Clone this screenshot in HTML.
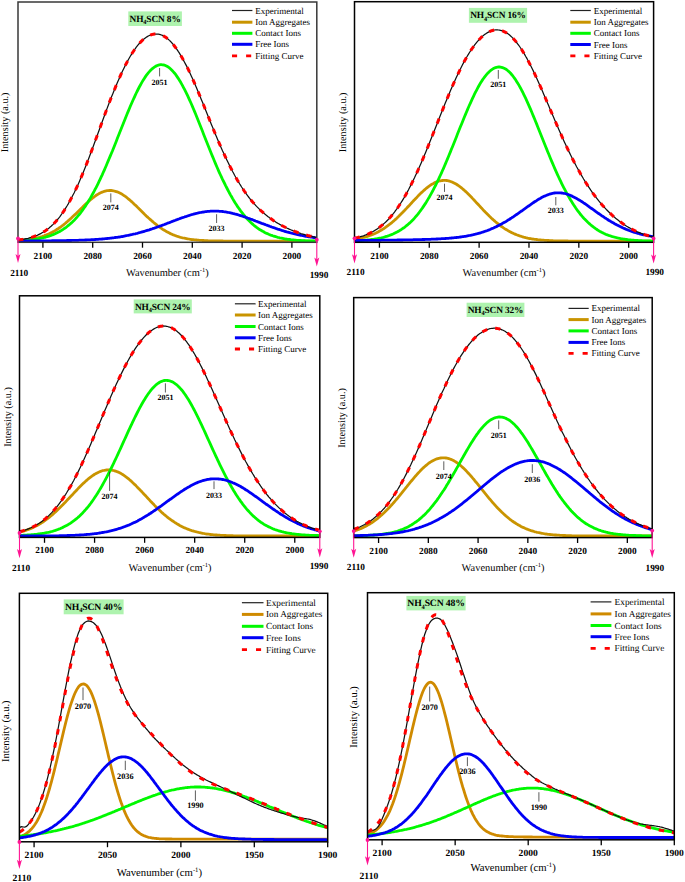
<!DOCTYPE html>
<html><head><meta charset="utf-8"><style>
html,body{margin:0;padding:0;background:#fff;width:685px;height:882px;overflow:hidden}
svg{display:block}
text{font-family:"Liberation Serif",serif;fill:#000;text-rendering:geometricPrecision}
.tl{font-size:9px;font-weight:bold;text-anchor:middle}
.pl{font-size:8px;font-weight:bold;text-anchor:middle}
.tt{font-size:9.4px;letter-spacing:-0.15px;font-weight:bold;text-anchor:middle}
.lg{font-size:9px}
.al{font-size:10px;text-anchor:middle}
.xl{font-size:10.4px;text-anchor:middle}
</style></head><body>
<svg width="685" height="882" viewBox="0 0 685 882"><defs><clipPath id="c8"><rect x="18.00" y="2.00" width="298.80" height="240.30"/></clipPath><clipPath id="c16"><rect x="354.50" y="1.70" width="299.10" height="240.60"/></clipPath><clipPath id="c24"><rect x="19.50" y="295.80" width="300.30" height="241.60"/></clipPath><clipPath id="c32"><rect x="353.70" y="297.60" width="298.50" height="240.00"/></clipPath><clipPath id="c40"><rect x="19.40" y="593.30" width="308.30" height="248.50"/></clipPath><clipPath id="c48"><rect x="367.50" y="592.70" width="306.80" height="247.10"/></clipPath></defs>
<g clip-path="url(#c8)" fill="none">
<path d="M18.0,240.4L19.0,240.4L20.0,240.3L21.0,240.2L22.0,240.2L23.0,240.1L24.0,240.0L25.0,239.9L26.0,239.8L27.0,239.6L28.0,239.5L29.0,239.4L30.0,239.2L31.0,239.1L32.0,238.9L33.0,238.7L34.0,238.5L35.0,238.3L36.0,238.1L37.1,237.9L38.1,237.6L39.1,237.4L40.1,237.1L41.1,236.8L42.1,236.5L43.1,236.1L44.1,235.8L45.1,235.4L46.1,235.0L47.1,234.6L48.1,234.2L49.1,233.8L50.1,233.3L51.1,232.8L52.1,232.3L53.1,231.7L54.1,231.2L55.1,230.6L56.1,230.0L57.1,229.3L58.1,228.7L59.1,228.0L60.1,227.3L61.1,226.6L62.1,225.8L63.1,225.1L64.1,224.3L65.1,223.5L66.1,222.6L67.1,221.8L68.1,220.9L69.1,220.0L70.1,219.1L71.1,218.2L72.1,217.2L73.1,216.3L74.2,215.3L75.2,214.4L76.2,213.4L77.2,212.4L78.2,211.4L79.2,210.4L80.2,209.4L81.2,208.4L82.2,207.5L83.2,206.5L84.2,205.5L85.2,204.5L86.2,203.6L87.2,202.7L88.2,201.7L89.2,200.8L90.2,200.0L91.2,199.1L92.2,198.3L93.2,197.5L94.2,196.8L95.2,196.0L96.2,195.3L97.2,194.7L98.2,194.1L99.2,193.5L100.2,193.0L101.2,192.5L102.2,192.1L103.2,191.7L104.2,191.4L105.2,191.1L106.2,190.9L107.2,190.7L108.2,190.6L109.2,190.5L110.2,190.5L111.2,190.5L112.3,190.6L113.3,190.8L114.3,191.0L115.3,191.3L116.3,191.6L117.3,191.9L118.3,192.3L119.3,192.8L120.3,193.3L121.3,193.8L122.3,194.4L123.3,195.1L124.3,195.7L125.3,196.5L126.3,197.2L127.3,198.0L128.3,198.8L129.3,199.6L130.3,200.5L131.3,201.4L132.3,202.3L133.3,203.2L134.3,204.2L135.3,205.1L136.3,206.1L137.3,207.1L138.3,208.0L139.3,209.0L140.3,210.0L141.3,211.0L142.3,212.0L143.3,213.0L144.3,214.0L145.3,214.9L146.3,215.9L147.3,216.9L148.3,217.8L149.4,218.7L150.4,219.6L151.4,220.5L152.4,221.4L153.4,222.3L154.4,223.1L155.4,223.9L156.4,224.7L157.4,225.5L158.4,226.3L159.4,227.0L160.4,227.7L161.4,228.4L162.4,229.1L163.4,229.7L164.4,230.3L165.4,230.9L166.4,231.5L167.4,232.1L168.4,232.6L169.4,233.1L170.4,233.6L171.4,234.0L172.4,234.5L173.4,234.9L174.4,235.3L175.4,235.6L176.4,236.0L177.4,236.3L178.4,236.7L179.4,237.0L180.4,237.3L181.4,237.5L182.4,237.8L183.4,238.0L184.4,238.2L185.4,238.4L186.5,238.6L187.5,238.8L188.5,239.0L189.5,239.2L190.5,239.3L191.5,239.5L192.5,239.6L193.5,239.7L194.5,239.8L195.5,239.9L196.5,240.0L197.5,240.1L198.5,240.2L199.5,240.3L200.5,240.3L201.5,240.4L202.5,240.5L203.5,240.5L204.5,240.6L205.5,240.6L206.5,240.7L207.5,240.7L208.5,240.8L209.5,240.8L210.5,240.8L211.5,240.8L212.5,240.9L213.5,240.9L214.5,240.9L215.5,240.9L216.5,241.0L217.5,241.0L218.5,241.0L219.5,241.0L220.5,241.0L221.5,241.0L222.5,241.0L223.6,241.1L224.6,241.1L225.6,241.1L226.6,241.1L227.6,241.1L228.6,241.1L229.6,241.1L230.6,241.1L231.6,241.1L232.6,241.1L233.6,241.1L234.6,241.1L235.6,241.1L236.6,241.1L237.6,241.1L238.6,241.1L239.6,241.1L240.6,241.1L241.6,241.2L242.6,241.2L243.6,241.2L244.6,241.2L245.6,241.2L246.6,241.2L247.6,241.2L248.6,241.2L249.6,241.2L250.6,241.2L251.6,241.2L252.6,241.2L253.6,241.2L254.6,241.2L255.6,241.2L256.6,241.2L257.6,241.2L258.6,241.2L259.6,241.2L260.6,241.2L261.7,241.2L262.7,241.2L263.7,241.2L264.7,241.2L265.7,241.2L266.7,241.2L267.7,241.2L268.7,241.2L269.7,241.2L270.7,241.2L271.7,241.2L272.7,241.2L273.7,241.2L274.7,241.2L275.7,241.2L276.7,241.2L277.7,241.2L278.7,241.2L279.7,241.2L280.7,241.2L281.7,241.2L282.7,241.2L283.7,241.2L284.7,241.2L285.7,241.2L286.7,241.2L287.7,241.2L288.7,241.2L289.7,241.2L290.7,241.2L291.7,241.2L292.7,241.2L293.7,241.2L294.7,241.2L295.7,241.2L296.7,241.2L297.7,241.2L298.8,241.2L299.8,241.2L300.8,241.2L301.8,241.2L302.8,241.2L303.8,241.2L304.8,241.2L305.8,241.2L306.8,241.2L307.8,241.2L308.8,241.2L309.8,241.2L310.8,241.2L311.8,241.2L312.8,241.2L313.8,241.2L314.8,241.2L315.8,241.2L316.8,241.2" stroke="#c99400" stroke-width="2.8"/>
<path d="M18.0,240.7L19.0,240.7L20.0,240.6L21.0,240.6L22.0,240.5L23.0,240.5L24.0,240.4L25.0,240.3L26.0,240.2L27.0,240.2L28.0,240.1L29.0,240.0L30.0,239.9L31.0,239.8L32.0,239.6L33.0,239.5L34.0,239.4L35.0,239.3L36.0,239.1L37.1,238.9L38.1,238.8L39.1,238.6L40.1,238.4L41.1,238.2L42.1,238.0L43.1,237.8L44.1,237.5L45.1,237.3L46.1,237.0L47.1,236.7L48.1,236.4L49.1,236.1L50.1,235.7L51.1,235.4L52.1,235.0L53.1,234.6L54.1,234.2L55.1,233.8L56.1,233.3L57.1,232.8L58.1,232.3L59.1,231.8L60.1,231.2L61.1,230.6L62.1,230.0L63.1,229.4L64.1,228.7L65.1,228.0L66.1,227.3L67.1,226.5L68.1,225.7L69.1,224.9L70.1,224.0L71.1,223.1L72.1,222.2L73.1,221.2L74.2,220.2L75.2,219.1L76.2,218.0L77.2,216.9L78.2,215.7L79.2,214.5L80.2,213.3L81.2,212.0L82.2,210.6L83.2,209.3L84.2,207.8L85.2,206.4L86.2,204.8L87.2,203.3L88.2,201.7L89.2,200.0L90.2,198.4L91.2,196.6L92.2,194.8L93.2,193.0L94.2,191.2L95.2,189.2L96.2,187.3L97.2,185.3L98.2,183.3L99.2,181.2L100.2,179.1L101.2,176.9L102.2,174.8L103.2,172.5L104.2,170.3L105.2,168.0L106.2,165.7L107.2,163.3L108.2,160.9L109.2,158.5L110.2,156.1L111.2,153.7L112.3,151.2L113.3,148.7L114.3,146.2L115.3,143.7L116.3,141.2L117.3,138.6L118.3,136.1L119.3,133.6L120.3,131.0L121.3,128.5L122.3,126.0L123.3,123.4L124.3,120.9L125.3,118.4L126.3,116.0L127.3,113.5L128.3,111.1L129.3,108.7L130.3,106.3L131.3,104.0L132.3,101.7L133.3,99.5L134.3,97.3L135.3,95.1L136.3,93.0L137.3,91.0L138.3,89.0L139.3,87.0L140.3,85.2L141.3,83.4L142.3,81.6L143.3,80.0L144.3,78.4L145.3,76.9L146.3,75.4L147.3,74.1L148.3,72.8L149.4,71.6L150.4,70.5L151.4,69.5L152.4,68.6L153.4,67.8L154.4,67.1L155.4,66.4L156.4,65.9L157.4,65.5L158.4,65.1L159.4,64.9L160.4,64.7L161.4,64.7L162.4,64.8L163.4,64.9L164.4,65.2L165.4,65.5L166.4,66.0L167.4,66.5L168.4,67.2L169.4,67.9L170.4,68.7L171.4,69.7L172.4,70.7L173.4,71.8L174.4,73.0L175.4,74.2L176.4,75.6L177.4,77.1L178.4,78.6L179.4,80.2L180.4,81.8L181.4,83.6L182.4,85.4L183.4,87.3L184.4,89.2L185.4,91.2L186.5,93.3L187.5,95.4L188.5,97.6L189.5,99.8L190.5,102.0L191.5,104.3L192.5,106.6L193.5,109.0L194.5,111.4L195.5,113.8L196.5,116.3L197.5,118.8L198.5,121.3L199.5,123.8L200.5,126.3L201.5,128.8L202.5,131.3L203.5,133.9L204.5,136.4L205.5,139.0L206.5,141.5L207.5,144.0L208.5,146.5L209.5,149.0L210.5,151.5L211.5,154.0L212.5,156.4L213.5,158.8L214.5,161.2L215.5,163.6L216.5,166.0L217.5,168.3L218.5,170.6L219.5,172.8L220.5,175.0L221.5,177.2L222.5,179.4L223.6,181.5L224.6,183.5L225.6,185.6L226.6,187.5L227.6,189.5L228.6,191.4L229.6,193.3L230.6,195.1L231.6,196.8L232.6,198.6L233.6,200.3L234.6,201.9L235.6,203.5L236.6,205.0L237.6,206.6L238.6,208.0L239.6,209.4L240.6,210.8L241.6,212.1L242.6,213.4L243.6,214.7L244.6,215.9L245.6,217.1L246.6,218.2L247.6,219.3L248.6,220.3L249.6,221.3L250.6,222.3L251.6,223.2L252.6,224.1L253.6,225.0L254.6,225.8L255.6,226.6L256.6,227.4L257.6,228.1L258.6,228.8L259.6,229.5L260.6,230.1L261.7,230.7L262.7,231.3L263.7,231.8L264.7,232.4L265.7,232.9L266.7,233.4L267.7,233.8L268.7,234.3L269.7,234.7L270.7,235.1L271.7,235.4L272.7,235.8L273.7,236.1L274.7,236.4L275.7,236.7L276.7,237.0L277.7,237.3L278.7,237.5L279.7,237.8L280.7,238.0L281.7,238.2L282.7,238.4L283.7,238.6L284.7,238.8L285.7,239.0L286.7,239.1L287.7,239.3L288.7,239.4L289.7,239.5L290.7,239.7L291.7,239.8L292.7,239.9L293.7,240.0L294.7,240.1L295.7,240.2L296.7,240.3L297.7,240.3L298.8,240.4L299.8,240.5L300.8,240.5L301.8,240.6L302.8,240.6L303.8,240.7L304.8,240.7L305.8,240.8L306.8,240.8L307.8,240.9L308.8,240.9L309.8,240.9L310.8,241.0L311.8,241.0L312.8,241.0L313.8,241.0L314.8,241.1L315.8,241.1L316.8,241.1" stroke="#00f800" stroke-width="2.8"/>
<path d="M18.0,240.9L19.0,240.9L20.0,240.9L21.0,240.9L22.0,240.9L23.0,240.9L24.0,240.9L25.0,240.9L26.0,240.9L27.0,240.9L28.0,240.9L29.0,240.9L30.0,240.9L31.0,240.9L32.0,240.9L33.0,240.9L34.0,240.9L35.0,240.9L36.0,240.9L37.1,240.9L38.1,240.9L39.1,240.8L40.1,240.8L41.1,240.8L42.1,240.8L43.1,240.8L44.1,240.8L45.1,240.8L46.1,240.8L47.1,240.8L48.1,240.8L49.1,240.8L50.1,240.8L51.1,240.8L52.1,240.7L53.1,240.7L54.1,240.7L55.1,240.7L56.1,240.7L57.1,240.7L58.1,240.7L59.1,240.7L60.1,240.7L61.1,240.6L62.1,240.6L63.1,240.6L64.1,240.6L65.1,240.6L66.1,240.6L67.1,240.5L68.1,240.5L69.1,240.5L70.1,240.5L71.1,240.5L72.1,240.4L73.1,240.4L74.2,240.4L75.2,240.4L76.2,240.3L77.2,240.3L78.2,240.3L79.2,240.2L80.2,240.2L81.2,240.2L82.2,240.1L83.2,240.1L84.2,240.1L85.2,240.0L86.2,240.0L87.2,239.9L88.2,239.9L89.2,239.8L90.2,239.8L91.2,239.7L92.2,239.7L93.2,239.6L94.2,239.6L95.2,239.5L96.2,239.4L97.2,239.4L98.2,239.3L99.2,239.2L100.2,239.1L101.2,239.1L102.2,239.0L103.2,238.9L104.2,238.8L105.2,238.7L106.2,238.6L107.2,238.5L108.2,238.4L109.2,238.3L110.2,238.2L111.2,238.1L112.3,237.9L113.3,237.8L114.3,237.7L115.3,237.5L116.3,237.4L117.3,237.3L118.3,237.1L119.3,237.0L120.3,236.8L121.3,236.6L122.3,236.5L123.3,236.3L124.3,236.1L125.3,235.9L126.3,235.7L127.3,235.5L128.3,235.3L129.3,235.1L130.3,234.9L131.3,234.7L132.3,234.5L133.3,234.2L134.3,234.0L135.3,233.8L136.3,233.5L137.3,233.3L138.3,233.0L139.3,232.7L140.3,232.5L141.3,232.2L142.3,231.9L143.3,231.6L144.3,231.3L145.3,231.0L146.3,230.7L147.3,230.4L148.3,230.1L149.4,229.8L150.4,229.4L151.4,229.1L152.4,228.8L153.4,228.4L154.4,228.1L155.4,227.7L156.4,227.4L157.4,227.0L158.4,226.7L159.4,226.3L160.4,225.9L161.4,225.6L162.4,225.2L163.4,224.8L164.4,224.5L165.4,224.1L166.4,223.7L167.4,223.3L168.4,222.9L169.4,222.6L170.4,222.2L171.4,221.8L172.4,221.4L173.4,221.0L174.4,220.6L175.4,220.3L176.4,219.9L177.4,219.5L178.4,219.1L179.4,218.8L180.4,218.4L181.4,218.0L182.4,217.7L183.4,217.3L184.4,217.0L185.4,216.6L186.5,216.3L187.5,216.0L188.5,215.7L189.5,215.3L190.5,215.0L191.5,214.7L192.5,214.5L193.5,214.2L194.5,213.9L195.5,213.6L196.5,213.4L197.5,213.2L198.5,212.9L199.5,212.7L200.5,212.5L201.5,212.3L202.5,212.1L203.5,212.0L204.5,211.8L205.5,211.7L206.5,211.6L207.5,211.4L208.5,211.3L209.5,211.3L210.5,211.2L211.5,211.1L212.5,211.1L213.5,211.1L214.5,211.1L215.5,211.1L216.5,211.1L217.5,211.1L218.5,211.2L219.5,211.3L220.5,211.3L221.5,211.4L222.5,211.5L223.6,211.7L224.6,211.8L225.6,211.9L226.6,212.1L227.6,212.3L228.6,212.5L229.6,212.7L230.6,212.9L231.6,213.1L232.6,213.4L233.6,213.6L234.6,213.9L235.6,214.1L236.6,214.4L237.6,214.7L238.6,215.0L239.6,215.3L240.6,215.6L241.6,215.9L242.6,216.3L243.6,216.6L244.6,216.9L245.6,217.3L246.6,217.6L247.6,218.0L248.6,218.3L249.6,218.7L250.6,219.1L251.6,219.4L252.6,219.8L253.6,220.2L254.6,220.6L255.6,221.0L256.6,221.3L257.6,221.7L258.6,222.1L259.6,222.5L260.6,222.9L261.7,223.3L262.7,223.6L263.7,224.0L264.7,224.4L265.7,224.8L266.7,225.1L267.7,225.5L268.7,225.9L269.7,226.3L270.7,226.6L271.7,227.0L272.7,227.3L273.7,227.7L274.7,228.0L275.7,228.4L276.7,228.7L277.7,229.1L278.7,229.4L279.7,229.7L280.7,230.0L281.7,230.4L282.7,230.7L283.7,231.0L284.7,231.3L285.7,231.6L286.7,231.9L287.7,232.1L288.7,232.4L289.7,232.7L290.7,233.0L291.7,233.2L292.7,233.5L293.7,233.7L294.7,234.0L295.7,234.2L296.7,234.4L297.7,234.7L298.8,234.9L299.8,235.1L300.8,235.3L301.8,235.5L302.8,235.7L303.8,235.9L304.8,236.1L305.8,236.3L306.8,236.4L307.8,236.6L308.8,236.8L309.8,236.9L310.8,237.1L311.8,237.2L312.8,237.4L313.8,237.5L314.8,237.7L315.8,237.8L316.8,237.9" stroke="#0000f5" stroke-width="2.8"/>
<path d="M18.0,240.0L19.0,239.9L20.0,239.7L21.0,239.6L22.0,239.4L23.0,239.3L24.0,239.1L25.0,238.9L26.0,238.7L27.0,238.5L28.0,238.3L29.0,238.0L30.0,237.7L31.0,237.5L32.0,237.2L33.0,236.8L34.0,236.5L35.0,236.1L36.0,235.7L37.1,235.3L38.1,234.9L39.1,234.4L40.1,233.9L41.1,233.4L42.1,232.8L43.1,232.2L44.1,231.6L45.1,231.0L46.1,230.3L47.1,229.5L48.1,228.8L49.1,228.0L50.1,227.1L51.1,226.3L52.1,225.3L53.1,224.4L54.1,223.4L55.1,222.3L56.1,221.2L57.1,220.0L58.1,218.8L59.1,217.6L60.1,216.3L61.1,214.9L62.1,213.5L63.1,212.1L64.1,210.6L65.1,209.0L66.1,207.4L67.1,205.8L68.1,204.1L69.1,202.3L70.1,200.5L71.1,198.6L72.1,196.7L73.1,194.7L74.2,192.7L75.2,190.6L76.2,188.5L77.2,186.4L78.2,184.2L79.2,181.9L80.2,179.6L81.2,177.2L82.2,174.9L83.2,172.4L84.2,170.0L85.2,167.5L86.2,165.0L87.2,162.4L88.2,159.8L89.2,157.2L90.2,154.5L91.2,151.9L92.2,149.2L93.2,146.5L94.2,143.7L95.2,141.0L96.2,138.3L97.2,135.5L98.2,132.8L99.2,130.0L100.2,127.2L101.2,124.5L102.2,121.7L103.2,119.0L104.2,116.2L105.2,113.5L106.2,110.8L107.2,108.1L108.2,105.5L109.2,102.8L110.2,100.2L111.2,97.6L112.3,95.1L113.3,92.5L114.3,90.1L115.3,87.6L116.3,85.2L117.3,82.8L118.3,80.5L119.3,78.2L120.3,75.9L121.3,73.7L122.3,71.6L123.3,69.5L124.3,67.4L125.3,65.4L126.3,63.5L127.3,61.6L128.3,59.8L129.3,58.0L130.3,56.3L131.3,54.6L132.3,53.0L133.3,51.5L134.3,50.0L135.3,48.6L136.3,47.2L137.3,45.9L138.3,44.7L139.3,43.5L140.3,42.4L141.3,41.4L142.3,40.4L143.3,39.5L144.3,38.7L145.3,37.9L146.3,37.2L147.3,36.6L148.3,36.0L149.4,35.5L150.4,35.1L151.4,34.7L152.4,34.4L153.4,34.2L154.4,34.0L155.4,34.0L156.4,34.0L157.4,34.0L158.4,34.2L159.4,34.4L160.4,34.6L161.4,35.0L162.4,35.4L163.4,35.9L164.4,36.5L165.4,37.1L166.4,37.8L167.4,38.6L168.4,39.4L169.4,40.4L170.4,41.3L171.4,42.4L172.4,43.5L173.4,44.7L174.4,46.0L175.4,47.3L176.4,48.7L177.4,50.1L178.4,51.7L179.4,53.2L180.4,54.9L181.4,56.6L182.4,58.3L183.4,60.1L184.4,62.0L185.4,63.9L186.5,65.9L187.5,67.9L188.5,69.9L189.5,72.0L190.5,74.2L191.5,76.4L192.5,78.6L193.5,80.9L194.5,83.1L195.5,85.5L196.5,87.8L197.5,90.2L198.5,92.6L199.5,95.0L200.5,97.4L201.5,99.9L202.5,102.3L203.5,104.8L204.5,107.3L205.5,109.8L206.5,112.3L207.5,114.8L208.5,117.2L209.5,119.7L210.5,122.2L211.5,124.7L212.5,127.1L213.5,129.6L214.5,132.0L215.5,134.4L216.5,136.8L217.5,139.2L218.5,141.6L219.5,143.9L220.5,146.2L221.5,148.5L222.5,150.7L223.6,152.9L224.6,155.1L225.6,157.3L226.6,159.4L227.6,161.5L228.6,163.6L229.6,165.6L230.6,167.6L231.6,169.5L232.6,171.5L233.6,173.3L234.6,175.2L235.6,177.0L236.6,178.7L237.6,180.5L238.6,182.1L239.6,183.8L240.6,185.4L241.6,187.0L242.6,188.5L243.6,190.0L244.6,191.5L245.6,192.9L246.6,194.3L247.6,195.7L248.6,197.0L249.6,198.3L250.6,199.5L251.6,200.8L252.6,201.9L253.6,203.1L254.6,204.2L255.6,205.3L256.6,206.4L257.6,207.4L258.6,208.4L259.6,209.4L260.6,210.4L261.7,211.3L262.7,212.2L263.7,213.1L264.7,213.9L265.7,214.8L266.7,215.6L267.7,216.4L268.7,217.1L269.7,217.9L270.7,218.6L271.7,219.3L272.7,220.0L273.7,220.7L274.7,221.3L275.7,222.0L276.7,222.6L277.7,223.2L278.7,223.8L279.7,224.4L280.7,224.9L281.7,225.5L282.7,226.0L283.7,226.5L284.7,227.0L285.7,227.5L286.7,228.0L287.7,228.4L288.7,228.9L289.7,229.3L290.7,229.8L291.7,230.2L292.7,230.6L293.7,231.0L294.7,231.4L295.7,231.7L296.7,232.1L297.7,232.5L298.8,232.8L299.8,233.1L300.8,233.5L301.8,233.8L302.8,234.1L303.8,234.4L304.8,234.7L305.8,235.0L306.8,235.2L307.8,235.5L308.8,235.7L309.8,236.0L310.8,236.2L311.8,236.4L312.8,236.7L313.8,236.9L314.8,237.1L315.8,237.3L316.8,237.5" stroke="#111" stroke-width="1.25"/>
<path d="M18.0,240.0L19.0,239.9L20.0,239.7L21.0,239.6L22.0,239.4L23.0,239.3L24.0,239.1L25.0,238.9L26.0,238.7L27.0,238.5L28.0,238.3L29.0,238.0L30.0,237.7L31.0,237.5L32.0,237.2L33.0,236.8L34.0,236.5L35.0,236.1L36.0,235.7L37.1,235.3L38.1,234.9L39.1,234.4L40.1,233.9L41.1,233.4L42.1,232.8L43.1,232.2L44.1,231.6L45.1,231.0L46.1,230.3L47.1,229.5L48.1,228.8L49.1,228.0L50.1,227.1L51.1,226.3L52.1,225.3L53.1,224.4L54.1,223.4L55.1,222.3L56.1,221.2L57.1,220.0L58.1,218.8L59.1,217.6L60.1,216.3L61.1,214.9L62.1,213.5L63.1,212.1L64.1,210.6L65.1,209.0L66.1,207.4L67.1,205.8L68.1,204.1L69.1,202.3L70.1,200.5L71.1,198.6L72.1,196.7L73.1,194.7L74.2,192.7L75.2,190.6L76.2,188.5L77.2,186.4L78.2,184.2L79.2,181.9L80.2,179.6L81.2,177.2L82.2,174.9L83.2,172.4L84.2,170.0L85.2,167.5L86.2,165.0L87.2,162.4L88.2,159.8L89.2,157.2L90.2,154.5L91.2,151.9L92.2,149.2L93.2,146.5L94.2,143.7L95.2,141.0L96.2,138.3L97.2,135.5L98.2,132.8L99.2,130.0L100.2,127.2L101.2,124.5L102.2,121.7L103.2,119.0L104.2,116.2L105.2,113.5L106.2,110.8L107.2,108.1L108.2,105.5L109.2,102.8L110.2,100.2L111.2,97.6L112.3,95.1L113.3,92.5L114.3,90.1L115.3,87.6L116.3,85.2L117.3,82.8L118.3,80.5L119.3,78.2L120.3,75.9L121.3,73.7L122.3,71.6L123.3,69.5L124.3,67.4L125.3,65.4L126.3,63.5L127.3,61.6L128.3,59.8L129.3,58.0L130.3,56.3L131.3,54.6L132.3,53.0L133.3,51.5L134.3,50.0L135.3,48.6L136.3,47.2L137.3,45.9L138.3,44.7L139.3,43.5L140.3,42.4L141.3,41.4L142.3,40.4L143.3,39.5L144.3,38.7L145.3,37.9L146.3,37.2L147.3,36.6L148.3,36.0L149.4,35.5L150.4,35.1L151.4,34.7L152.4,34.4L153.4,34.2L154.4,34.0L155.4,34.0L156.4,34.0L157.4,34.0L158.4,34.2L159.4,34.4L160.4,34.6L161.4,35.0L162.4,35.4L163.4,35.9L164.4,36.5L165.4,37.1L166.4,37.8L167.4,38.6L168.4,39.4L169.4,40.4L170.4,41.3L171.4,42.4L172.4,43.5L173.4,44.7L174.4,46.0L175.4,47.3L176.4,48.7L177.4,50.1L178.4,51.7L179.4,53.2L180.4,54.9L181.4,56.6L182.4,58.3L183.4,60.1L184.4,62.0L185.4,63.9L186.5,65.9L187.5,67.9L188.5,69.9L189.5,72.0L190.5,74.2L191.5,76.4L192.5,78.6L193.5,80.9L194.5,83.1L195.5,85.5L196.5,87.8L197.5,90.2L198.5,92.6L199.5,95.0L200.5,97.4L201.5,99.9L202.5,102.3L203.5,104.8L204.5,107.3L205.5,109.8L206.5,112.3L207.5,114.8L208.5,117.2L209.5,119.7L210.5,122.2L211.5,124.7L212.5,127.1L213.5,129.6L214.5,132.0L215.5,134.4L216.5,136.8L217.5,139.2L218.5,141.6L219.5,143.9L220.5,146.2L221.5,148.5L222.5,150.7L223.6,152.9L224.6,155.1L225.6,157.3L226.6,159.4L227.6,161.5L228.6,163.6L229.6,165.6L230.6,167.6L231.6,169.5L232.6,171.5L233.6,173.3L234.6,175.2L235.6,177.0L236.6,178.7L237.6,180.5L238.6,182.1L239.6,183.8L240.6,185.4L241.6,187.0L242.6,188.5L243.6,190.0L244.6,191.5L245.6,192.9L246.6,194.3L247.6,195.7L248.6,197.0L249.6,198.3L250.6,199.5L251.6,200.8L252.6,201.9L253.6,203.1L254.6,204.2L255.6,205.3L256.6,206.4L257.6,207.4L258.6,208.4L259.6,209.4L260.6,210.4L261.7,211.3L262.7,212.2L263.7,213.1L264.7,213.9L265.7,214.8L266.7,215.6L267.7,216.4L268.7,217.1L269.7,217.9L270.7,218.6L271.7,219.3L272.7,220.0L273.7,220.7L274.7,221.3L275.7,222.0L276.7,222.6L277.7,223.2L278.7,223.8L279.7,224.4L280.7,224.9L281.7,225.5L282.7,226.0L283.7,226.5L284.7,227.0L285.7,227.5L286.7,228.0L287.7,228.4L288.7,228.9L289.7,229.3L290.7,229.8L291.7,230.2L292.7,230.6L293.7,231.0L294.7,231.4L295.7,231.7L296.7,232.1L297.7,232.5L298.8,232.8L299.8,233.1L300.8,233.5L301.8,233.8L302.8,234.1L303.8,234.4L304.8,234.7L305.8,235.0L306.8,235.2L307.8,235.5L308.8,235.7L309.8,236.0L310.8,236.2L311.8,236.4L312.8,236.7L313.8,236.9L314.8,237.1L315.8,237.3L316.8,237.5" stroke="#ff0000" stroke-width="3" stroke-dasharray="5.4 8"/>
</g>
<rect x="18.00" y="2.00" width="298.80" height="240.30" fill="none" stroke="#383838" stroke-width="1.5"/>
<line x1="42.90" y1="242.30" x2="42.90" y2="247.70" stroke="#000" stroke-width="1.3"/>
<text x="42.90" y="258.50" class="tl" style="font-size:9.30px">2100</text>
<line x1="92.70" y1="242.30" x2="92.70" y2="247.70" stroke="#000" stroke-width="1.3"/>
<text x="92.70" y="258.50" class="tl" style="font-size:9.30px">2080</text>
<line x1="142.50" y1="242.30" x2="142.50" y2="247.70" stroke="#000" stroke-width="1.3"/>
<text x="142.50" y="258.50" class="tl" style="font-size:9.30px">2060</text>
<line x1="192.30" y1="242.30" x2="192.30" y2="247.70" stroke="#000" stroke-width="1.3"/>
<text x="192.30" y="258.50" class="tl" style="font-size:9.30px">2040</text>
<line x1="242.10" y1="242.30" x2="242.10" y2="247.70" stroke="#000" stroke-width="1.3"/>
<text x="242.10" y="258.50" class="tl" style="font-size:9.30px">2020</text>
<line x1="291.90" y1="242.30" x2="291.90" y2="247.70" stroke="#000" stroke-width="1.3"/>
<text x="291.90" y="258.50" class="tl" style="font-size:9.30px">2000</text>
<line x1="159.60" y1="68.00" x2="159.60" y2="76.40" stroke="#333" stroke-width="0.8"/>
<text x="159.60" y="84.50" class="pl" style="font-size:8.00px">2051</text>
<line x1="110.80" y1="193.40" x2="110.80" y2="202.40" stroke="#333" stroke-width="0.8"/>
<text x="110.80" y="210.00" class="pl" style="font-size:8.00px">2074</text>
<line x1="216.60" y1="214.20" x2="216.60" y2="223.00" stroke="#333" stroke-width="0.8"/>
<text x="216.60" y="230.50" class="pl" style="font-size:8.00px">2033</text>
<rect x="128.30" y="11.40" width="53.60" height="14.60" fill="#aef3ae"/>
<text x="155.10" y="21.80" class="tt" style="font-size:9.40px">NH<tspan style="font-size:6.30px" dy="2.4">4</tspan><tspan dy="-2.4">SCN 8%</tspan></text>
<line x1="232.00" y1="10.50" x2="252.40" y2="10.50" stroke="#222" stroke-width="1.2"/>
<text x="255.30" y="13.50" class="lg" style="font-size:9.00px">Experimental</text>
<line x1="232.00" y1="22.20" x2="252.40" y2="22.20" stroke="#c99400" stroke-width="3"/>
<text x="255.30" y="25.20" class="lg" style="font-size:9.00px">Ion Aggregates</text>
<line x1="232.00" y1="33.30" x2="252.40" y2="33.30" stroke="#00f800" stroke-width="3"/>
<text x="255.30" y="36.30" class="lg" style="font-size:9.00px">Contact Ions</text>
<line x1="232.00" y1="44.30" x2="252.40" y2="44.30" stroke="#0000f5" stroke-width="3"/>
<text x="255.30" y="47.30" class="lg" style="font-size:9.00px">Free Ions</text>
<line x1="232.00" y1="55.90" x2="252.40" y2="55.90" stroke="#ff0000" stroke-width="2.8" stroke-dasharray="5.1 9"/>
<text x="255.30" y="58.90" class="lg" style="font-size:9.00px">Fitting Curve</text>
<text transform="translate(8.30,122.40) rotate(-90)" class="al" style="font-size:10.20px">Intensity (a.u.)</text>
<text x="167.30" y="275.70" class="xl" style="font-size:10.40px">Wavenumber (cm<tspan style="font-size:6.50px" dy="-4">-1</tspan><tspan dy="4">)</tspan></text>
<line x1="18.00" y1="238.50" x2="18.00" y2="258.50" stroke="#ff1493" stroke-width="1.1"/>
<path d="M15.50,254.00 L18.00,256.00 L20.50,254.00 L18.00,263.10 Z" fill="#ff1493"/>
<circle cx="18.00" cy="238.50" r="1.9" fill="#ff1493"/>
<text x="19.20" y="275.60" class="tl" style="font-size:9.30px">2110</text>
<line x1="316.80" y1="239.70" x2="316.80" y2="262.00" stroke="#ff1493" stroke-width="1.1"/>
<path d="M314.30,257.50 L316.80,259.50 L319.30,257.50 L316.80,266.60 Z" fill="#ff1493"/>
<circle cx="316.80" cy="239.70" r="1.9" fill="#ff1493"/>
<text x="319.00" y="278.00" class="tl" style="font-size:9.30px">1990</text>
<g clip-path="url(#c16)" fill="none">
<path d="M354.5,239.2L355.5,239.0L356.5,238.9L357.5,238.7L358.5,238.5L359.5,238.3L360.5,238.1L361.5,237.9L362.5,237.7L363.5,237.4L364.5,237.2L365.5,236.9L366.5,236.6L367.5,236.3L368.5,236.0L369.5,235.6L370.5,235.3L371.5,234.9L372.5,234.5L373.5,234.1L374.5,233.6L375.5,233.2L376.5,232.7L377.5,232.2L378.5,231.7L379.5,231.1L380.5,230.6L381.5,230.0L382.5,229.4L383.5,228.8L384.5,228.1L385.5,227.4L386.5,226.7L387.5,226.0L388.5,225.2L389.5,224.5L390.5,223.7L391.5,222.9L392.5,222.0L393.5,221.2L394.5,220.3L395.5,219.4L396.5,218.5L397.5,217.5L398.5,216.6L399.5,215.6L400.5,214.6L401.5,213.6L402.5,212.6L403.5,211.5L404.5,210.5L405.5,209.4L406.5,208.4L407.5,207.3L408.5,206.2L409.5,205.2L410.5,204.1L411.5,203.0L412.5,201.9L413.5,200.8L414.5,199.8L415.5,198.7L416.5,197.7L417.5,196.6L418.5,195.6L419.5,194.6L420.5,193.6L421.5,192.6L422.5,191.7L423.5,190.8L424.5,189.9L425.5,189.0L426.5,188.2L427.5,187.4L428.5,186.6L429.5,185.9L430.5,185.2L431.5,184.5L432.5,183.9L433.5,183.4L434.5,182.8L435.5,182.4L436.5,181.9L437.5,181.6L438.5,181.2L439.5,181.0L440.5,180.8L441.5,180.6L442.5,180.5L443.5,180.4L444.5,180.4L445.5,180.4L446.5,180.5L447.5,180.7L448.5,180.9L449.5,181.2L450.5,181.5L451.5,181.8L452.5,182.2L453.5,182.7L454.5,183.2L455.5,183.7L456.5,184.3L457.5,185.0L458.5,185.7L459.5,186.4L460.5,187.1L461.5,187.9L462.5,188.7L463.5,189.6L464.5,190.5L465.5,191.4L466.5,192.3L467.5,193.3L468.5,194.3L469.5,195.3L470.5,196.3L471.5,197.3L472.5,198.4L473.5,199.4L474.5,200.5L475.5,201.6L476.5,202.7L477.5,203.7L478.5,204.8L479.5,205.9L480.5,207.0L481.5,208.1L482.5,209.1L483.5,210.2L484.5,211.2L485.5,212.3L486.5,213.3L487.5,214.3L488.5,215.3L489.5,216.3L490.5,217.2L491.5,218.2L492.5,219.1L493.5,220.0L494.5,220.9L495.5,221.8L496.5,222.6L497.5,223.4L498.5,224.2L499.5,225.0L500.5,225.8L501.5,226.5L502.5,227.2L503.5,227.9L504.6,228.6L505.6,229.2L506.6,229.8L507.6,230.4L508.6,231.0L509.6,231.5L510.6,232.1L511.6,232.6L512.6,233.0L513.6,233.5L514.6,233.9L515.6,234.4L516.6,234.8L517.6,235.1L518.6,235.5L519.6,235.9L520.6,236.2L521.6,236.5L522.6,236.8L523.6,237.1L524.6,237.3L525.6,237.6L526.6,237.8L527.6,238.1L528.6,238.3L529.6,238.5L530.6,238.6L531.6,238.8L532.6,239.0L533.6,239.1L534.6,239.3L535.6,239.4L536.6,239.5L537.6,239.7L538.6,239.8L539.6,239.9L540.6,240.0L541.6,240.1L542.6,240.1L543.6,240.2L544.6,240.3L545.6,240.4L546.6,240.4L547.6,240.5L548.6,240.5L549.6,240.6L550.6,240.6L551.6,240.7L552.6,240.7L553.6,240.8L554.6,240.8L555.6,240.8L556.6,240.8L557.6,240.9L558.6,240.9L559.6,240.9L560.6,240.9L561.6,241.0L562.6,241.0L563.6,241.0L564.6,241.0L565.6,241.0L566.6,241.0L567.6,241.0L568.6,241.1L569.6,241.1L570.6,241.1L571.6,241.1L572.6,241.1L573.6,241.1L574.6,241.1L575.6,241.1L576.6,241.1L577.6,241.1L578.6,241.1L579.6,241.1L580.6,241.1L581.6,241.1L582.6,241.1L583.6,241.1L584.6,241.2L585.6,241.2L586.6,241.2L587.6,241.2L588.6,241.2L589.6,241.2L590.6,241.2L591.6,241.2L592.6,241.2L593.6,241.2L594.6,241.2L595.6,241.2L596.6,241.2L597.6,241.2L598.6,241.2L599.6,241.2L600.6,241.2L601.6,241.2L602.6,241.2L603.6,241.2L604.6,241.2L605.6,241.2L606.6,241.2L607.6,241.2L608.6,241.2L609.6,241.2L610.6,241.2L611.6,241.2L612.6,241.2L613.6,241.2L614.6,241.2L615.6,241.2L616.6,241.2L617.6,241.2L618.6,241.2L619.6,241.2L620.6,241.2L621.6,241.2L622.6,241.2L623.6,241.2L624.6,241.2L625.6,241.2L626.6,241.2L627.6,241.2L628.6,241.2L629.6,241.2L630.6,241.2L631.6,241.2L632.6,241.2L633.6,241.2L634.6,241.2L635.6,241.2L636.6,241.2L637.6,241.2L638.6,241.2L639.6,241.2L640.6,241.2L641.6,241.2L642.6,241.2L643.6,241.2L644.6,241.2L645.6,241.2L646.6,241.2L647.6,241.2L648.6,241.2L649.6,241.2L650.6,241.2L651.6,241.2L652.6,241.2L653.6,241.2" stroke="#c99400" stroke-width="2.8"/>
<path d="M354.5,240.8L355.5,240.8L356.5,240.7L357.5,240.7L358.5,240.6L359.5,240.6L360.5,240.5L361.5,240.5L362.5,240.4L363.5,240.3L364.5,240.2L365.5,240.2L366.5,240.1L367.5,240.0L368.5,239.9L369.5,239.8L370.5,239.6L371.5,239.5L372.5,239.4L373.5,239.3L374.5,239.1L375.5,238.9L376.5,238.8L377.5,238.6L378.5,238.4L379.5,238.2L380.5,238.0L381.5,237.8L382.5,237.5L383.5,237.3L384.5,237.0L385.5,236.7L386.5,236.4L387.5,236.1L388.5,235.7L389.5,235.4L390.5,235.0L391.5,234.6L392.5,234.2L393.5,233.8L394.5,233.3L395.5,232.8L396.5,232.3L397.5,231.8L398.5,231.2L399.5,230.6L400.5,230.0L401.5,229.4L402.5,228.7L403.5,228.0L404.5,227.3L405.5,226.5L406.5,225.7L407.5,224.9L408.5,224.0L409.5,223.1L410.5,222.2L411.5,221.2L412.5,220.2L413.5,219.2L414.5,218.1L415.5,216.9L416.5,215.8L417.5,214.6L418.5,213.3L419.5,212.0L420.5,210.7L421.5,209.3L422.5,207.9L423.5,206.4L424.5,204.9L425.5,203.4L426.5,201.8L427.5,200.1L428.5,198.4L429.5,196.7L430.5,194.9L431.5,193.1L432.5,191.3L433.5,189.4L434.5,187.4L435.5,185.5L436.5,183.4L437.5,181.4L438.5,179.3L439.5,177.1L440.5,175.0L441.5,172.8L442.5,170.5L443.5,168.3L444.5,166.0L445.5,163.6L446.5,161.3L447.5,158.9L448.5,156.5L449.5,154.0L450.5,151.6L451.5,149.1L452.5,146.7L453.5,144.2L454.5,141.7L455.5,139.2L456.5,136.7L457.5,134.1L458.5,131.6L459.5,129.1L460.5,126.6L461.5,124.2L462.5,121.7L463.5,119.2L464.5,116.8L465.5,114.4L466.5,112.0L467.5,109.6L468.5,107.3L469.5,105.0L470.5,102.8L471.5,100.6L472.5,98.4L473.5,96.3L474.5,94.2L475.5,92.2L476.5,90.3L477.5,88.4L478.5,86.5L479.5,84.8L480.5,83.1L481.5,81.5L482.5,79.9L483.5,78.5L484.5,77.1L485.5,75.8L486.5,74.6L487.5,73.4L488.5,72.4L489.5,71.4L490.5,70.5L491.5,69.8L492.5,69.1L493.5,68.5L494.5,68.0L495.5,67.6L496.5,67.3L497.5,67.1L498.5,67.0L499.5,67.0L500.5,67.1L501.5,67.3L502.5,67.6L503.5,68.0L504.6,68.5L505.6,69.0L506.6,69.7L507.6,70.5L508.6,71.3L509.6,72.3L510.6,73.3L511.6,74.5L512.6,75.7L513.6,77.0L514.6,78.4L515.6,79.8L516.6,81.4L517.6,83.0L518.6,84.6L519.6,86.4L520.6,88.2L521.6,90.1L522.6,92.0L523.6,94.1L524.6,96.1L525.6,98.2L526.6,100.4L527.6,102.6L528.6,104.8L529.6,107.1L530.6,109.4L531.6,111.8L532.6,114.2L533.6,116.6L534.6,119.0L535.6,121.5L536.6,123.9L537.6,126.4L538.6,128.9L539.6,131.4L540.6,133.9L541.6,136.5L542.6,139.0L543.6,141.5L544.6,144.0L545.6,146.5L546.6,148.9L547.6,151.4L548.6,153.8L549.6,156.3L550.6,158.7L551.6,161.1L552.6,163.4L553.6,165.8L554.6,168.1L555.6,170.3L556.6,172.6L557.6,174.8L558.6,177.0L559.6,179.1L560.6,181.2L561.6,183.3L562.6,185.3L563.6,187.3L564.6,189.2L565.6,191.1L566.6,193.0L567.6,194.8L568.6,196.6L569.6,198.3L570.6,200.0L571.6,201.6L572.6,203.2L573.6,204.8L574.6,206.3L575.6,207.8L576.6,209.2L577.6,210.6L578.6,211.9L579.6,213.2L580.6,214.5L581.6,215.7L582.6,216.8L583.6,218.0L584.6,219.1L585.6,220.1L586.6,221.1L587.6,222.1L588.6,223.0L589.6,223.9L590.6,224.8L591.6,225.6L592.6,226.4L593.6,227.2L594.6,227.9L595.6,228.7L596.6,229.3L597.6,230.0L598.6,230.6L599.6,231.2L600.6,231.7L601.6,232.3L602.6,232.8L603.6,233.3L604.6,233.7L605.6,234.2L606.6,234.6L607.6,235.0L608.6,235.4L609.6,235.7L610.6,236.0L611.6,236.4L612.6,236.7L613.6,237.0L614.6,237.2L615.6,237.5L616.6,237.7L617.6,238.0L618.6,238.2L619.6,238.4L620.6,238.6L621.6,238.8L622.6,238.9L623.6,239.1L624.6,239.2L625.6,239.4L626.6,239.5L627.6,239.6L628.6,239.8L629.6,239.9L630.6,240.0L631.6,240.1L632.6,240.2L633.6,240.2L634.6,240.3L635.6,240.4L636.6,240.5L637.6,240.5L638.6,240.6L639.6,240.6L640.6,240.7L641.6,240.7L642.6,240.8L643.6,240.8L644.6,240.9L645.6,240.9L646.6,240.9L647.6,241.0L648.6,241.0L649.6,241.0L650.6,241.0L651.6,241.1L652.6,241.1L653.6,241.1" stroke="#00f800" stroke-width="2.8"/>
<path d="M354.5,240.5L355.5,240.5L356.5,240.5L357.5,240.5L358.5,240.5L359.5,240.5L360.5,240.4L361.5,240.4L362.5,240.4L363.5,240.4L364.5,240.4L365.5,240.4L366.5,240.4L367.5,240.4L368.5,240.4L369.5,240.4L370.5,240.4L371.5,240.3L372.5,240.3L373.5,240.3L374.5,240.3L375.5,240.3L376.5,240.3L377.5,240.3L378.5,240.3L379.5,240.3L380.5,240.3L381.5,240.2L382.5,240.2L383.5,240.2L384.5,240.2L385.5,240.2L386.5,240.2L387.5,240.2L388.5,240.2L389.5,240.1L390.5,240.1L391.5,240.1L392.5,240.1L393.5,240.1L394.5,240.1L395.5,240.1L396.5,240.1L397.5,240.0L398.5,240.0L399.5,240.0L400.5,240.0L401.5,240.0L402.5,240.0L403.5,239.9L404.5,239.9L405.5,239.9L406.5,239.9L407.5,239.9L408.5,239.9L409.5,239.8L410.5,239.8L411.5,239.8L412.5,239.8L413.5,239.7L414.5,239.7L415.5,239.7L416.5,239.7L417.5,239.7L418.5,239.6L419.5,239.6L420.5,239.6L421.5,239.6L422.5,239.5L423.5,239.5L424.5,239.5L425.5,239.4L426.5,239.4L427.5,239.4L428.5,239.3L429.5,239.3L430.5,239.3L431.5,239.2L432.5,239.2L433.5,239.1L434.5,239.1L435.5,239.1L436.5,239.0L437.5,239.0L438.5,238.9L439.5,238.9L440.5,238.8L441.5,238.7L442.5,238.7L443.5,238.6L444.5,238.6L445.5,238.5L446.5,238.4L447.5,238.3L448.5,238.3L449.5,238.2L450.5,238.1L451.5,238.0L452.5,237.9L453.5,237.8L454.5,237.7L455.5,237.6L456.5,237.5L457.5,237.4L458.5,237.3L459.5,237.1L460.5,237.0L461.5,236.9L462.5,236.7L463.5,236.6L464.5,236.4L465.5,236.3L466.5,236.1L467.5,235.9L468.5,235.7L469.5,235.5L470.5,235.3L471.5,235.1L472.5,234.9L473.5,234.7L474.5,234.4L475.5,234.2L476.5,233.9L477.5,233.7L478.5,233.4L479.5,233.1L480.5,232.8L481.5,232.5L482.5,232.2L483.5,231.9L484.5,231.5L485.5,231.2L486.5,230.8L487.5,230.5L488.5,230.1L489.5,229.7L490.5,229.3L491.5,228.8L492.5,228.4L493.5,228.0L494.5,227.5L495.5,227.0L496.5,226.6L497.5,226.1L498.5,225.5L499.5,225.0L500.5,224.5L501.5,224.0L502.5,223.4L503.5,222.8L504.6,222.2L505.6,221.7L506.6,221.1L507.6,220.4L508.6,219.8L509.6,219.2L510.6,218.5L511.6,217.9L512.6,217.2L513.6,216.6L514.6,215.9L515.6,215.2L516.6,214.5L517.6,213.8L518.6,213.1L519.6,212.4L520.6,211.7L521.6,211.0L522.6,210.3L523.6,209.5L524.6,208.8L525.6,208.1L526.6,207.4L527.6,206.7L528.6,206.0L529.6,205.3L530.6,204.6L531.6,203.9L532.6,203.2L533.6,202.5L534.6,201.8L535.6,201.2L536.6,200.6L537.6,199.9L538.6,199.3L539.6,198.7L540.6,198.2L541.6,197.6L542.6,197.1L543.6,196.6L544.6,196.1L545.6,195.7L546.6,195.3L547.6,194.9L548.6,194.5L549.6,194.2L550.6,193.9L551.6,193.6L552.6,193.4L553.6,193.2L554.6,193.0L555.6,192.9L556.6,192.8L557.6,192.8L558.6,192.8L559.6,192.8L560.6,192.9L561.6,193.0L562.6,193.1L563.6,193.3L564.6,193.5L565.6,193.7L566.6,194.0L567.6,194.3L568.6,194.7L569.6,195.1L570.6,195.5L571.6,195.9L572.6,196.4L573.6,196.9L574.6,197.4L575.6,197.9L576.6,198.5L577.6,199.1L578.6,199.7L579.6,200.3L580.6,200.9L581.6,201.5L582.6,202.2L583.6,202.9L584.6,203.5L585.6,204.2L586.6,204.9L587.6,205.6L588.6,206.3L589.6,207.1L590.6,207.8L591.6,208.5L592.6,209.2L593.6,209.9L594.6,210.6L595.6,211.4L596.6,212.1L597.6,212.8L598.6,213.5L599.6,214.2L600.6,214.9L601.6,215.6L602.6,216.2L603.6,216.9L604.6,217.6L605.6,218.2L606.6,218.9L607.6,219.5L608.6,220.2L609.6,220.8L610.6,221.4L611.6,222.0L612.6,222.6L613.6,223.1L614.6,223.7L615.6,224.2L616.6,224.8L617.6,225.3L618.6,225.8L619.6,226.3L620.6,226.8L621.6,227.3L622.6,227.8L623.6,228.2L624.6,228.6L625.6,229.1L626.6,229.5L627.6,229.9L628.6,230.3L629.6,230.7L630.6,231.0L631.6,231.4L632.6,231.7L633.6,232.1L634.6,232.4L635.6,232.7L636.6,233.0L637.6,233.3L638.6,233.5L639.6,233.8L640.6,234.1L641.6,234.3L642.6,234.6L643.6,234.8L644.6,235.0L645.6,235.2L646.6,235.4L647.6,235.6L648.6,235.8L649.6,236.0L650.6,236.2L651.6,236.3L652.6,236.5L653.6,236.7" stroke="#0000f5" stroke-width="2.8"/>
<path d="M354.5,238.2L355.5,238.0L356.5,237.8L357.5,237.6L358.5,237.3L359.5,237.0L360.5,236.7L361.5,236.4L362.5,236.1L363.5,235.8L364.5,235.4L365.5,235.0L366.5,234.6L367.5,234.2L368.5,233.8L369.5,233.3L370.5,232.8L371.5,232.3L372.5,231.8L373.5,231.2L374.5,230.6L375.5,230.0L376.5,229.4L377.5,228.7L378.5,228.0L379.5,227.3L380.5,226.5L381.5,225.7L382.5,224.9L383.5,224.0L384.5,223.1L385.5,222.2L386.5,221.2L387.5,220.2L388.5,219.2L389.5,218.1L390.5,217.0L391.5,215.8L392.5,214.6L393.5,213.4L394.5,212.1L395.5,210.7L396.5,209.4L397.5,208.0L398.5,206.5L399.5,205.0L400.5,203.5L401.5,201.9L402.5,200.3L403.5,198.7L404.5,197.0L405.5,195.2L406.5,193.4L407.5,191.6L408.5,189.8L409.5,187.8L410.5,185.9L411.5,183.9L412.5,181.9L413.5,179.8L414.5,177.8L415.5,175.6L416.5,173.5L417.5,171.3L418.5,169.0L419.5,166.8L420.5,164.5L421.5,162.2L422.5,159.8L423.5,157.5L424.5,155.1L425.5,152.7L426.5,150.2L427.5,147.8L428.5,145.3L429.5,142.8L430.5,140.3L431.5,137.8L432.5,135.3L433.5,132.8L434.5,130.3L435.5,127.7L436.5,125.2L437.5,122.7L438.5,120.1L439.5,117.6L440.5,115.1L441.5,112.6L442.5,110.1L443.5,107.6L444.5,105.1L445.5,102.6L446.5,100.2L447.5,97.8L448.5,95.4L449.5,93.0L450.5,90.6L451.5,88.3L452.5,86.0L453.5,83.7L454.5,81.5L455.5,79.3L456.5,77.1L457.5,75.0L458.5,72.9L459.5,70.8L460.5,68.8L461.5,66.8L462.5,64.8L463.5,62.9L464.5,61.1L465.5,59.3L466.5,57.5L467.5,55.8L468.5,54.1L469.5,52.5L470.5,51.0L471.5,49.4L472.5,48.0L473.5,46.6L474.5,45.2L475.5,43.9L476.5,42.6L477.5,41.4L478.5,40.3L479.5,39.2L480.5,38.2L481.5,37.2L482.5,36.3L483.5,35.4L484.5,34.6L485.5,33.9L486.5,33.2L487.5,32.6L488.5,32.1L489.5,31.6L490.5,31.1L491.5,30.8L492.5,30.5L493.5,30.2L494.5,30.0L495.5,29.9L496.5,29.9L497.5,29.9L498.5,30.0L499.5,30.1L500.5,30.3L501.5,30.6L502.5,30.9L503.5,31.3L504.6,31.8L505.6,32.3L506.6,32.9L507.6,33.6L508.6,34.3L509.6,35.1L510.6,36.0L511.6,36.9L512.6,37.9L513.6,39.0L514.6,40.1L515.6,41.2L516.6,42.5L517.6,43.8L518.6,45.1L519.6,46.5L520.6,48.0L521.6,49.5L522.6,51.1L523.6,52.7L524.6,54.4L525.6,56.2L526.6,57.9L527.6,59.8L528.6,61.6L529.6,63.6L530.6,65.5L531.6,67.5L532.6,69.6L533.6,71.6L534.6,73.7L535.6,75.9L536.6,78.0L537.6,80.2L538.6,82.5L539.6,84.7L540.6,87.0L541.6,89.2L542.6,91.5L543.6,93.9L544.6,96.2L545.6,98.5L546.6,100.9L547.6,103.2L548.6,105.6L549.6,107.9L550.6,110.3L551.6,112.6L552.6,115.0L553.6,117.3L554.6,119.7L555.6,122.0L556.6,124.3L557.6,126.6L558.6,128.9L559.6,131.2L560.6,133.5L561.6,135.7L562.6,138.0L563.6,140.2L564.6,142.4L565.6,144.5L566.6,146.7L567.6,148.8L568.6,150.9L569.6,152.9L570.6,155.0L571.6,157.0L572.6,159.0L573.6,161.0L574.6,162.9L575.6,164.8L576.6,166.7L577.6,168.5L578.6,170.3L579.6,172.1L580.6,173.9L581.6,175.6L582.6,177.3L583.6,179.0L584.6,180.6L585.6,182.3L586.6,183.8L587.6,185.4L588.6,186.9L589.6,188.4L590.6,189.9L591.6,191.3L592.6,192.8L593.6,194.1L594.6,195.5L595.6,196.8L596.6,198.1L597.6,199.4L598.6,200.7L599.6,201.9L600.6,203.1L601.6,204.3L602.6,205.4L603.6,206.5L604.6,207.6L605.6,208.7L606.6,209.8L607.6,210.8L608.6,211.8L609.6,212.8L610.6,213.7L611.6,214.7L612.6,215.6L613.6,216.5L614.6,217.3L615.6,218.2L616.6,219.0L617.6,219.8L618.6,220.6L619.6,221.4L620.6,222.1L621.6,222.8L622.6,223.5L623.6,224.2L624.6,224.9L625.6,225.5L626.6,226.2L627.6,226.8L628.6,227.4L629.6,227.9L630.6,228.5L631.6,229.0L632.6,229.5L633.6,230.0L634.6,230.5L635.6,231.0L636.6,231.5L637.6,231.9L638.6,232.3L639.6,232.7L640.6,233.1L641.6,233.5L642.6,233.9L643.6,234.2L644.6,234.6L645.6,234.9L646.6,235.2L647.6,235.5L648.6,235.8L649.6,236.1L650.6,236.3L651.6,236.6L652.6,236.8L653.6,237.1" stroke="#111" stroke-width="1.25"/>
<path d="M354.5,238.2L355.5,238.0L356.5,237.8L357.5,237.6L358.5,237.3L359.5,237.0L360.5,236.7L361.5,236.4L362.5,236.1L363.5,235.8L364.5,235.4L365.5,235.0L366.5,234.6L367.5,234.2L368.5,233.8L369.5,233.3L370.5,232.8L371.5,232.3L372.5,231.8L373.5,231.2L374.5,230.6L375.5,230.0L376.5,229.4L377.5,228.7L378.5,228.0L379.5,227.3L380.5,226.5L381.5,225.7L382.5,224.9L383.5,224.0L384.5,223.1L385.5,222.2L386.5,221.2L387.5,220.2L388.5,219.2L389.5,218.1L390.5,217.0L391.5,215.8L392.5,214.6L393.5,213.4L394.5,212.1L395.5,210.7L396.5,209.4L397.5,208.0L398.5,206.5L399.5,205.0L400.5,203.5L401.5,201.9L402.5,200.3L403.5,198.7L404.5,197.0L405.5,195.2L406.5,193.4L407.5,191.6L408.5,189.8L409.5,187.8L410.5,185.9L411.5,183.9L412.5,181.9L413.5,179.8L414.5,177.8L415.5,175.6L416.5,173.5L417.5,171.3L418.5,169.0L419.5,166.8L420.5,164.5L421.5,162.2L422.5,159.8L423.5,157.5L424.5,155.1L425.5,152.7L426.5,150.2L427.5,147.8L428.5,145.3L429.5,142.8L430.5,140.3L431.5,137.8L432.5,135.3L433.5,132.8L434.5,130.3L435.5,127.7L436.5,125.2L437.5,122.7L438.5,120.1L439.5,117.6L440.5,115.1L441.5,112.6L442.5,110.1L443.5,107.6L444.5,105.1L445.5,102.6L446.5,100.2L447.5,97.8L448.5,95.4L449.5,93.0L450.5,90.6L451.5,88.3L452.5,86.0L453.5,83.7L454.5,81.5L455.5,79.3L456.5,77.1L457.5,75.0L458.5,72.9L459.5,70.8L460.5,68.8L461.5,66.8L462.5,64.8L463.5,62.9L464.5,61.1L465.5,59.3L466.5,57.5L467.5,55.8L468.5,54.1L469.5,52.5L470.5,51.0L471.5,49.4L472.5,48.0L473.5,46.6L474.5,45.2L475.5,43.9L476.5,42.6L477.5,41.4L478.5,40.3L479.5,39.2L480.5,38.2L481.5,37.2L482.5,36.3L483.5,35.4L484.5,34.6L485.5,33.9L486.5,33.2L487.5,32.6L488.5,32.1L489.5,31.6L490.5,31.1L491.5,30.8L492.5,30.5L493.5,30.2L494.5,30.0L495.5,29.9L496.5,29.9L497.5,29.9L498.5,30.0L499.5,30.1L500.5,30.3L501.5,30.6L502.5,30.9L503.5,31.3L504.6,31.8L505.6,32.3L506.6,32.9L507.6,33.6L508.6,34.3L509.6,35.1L510.6,36.0L511.6,36.9L512.6,37.9L513.6,39.0L514.6,40.1L515.6,41.2L516.6,42.5L517.6,43.8L518.6,45.1L519.6,46.5L520.6,48.0L521.6,49.5L522.6,51.1L523.6,52.7L524.6,54.4L525.6,56.2L526.6,57.9L527.6,59.8L528.6,61.6L529.6,63.6L530.6,65.5L531.6,67.5L532.6,69.6L533.6,71.6L534.6,73.7L535.6,75.9L536.6,78.0L537.6,80.2L538.6,82.5L539.6,84.7L540.6,87.0L541.6,89.2L542.6,91.5L543.6,93.9L544.6,96.2L545.6,98.5L546.6,100.9L547.6,103.2L548.6,105.6L549.6,107.9L550.6,110.3L551.6,112.6L552.6,115.0L553.6,117.3L554.6,119.7L555.6,122.0L556.6,124.3L557.6,126.6L558.6,128.9L559.6,131.2L560.6,133.5L561.6,135.7L562.6,138.0L563.6,140.2L564.6,142.4L565.6,144.5L566.6,146.7L567.6,148.8L568.6,150.9L569.6,152.9L570.6,155.0L571.6,157.0L572.6,159.0L573.6,161.0L574.6,162.9L575.6,164.8L576.6,166.7L577.6,168.5L578.6,170.3L579.6,172.1L580.6,173.9L581.6,175.6L582.6,177.3L583.6,179.0L584.6,180.6L585.6,182.3L586.6,183.8L587.6,185.4L588.6,186.9L589.6,188.4L590.6,189.9L591.6,191.3L592.6,192.8L593.6,194.1L594.6,195.5L595.6,196.8L596.6,198.1L597.6,199.4L598.6,200.7L599.6,201.9L600.6,203.1L601.6,204.3L602.6,205.4L603.6,206.5L604.6,207.6L605.6,208.7L606.6,209.8L607.6,210.8L608.6,211.8L609.6,212.8L610.6,213.7L611.6,214.7L612.6,215.6L613.6,216.5L614.6,217.3L615.6,218.2L616.6,219.0L617.6,219.8L618.6,220.6L619.6,221.4L620.6,222.1L621.6,222.8L622.6,223.5L623.6,224.2L624.6,224.9L625.6,225.5L626.6,226.2L627.6,226.8L628.6,227.4L629.6,227.9L630.6,228.5L631.6,229.0L632.6,229.5L633.6,230.0L634.6,230.5L635.6,231.0L636.6,231.5L637.6,231.9L638.6,232.3L639.6,232.7L640.6,233.1L641.6,233.5L642.6,233.9L643.6,234.2L644.6,234.6L645.6,234.9L646.6,235.2L647.6,235.5L648.6,235.8L649.6,236.1L650.6,236.3L651.6,236.6L652.6,236.8L653.6,237.1" stroke="#ff0000" stroke-width="3" stroke-dasharray="5.4 8"/>
</g>
<rect x="354.50" y="1.70" width="299.10" height="240.60" fill="none" stroke="#000" stroke-width="1.5"/>
<line x1="379.43" y1="242.30" x2="379.43" y2="247.70" stroke="#000" stroke-width="1.3"/>
<text x="379.43" y="258.70" class="tl" style="font-size:9.30px">2100</text>
<line x1="429.27" y1="242.30" x2="429.27" y2="247.70" stroke="#000" stroke-width="1.3"/>
<text x="429.27" y="258.70" class="tl" style="font-size:9.30px">2080</text>
<line x1="479.12" y1="242.30" x2="479.12" y2="247.70" stroke="#000" stroke-width="1.3"/>
<text x="479.12" y="258.70" class="tl" style="font-size:9.30px">2060</text>
<line x1="528.98" y1="242.30" x2="528.98" y2="247.70" stroke="#000" stroke-width="1.3"/>
<text x="528.98" y="258.70" class="tl" style="font-size:9.30px">2040</text>
<line x1="578.83" y1="242.30" x2="578.83" y2="247.70" stroke="#000" stroke-width="1.3"/>
<text x="578.83" y="258.70" class="tl" style="font-size:9.30px">2020</text>
<line x1="628.67" y1="242.30" x2="628.67" y2="247.70" stroke="#000" stroke-width="1.3"/>
<text x="628.67" y="258.70" class="tl" style="font-size:9.30px">2000</text>
<line x1="498.30" y1="70.00" x2="498.30" y2="78.80" stroke="#333" stroke-width="0.8"/>
<text x="498.30" y="87.20" class="pl" style="font-size:8.00px">2051</text>
<line x1="444.50" y1="183.70" x2="444.50" y2="191.90" stroke="#333" stroke-width="0.8"/>
<text x="444.50" y="200.00" class="pl" style="font-size:8.00px">2074</text>
<line x1="555.80" y1="197.00" x2="555.80" y2="205.30" stroke="#333" stroke-width="0.8"/>
<text x="555.80" y="212.50" class="pl" style="font-size:8.00px">2033</text>
<rect x="468.90" y="7.90" width="58.20" height="14.90" fill="#aef3ae"/>
<text x="498.00" y="18.45" class="tt" style="font-size:9.40px">NH<tspan style="font-size:6.30px" dy="2.4">4</tspan><tspan dy="-2.4">SCN 16%</tspan></text>
<line x1="570.30" y1="10.50" x2="590.80" y2="10.50" stroke="#222" stroke-width="1.2"/>
<text x="593.70" y="13.50" class="lg" style="font-size:9.00px">Experimental</text>
<line x1="570.30" y1="22.20" x2="590.80" y2="22.20" stroke="#c99400" stroke-width="3"/>
<text x="593.70" y="25.20" class="lg" style="font-size:9.00px">Ion Aggregates</text>
<line x1="570.30" y1="33.30" x2="590.80" y2="33.30" stroke="#00f800" stroke-width="3"/>
<text x="593.70" y="36.30" class="lg" style="font-size:9.00px">Contact Ions</text>
<line x1="570.30" y1="44.50" x2="590.80" y2="44.50" stroke="#0000f5" stroke-width="3"/>
<text x="593.70" y="47.50" class="lg" style="font-size:9.00px">Free Ions</text>
<line x1="570.30" y1="55.90" x2="590.80" y2="55.90" stroke="#ff0000" stroke-width="2.8" stroke-dasharray="5.1 9"/>
<text x="593.70" y="58.90" class="lg" style="font-size:9.00px">Fitting Curve</text>
<text transform="translate(345.90,122.40) rotate(-90)" class="al" style="font-size:10.20px">Intensity (a.u.)</text>
<text x="504.00" y="276.00" class="xl" style="font-size:10.40px">Wavenumber (cm<tspan style="font-size:6.50px" dy="-4">-1</tspan><tspan dy="4">)</tspan></text>
<line x1="354.50" y1="238.30" x2="354.50" y2="258.80" stroke="#ff1493" stroke-width="1.1"/>
<path d="M352.00,254.30 L354.50,256.30 L357.00,254.30 L354.50,263.40 Z" fill="#ff1493"/>
<circle cx="354.50" cy="238.30" r="1.9" fill="#ff1493"/>
<text x="355.60" y="275.20" class="tl" style="font-size:9.30px">2110</text>
<line x1="653.60" y1="238.40" x2="653.60" y2="259.00" stroke="#ff1493" stroke-width="1.1"/>
<path d="M651.10,254.50 L653.60,256.50 L656.10,254.50 L653.60,263.60 Z" fill="#ff1493"/>
<circle cx="653.60" cy="238.40" r="1.9" fill="#ff1493"/>
<text x="654.70" y="275.20" class="tl" style="font-size:9.30px">1990</text>
<g clip-path="url(#c24)" fill="none">
<path d="M19.5,532.2L20.5,531.9L21.5,531.7L22.5,531.4L23.5,531.1L24.5,530.8L25.5,530.5L26.5,530.1L27.5,529.8L28.5,529.4L29.5,529.0L30.5,528.6L31.5,528.2L32.5,527.7L33.5,527.3L34.5,526.8L35.5,526.3L36.5,525.8L37.5,525.2L38.5,524.7L39.5,524.1L40.5,523.5L41.5,522.8L42.5,522.2L43.5,521.5L44.5,520.8L45.5,520.1L46.5,519.4L47.5,518.7L48.5,517.9L49.5,517.1L50.5,516.3L51.5,515.4L52.5,514.6L53.5,513.7L54.5,512.8L55.5,511.9L56.5,511.0L57.5,510.0L58.5,509.1L59.5,508.1L60.5,507.1L61.5,506.1L62.5,505.1L63.5,504.0L64.5,503.0L65.5,502.0L66.5,500.9L67.5,499.8L68.5,498.8L69.5,497.7L70.6,496.6L71.6,495.5L72.6,494.5L73.6,493.4L74.6,492.3L75.6,491.3L76.6,490.2L77.6,489.1L78.6,488.1L79.6,487.1L80.6,486.1L81.6,485.1L82.6,484.1L83.6,483.1L84.6,482.2L85.6,481.3L86.6,480.4L87.6,479.5L88.6,478.7L89.6,477.9L90.6,477.1L91.6,476.4L92.6,475.7L93.6,475.0L94.6,474.3L95.6,473.8L96.6,473.2L97.6,472.7L98.6,472.2L99.6,471.8L100.6,471.4L101.6,471.0L102.6,470.7L103.6,470.5L104.6,470.3L105.6,470.1L106.6,470.0L107.6,469.9L108.6,469.9L109.6,470.0L110.6,470.0L111.6,470.2L112.6,470.3L113.6,470.5L114.6,470.8L115.6,471.1L116.6,471.5L117.6,471.9L118.6,472.3L119.6,472.8L120.6,473.3L121.6,473.9L122.6,474.5L123.6,475.2L124.6,475.9L125.6,476.6L126.6,477.3L127.6,478.1L128.6,478.9L129.6,479.8L130.6,480.6L131.6,481.5L132.6,482.5L133.6,483.4L134.6,484.4L135.6,485.3L136.6,486.4L137.6,487.4L138.6,488.4L139.6,489.4L140.6,490.5L141.6,491.5L142.6,492.6L143.6,493.7L144.6,494.8L145.6,495.8L146.6,496.9L147.6,498.0L148.6,499.1L149.6,500.1L150.6,501.2L151.6,502.2L152.6,503.3L153.6,504.3L154.6,505.4L155.6,506.4L156.6,507.4L157.6,508.4L158.6,509.3L159.6,510.3L160.6,511.2L161.6,512.2L162.6,513.1L163.6,514.0L164.6,514.8L165.6,515.7L166.6,516.5L167.6,517.3L168.6,518.1L169.7,518.9L170.7,519.6L171.7,520.3L172.7,521.0L173.7,521.7L174.7,522.4L175.7,523.0L176.7,523.6L177.7,524.2L178.7,524.8L179.7,525.4L180.7,525.9L181.7,526.4L182.7,526.9L183.7,527.4L184.7,527.9L185.7,528.3L186.7,528.7L187.7,529.1L188.7,529.5L189.7,529.9L190.7,530.2L191.7,530.6L192.7,530.9L193.7,531.2L194.7,531.5L195.7,531.7L196.7,532.0L197.7,532.2L198.7,532.5L199.7,532.7L200.7,532.9L201.7,533.1L202.7,533.3L203.7,533.5L204.7,533.7L205.7,533.8L206.7,534.0L207.7,534.1L208.7,534.2L209.7,534.4L210.7,534.5L211.7,534.6L212.7,534.7L213.7,534.8L214.7,534.9L215.7,535.0L216.7,535.0L217.7,535.1L218.7,535.2L219.7,535.2L220.7,535.3L221.7,535.3L222.7,535.4L223.7,535.4L224.7,535.5L225.7,535.5L226.7,535.6L227.7,535.6L228.7,535.6L229.7,535.7L230.7,535.7L231.7,535.7L232.7,535.7L233.7,535.8L234.7,535.8L235.7,535.8L236.7,535.8L237.7,535.8L238.7,535.9L239.7,535.9L240.7,535.9L241.7,535.9L242.7,535.9L243.7,535.9L244.7,535.9L245.7,535.9L246.7,535.9L247.7,535.9L248.7,535.9L249.7,536.0L250.7,536.0L251.7,536.0L252.7,536.0L253.7,536.0L254.7,536.0L255.7,536.0L256.7,536.0L257.7,536.0L258.7,536.0L259.7,536.0L260.7,536.0L261.7,536.0L262.7,536.0L263.7,536.0L264.7,536.0L265.7,536.0L266.7,536.0L267.7,536.0L268.7,536.0L269.8,536.0L270.8,536.0L271.8,536.0L272.8,536.0L273.8,536.0L274.8,536.0L275.8,536.0L276.8,536.0L277.8,536.0L278.8,536.0L279.8,536.0L280.8,536.0L281.8,536.0L282.8,536.0L283.8,536.0L284.8,536.0L285.8,536.0L286.8,536.0L287.8,536.0L288.8,536.0L289.8,536.0L290.8,536.0L291.8,536.0L292.8,536.0L293.8,536.0L294.8,536.0L295.8,536.0L296.8,536.0L297.8,536.0L298.8,536.0L299.8,536.0L300.8,536.0L301.8,536.0L302.8,536.0L303.8,536.0L304.8,536.0L305.8,536.0L306.8,536.0L307.8,536.0L308.8,536.0L309.8,536.0L310.8,536.0L311.8,536.0L312.8,536.0L313.8,536.0L314.8,536.0L315.8,536.0L316.8,536.0L317.8,536.0L318.8,536.0L319.8,536.0" stroke="#c99400" stroke-width="2.8"/>
<path d="M19.5,535.4L20.5,535.4L21.5,535.3L22.5,535.3L23.5,535.2L24.5,535.2L25.5,535.1L26.5,535.1L27.5,535.0L28.5,535.0L29.5,534.9L30.5,534.8L31.5,534.7L32.5,534.7L33.5,534.6L34.5,534.5L35.5,534.4L36.5,534.3L37.5,534.1L38.5,534.0L39.5,533.9L40.5,533.7L41.5,533.6L42.5,533.4L43.5,533.3L44.5,533.1L45.5,532.9L46.5,532.7L47.5,532.5L48.5,532.3L49.5,532.1L50.5,531.8L51.5,531.5L52.5,531.3L53.5,531.0L54.5,530.7L55.5,530.4L56.5,530.0L57.5,529.7L58.5,529.3L59.5,528.9L60.5,528.5L61.5,528.0L62.5,527.6L63.5,527.1L64.5,526.6L65.5,526.1L66.5,525.6L67.5,525.0L68.5,524.4L69.5,523.8L70.6,523.1L71.6,522.4L72.6,521.7L73.6,521.0L74.6,520.2L75.6,519.4L76.6,518.6L77.6,517.8L78.6,516.9L79.6,516.0L80.6,515.0L81.6,514.0L82.6,513.0L83.6,511.9L84.6,510.8L85.6,509.7L86.6,508.5L87.6,507.3L88.6,506.1L89.6,504.8L90.6,503.5L91.6,502.1L92.6,500.7L93.6,499.3L94.6,497.8L95.6,496.3L96.6,494.8L97.6,493.2L98.6,491.6L99.6,489.9L100.6,488.2L101.6,486.5L102.6,484.7L103.6,482.9L104.6,481.1L105.6,479.3L106.6,477.4L107.6,475.4L108.6,473.5L109.6,471.5L110.6,469.5L111.6,467.5L112.6,465.4L113.6,463.3L114.6,461.2L115.6,459.1L116.6,457.0L117.6,454.8L118.6,452.6L119.6,450.5L120.6,448.3L121.6,446.1L122.6,443.9L123.6,441.7L124.6,439.5L125.6,437.3L126.6,435.1L127.6,432.9L128.6,430.7L129.6,428.6L130.6,426.4L131.6,424.3L132.6,422.2L133.6,420.1L134.6,418.0L135.6,416.0L136.6,414.0L137.6,412.0L138.6,410.1L139.6,408.2L140.6,406.3L141.6,404.5L142.6,402.7L143.6,401.0L144.6,399.4L145.6,397.8L146.6,396.2L147.6,394.7L148.6,393.3L149.6,392.0L150.6,390.7L151.6,389.4L152.6,388.3L153.6,387.2L154.6,386.2L155.6,385.3L156.6,384.4L157.6,383.7L158.6,383.0L159.6,382.3L160.6,381.8L161.6,381.4L162.6,381.0L163.6,380.7L164.6,380.5L165.6,380.4L166.6,380.4L167.6,380.5L168.6,380.6L169.7,380.8L170.7,381.2L171.7,381.6L172.7,382.0L173.7,382.6L174.7,383.3L175.7,384.0L176.7,384.8L177.7,385.7L178.7,386.7L179.7,387.7L180.7,388.8L181.7,390.0L182.7,391.2L183.7,392.6L184.7,394.0L185.7,395.4L186.7,396.9L187.7,398.5L188.7,400.1L189.7,401.8L190.7,403.5L191.7,405.3L192.7,407.1L193.7,409.0L194.7,410.9L195.7,412.9L196.7,414.9L197.7,416.9L198.7,418.9L199.7,421.0L200.7,423.1L201.7,425.2L202.7,427.4L203.7,429.5L204.7,431.7L205.7,433.9L206.7,436.1L207.7,438.3L208.7,440.5L209.7,442.7L210.7,444.9L211.7,447.1L212.7,449.3L213.7,451.5L214.7,453.6L215.7,455.8L216.7,457.9L217.7,460.1L218.7,462.2L219.7,464.3L220.7,466.3L221.7,468.4L222.7,470.4L223.7,472.4L224.7,474.4L225.7,476.3L226.7,478.2L227.7,480.1L228.7,481.9L229.7,483.8L230.7,485.5L231.7,487.3L232.7,489.0L233.7,490.7L234.7,492.3L235.7,493.9L236.7,495.5L237.7,497.0L238.7,498.5L239.7,499.9L240.7,501.4L241.7,502.7L242.7,504.1L243.7,505.4L244.7,506.6L245.7,507.9L246.7,509.1L247.7,510.2L248.7,511.3L249.7,512.4L250.7,513.4L251.7,514.5L252.7,515.4L253.7,516.4L254.7,517.3L255.7,518.2L256.7,519.0L257.7,519.8L258.7,520.6L259.7,521.3L260.7,522.1L261.7,522.8L262.7,523.4L263.7,524.1L264.7,524.7L265.7,525.2L266.7,525.8L267.7,526.3L268.7,526.9L269.8,527.3L270.8,527.8L271.8,528.2L272.8,528.7L273.8,529.1L274.8,529.5L275.8,529.8L276.8,530.2L277.8,530.5L278.8,530.8L279.8,531.1L280.8,531.4L281.8,531.7L282.8,531.9L283.8,532.2L284.8,532.4L285.8,532.6L286.8,532.8L287.8,533.0L288.8,533.2L289.8,533.4L290.8,533.5L291.8,533.7L292.8,533.8L293.8,533.9L294.8,534.1L295.8,534.2L296.8,534.3L297.8,534.4L298.8,534.5L299.8,534.6L300.8,534.7L301.8,534.8L302.8,534.8L303.8,534.9L304.8,535.0L305.8,535.1L306.8,535.1L307.8,535.2L308.8,535.2L309.8,535.3L310.8,535.3L311.8,535.4L312.8,535.4L313.8,535.4L314.8,535.5L315.8,535.5L316.8,535.5L317.8,535.5L318.8,535.6L319.8,535.6" stroke="#00f800" stroke-width="2.8"/>
<path d="M19.5,536.0L20.5,536.0L21.5,536.0L22.5,536.0L23.5,536.0L24.5,536.0L25.5,536.0L26.5,536.0L27.5,536.0L28.5,536.0L29.5,536.0L30.5,536.0L31.5,536.0L32.5,536.0L33.5,536.0L34.5,536.0L35.5,536.0L36.5,536.0L37.5,535.9L38.5,535.9L39.5,535.9L40.5,535.9L41.5,535.9L42.5,535.9L43.5,535.9L44.5,535.9L45.5,535.9L46.5,535.9L47.5,535.9L48.5,535.9L49.5,535.9L50.5,535.9L51.5,535.8L52.5,535.8L53.5,535.8L54.5,535.8L55.5,535.8L56.5,535.8L57.5,535.8L58.5,535.8L59.5,535.7L60.5,535.7L61.5,535.7L62.5,535.7L63.5,535.6L64.5,535.6L65.5,535.6L66.5,535.6L67.5,535.5L68.5,535.5L69.5,535.5L70.6,535.4L71.6,535.4L72.6,535.4L73.6,535.3L74.6,535.3L75.6,535.2L76.6,535.2L77.6,535.1L78.6,535.1L79.6,535.0L80.6,535.0L81.6,534.9L82.6,534.8L83.6,534.8L84.6,534.7L85.6,534.6L86.6,534.5L87.6,534.4L88.6,534.4L89.6,534.3L90.6,534.2L91.6,534.1L92.6,533.9L93.6,533.8L94.6,533.7L95.6,533.6L96.6,533.5L97.6,533.3L98.6,533.2L99.6,533.0L100.6,532.9L101.6,532.7L102.6,532.5L103.6,532.4L104.6,532.2L105.6,532.0L106.6,531.8L107.6,531.6L108.6,531.4L109.6,531.1L110.6,530.9L111.6,530.7L112.6,530.4L113.6,530.2L114.6,529.9L115.6,529.6L116.6,529.3L117.6,529.0L118.6,528.7L119.6,528.4L120.6,528.1L121.6,527.7L122.6,527.4L123.6,527.0L124.6,526.7L125.6,526.3L126.6,525.9L127.6,525.5L128.6,525.1L129.6,524.7L130.6,524.2L131.6,523.8L132.6,523.3L133.6,522.8L134.6,522.4L135.6,521.9L136.6,521.4L137.6,520.9L138.6,520.3L139.6,519.8L140.6,519.2L141.6,518.7L142.6,518.1L143.6,517.5L144.6,516.9L145.6,516.3L146.6,515.7L147.6,515.1L148.6,514.5L149.6,513.8L150.6,513.2L151.6,512.5L152.6,511.9L153.6,511.2L154.6,510.5L155.6,509.8L156.6,509.1L157.6,508.4L158.6,507.7L159.6,507.0L160.6,506.3L161.6,505.6L162.6,504.8L163.6,504.1L164.6,503.4L165.6,502.7L166.6,501.9L167.6,501.2L168.6,500.5L169.7,499.7L170.7,499.0L171.7,498.3L172.7,497.5L173.7,496.8L174.7,496.1L175.7,495.4L176.7,494.7L177.7,494.0L178.7,493.3L179.7,492.6L180.7,491.9L181.7,491.3L182.7,490.6L183.7,490.0L184.7,489.3L185.7,488.7L186.7,488.1L187.7,487.5L188.7,486.9L189.7,486.4L190.7,485.8L191.7,485.3L192.7,484.8L193.7,484.3L194.7,483.8L195.7,483.3L196.7,482.9L197.7,482.4L198.7,482.0L199.7,481.7L200.7,481.3L201.7,481.0L202.7,480.7L203.7,480.4L204.7,480.1L205.7,479.9L206.7,479.6L207.7,479.4L208.7,479.3L209.7,479.1L210.7,479.0L211.7,478.9L212.7,478.8L213.7,478.8L214.7,478.8L215.7,478.8L216.7,478.8L217.7,478.9L218.7,479.0L219.7,479.1L220.7,479.2L221.7,479.4L222.7,479.5L223.7,479.7L224.7,480.0L225.7,480.2L226.7,480.5L227.7,480.8L228.7,481.1L229.7,481.5L230.7,481.9L231.7,482.2L232.7,482.7L233.7,483.1L234.7,483.5L235.7,484.0L236.7,484.5L237.7,485.0L238.7,485.5L239.7,486.1L240.7,486.6L241.7,487.2L242.7,487.8L243.7,488.4L244.7,489.0L245.7,489.7L246.7,490.3L247.7,490.9L248.7,491.6L249.7,492.3L250.7,493.0L251.7,493.6L252.7,494.3L253.7,495.1L254.7,495.8L255.7,496.5L256.7,497.2L257.7,497.9L258.7,498.6L259.7,499.4L260.7,500.1L261.7,500.8L262.7,501.6L263.7,502.3L264.7,503.0L265.7,503.8L266.7,504.5L267.7,505.2L268.7,505.9L269.8,506.7L270.8,507.4L271.8,508.1L272.8,508.8L273.8,509.5L274.8,510.2L275.8,510.9L276.8,511.5L277.8,512.2L278.8,512.9L279.8,513.5L280.8,514.2L281.8,514.8L282.8,515.4L283.8,516.0L284.8,516.6L285.8,517.2L286.8,517.8L287.8,518.4L288.8,519.0L289.8,519.5L290.8,520.1L291.8,520.6L292.8,521.1L293.8,521.6L294.8,522.1L295.8,522.6L296.8,523.1L297.8,523.6L298.8,524.0L299.8,524.4L300.8,524.9L301.8,525.3L302.8,525.7L303.8,526.1L304.8,526.5L305.8,526.9L306.8,527.2L307.8,527.6L308.8,527.9L309.8,528.3L310.8,528.6L311.8,528.9L312.8,529.2L313.8,529.5L314.8,529.8L315.8,530.0L316.8,530.3L317.8,530.6L318.8,530.8L319.8,531.0" stroke="#0000f5" stroke-width="2.8"/>
<path d="M19.5,531.7L20.5,531.5L21.5,531.2L22.5,530.9L23.5,530.6L24.5,530.3L25.5,529.9L26.5,529.6L27.5,529.2L28.5,528.8L29.5,528.4L30.5,528.0L31.5,527.5L32.5,527.1L33.5,526.6L34.5,526.0L35.5,525.5L36.5,524.9L37.5,524.3L38.5,523.7L39.5,523.1L40.5,522.4L41.5,521.7L42.5,521.0L43.5,520.2L44.5,519.4L45.5,518.6L46.5,517.7L47.5,516.8L48.5,515.9L49.5,514.9L50.5,513.9L51.5,512.9L52.5,511.8L53.5,510.7L54.5,509.6L55.5,508.4L56.5,507.2L57.5,506.0L58.5,504.7L59.5,503.3L60.5,502.0L61.5,500.6L62.5,499.1L63.5,497.6L64.5,496.1L65.5,494.6L66.5,493.0L67.5,491.3L68.5,489.6L69.5,487.9L70.6,486.2L71.6,484.4L72.6,482.5L73.6,480.7L74.6,478.8L75.6,476.9L76.6,474.9L77.6,472.9L78.6,470.9L79.6,468.8L80.6,466.7L81.6,464.6L82.6,462.4L83.6,460.3L84.6,458.1L85.6,455.8L86.6,453.6L87.6,451.3L88.6,449.0L89.6,446.7L90.6,444.4L91.6,442.1L92.6,439.7L93.6,437.4L94.6,435.0L95.6,432.6L96.6,430.2L97.6,427.9L98.6,425.5L99.6,423.1L100.6,420.7L101.6,418.3L102.6,415.9L103.6,413.5L104.6,411.1L105.6,408.7L106.6,406.4L107.6,404.0L108.6,401.7L109.6,399.4L110.6,397.1L111.6,394.8L112.6,392.5L113.6,390.2L114.6,388.0L115.6,385.8L116.6,383.6L117.6,381.4L118.6,379.3L119.6,377.2L120.6,375.1L121.6,373.1L122.6,371.1L123.6,369.1L124.6,367.1L125.6,365.2L126.6,363.4L127.6,361.5L128.6,359.7L129.6,357.9L130.6,356.2L131.6,354.5L132.6,352.9L133.6,351.3L134.6,349.7L135.6,348.2L136.6,346.7L137.6,345.3L138.6,343.9L139.6,342.6L140.6,341.3L141.6,340.0L142.6,338.8L143.6,337.7L144.6,336.6L145.6,335.5L146.6,334.5L147.6,333.6L148.6,332.7L149.6,331.9L150.6,331.1L151.6,330.4L152.6,329.7L153.6,329.1L154.6,328.5L155.6,328.0L156.6,327.5L157.6,327.1L158.6,326.8L159.6,326.5L160.6,326.3L161.6,326.2L162.6,326.1L163.6,326.0L164.6,326.1L165.6,326.1L166.6,326.3L167.6,326.5L168.6,326.8L169.7,327.1L170.7,327.5L171.7,327.9L172.7,328.5L173.7,329.0L174.7,329.7L175.7,330.4L176.7,331.1L177.7,332.0L178.7,332.8L179.7,333.8L180.7,334.8L181.7,335.8L182.7,336.9L183.7,338.1L184.7,339.3L185.7,340.6L186.7,341.9L187.7,343.3L188.7,344.7L189.7,346.2L190.7,347.8L191.7,349.3L192.7,351.0L193.7,352.6L194.7,354.3L195.7,356.1L196.7,357.9L197.7,359.7L198.7,361.6L199.7,363.5L200.7,365.5L201.7,367.4L202.7,369.5L203.7,371.5L204.7,373.6L205.7,375.6L206.7,377.8L207.7,379.9L208.7,382.0L209.7,384.2L210.7,386.4L211.7,388.6L212.7,390.8L213.7,393.1L214.7,395.3L215.7,397.5L216.7,399.8L217.7,402.0L218.7,404.3L219.7,406.6L220.7,408.8L221.7,411.1L222.7,413.3L223.7,415.6L224.7,417.8L225.7,420.1L226.7,422.3L227.7,424.5L228.7,426.7L229.7,428.9L230.7,431.1L231.7,433.3L232.7,435.4L233.7,437.5L234.7,439.7L235.7,441.7L236.7,443.8L237.7,445.9L238.7,447.9L239.7,449.9L240.7,451.9L241.7,453.9L242.7,455.8L243.7,457.7L244.7,459.6L245.7,461.5L246.7,463.3L247.7,465.1L248.7,466.9L249.7,468.7L250.7,470.4L251.7,472.1L252.7,473.8L253.7,475.4L254.7,477.1L255.7,478.6L256.7,480.2L257.7,481.7L258.7,483.2L259.7,484.7L260.7,486.2L261.7,487.6L262.7,489.0L263.7,490.4L264.7,491.7L265.7,493.0L266.7,494.3L267.7,495.5L268.7,496.8L269.8,498.0L270.8,499.1L271.8,500.3L272.8,501.4L273.8,502.5L274.8,503.6L275.8,504.6L276.8,505.6L277.8,506.6L278.8,507.6L279.8,508.5L280.8,509.4L281.8,510.3L282.8,511.2L283.8,512.1L284.8,512.9L285.8,513.7L286.8,514.5L287.8,515.2L288.8,516.0L289.8,516.7L290.8,517.4L291.8,518.1L292.8,518.7L293.8,519.4L294.8,520.0L295.8,520.6L296.8,521.2L297.8,521.7L298.8,522.3L299.8,522.8L300.8,523.3L301.8,523.8L302.8,524.3L303.8,524.8L304.8,525.2L305.8,525.6L306.8,526.1L307.8,526.5L308.8,526.9L309.8,527.2L310.8,527.6L311.8,528.0L312.8,528.3L313.8,528.6L314.8,528.9L315.8,529.2L316.8,529.5L317.8,529.8L318.8,530.1L319.8,530.4" stroke="#111" stroke-width="1.25"/>
<path d="M19.5,531.7L20.5,531.5L21.5,531.2L22.5,530.9L23.5,530.6L24.5,530.3L25.5,529.9L26.5,529.6L27.5,529.2L28.5,528.8L29.5,528.4L30.5,528.0L31.5,527.5L32.5,527.1L33.5,526.6L34.5,526.0L35.5,525.5L36.5,524.9L37.5,524.3L38.5,523.7L39.5,523.1L40.5,522.4L41.5,521.7L42.5,521.0L43.5,520.2L44.5,519.4L45.5,518.6L46.5,517.7L47.5,516.8L48.5,515.9L49.5,514.9L50.5,513.9L51.5,512.9L52.5,511.8L53.5,510.7L54.5,509.6L55.5,508.4L56.5,507.2L57.5,506.0L58.5,504.7L59.5,503.3L60.5,502.0L61.5,500.6L62.5,499.1L63.5,497.6L64.5,496.1L65.5,494.6L66.5,493.0L67.5,491.3L68.5,489.6L69.5,487.9L70.6,486.2L71.6,484.4L72.6,482.5L73.6,480.7L74.6,478.8L75.6,476.9L76.6,474.9L77.6,472.9L78.6,470.9L79.6,468.8L80.6,466.7L81.6,464.6L82.6,462.4L83.6,460.3L84.6,458.1L85.6,455.8L86.6,453.6L87.6,451.3L88.6,449.0L89.6,446.7L90.6,444.4L91.6,442.1L92.6,439.7L93.6,437.4L94.6,435.0L95.6,432.6L96.6,430.2L97.6,427.9L98.6,425.5L99.6,423.1L100.6,420.7L101.6,418.3L102.6,415.9L103.6,413.5L104.6,411.1L105.6,408.7L106.6,406.4L107.6,404.0L108.6,401.7L109.6,399.4L110.6,397.1L111.6,394.8L112.6,392.5L113.6,390.2L114.6,388.0L115.6,385.8L116.6,383.6L117.6,381.4L118.6,379.3L119.6,377.2L120.6,375.1L121.6,373.1L122.6,371.1L123.6,369.1L124.6,367.1L125.6,365.2L126.6,363.4L127.6,361.5L128.6,359.7L129.6,357.9L130.6,356.2L131.6,354.5L132.6,352.9L133.6,351.3L134.6,349.7L135.6,348.2L136.6,346.7L137.6,345.3L138.6,343.9L139.6,342.6L140.6,341.3L141.6,340.0L142.6,338.8L143.6,337.7L144.6,336.6L145.6,335.5L146.6,334.5L147.6,333.6L148.6,332.7L149.6,331.9L150.6,331.1L151.6,330.4L152.6,329.7L153.6,329.1L154.6,328.5L155.6,328.0L156.6,327.5L157.6,327.1L158.6,326.8L159.6,326.5L160.6,326.3L161.6,326.2L162.6,326.1L163.6,326.0L164.6,326.1L165.6,326.1L166.6,326.3L167.6,326.5L168.6,326.8L169.7,327.1L170.7,327.5L171.7,327.9L172.7,328.5L173.7,329.0L174.7,329.7L175.7,330.4L176.7,331.1L177.7,332.0L178.7,332.8L179.7,333.8L180.7,334.8L181.7,335.8L182.7,336.9L183.7,338.1L184.7,339.3L185.7,340.6L186.7,341.9L187.7,343.3L188.7,344.7L189.7,346.2L190.7,347.8L191.7,349.3L192.7,351.0L193.7,352.6L194.7,354.3L195.7,356.1L196.7,357.9L197.7,359.7L198.7,361.6L199.7,363.5L200.7,365.5L201.7,367.4L202.7,369.5L203.7,371.5L204.7,373.6L205.7,375.6L206.7,377.8L207.7,379.9L208.7,382.0L209.7,384.2L210.7,386.4L211.7,388.6L212.7,390.8L213.7,393.1L214.7,395.3L215.7,397.5L216.7,399.8L217.7,402.0L218.7,404.3L219.7,406.6L220.7,408.8L221.7,411.1L222.7,413.3L223.7,415.6L224.7,417.8L225.7,420.1L226.7,422.3L227.7,424.5L228.7,426.7L229.7,428.9L230.7,431.1L231.7,433.3L232.7,435.4L233.7,437.5L234.7,439.7L235.7,441.7L236.7,443.8L237.7,445.9L238.7,447.9L239.7,449.9L240.7,451.9L241.7,453.9L242.7,455.8L243.7,457.7L244.7,459.6L245.7,461.5L246.7,463.3L247.7,465.1L248.7,466.9L249.7,468.7L250.7,470.4L251.7,472.1L252.7,473.8L253.7,475.4L254.7,477.1L255.7,478.6L256.7,480.2L257.7,481.7L258.7,483.2L259.7,484.7L260.7,486.2L261.7,487.6L262.7,489.0L263.7,490.4L264.7,491.7L265.7,493.0L266.7,494.3L267.7,495.5L268.7,496.8L269.8,498.0L270.8,499.1L271.8,500.3L272.8,501.4L273.8,502.5L274.8,503.6L275.8,504.6L276.8,505.6L277.8,506.6L278.8,507.6L279.8,508.5L280.8,509.4L281.8,510.3L282.8,511.2L283.8,512.1L284.8,512.9L285.8,513.7L286.8,514.5L287.8,515.2L288.8,516.0L289.8,516.7L290.8,517.4L291.8,518.1L292.8,518.7L293.8,519.4L294.8,520.0L295.8,520.6L296.8,521.2L297.8,521.7L298.8,522.3L299.8,522.8L300.8,523.3L301.8,523.8L302.8,524.3L303.8,524.8L304.8,525.2L305.8,525.6L306.8,526.1L307.8,526.5L308.8,526.9L309.8,527.2L310.8,527.6L311.8,528.0L312.8,528.3L313.8,528.6L314.8,528.9L315.8,529.2L316.8,529.5L317.8,529.8L318.8,530.1L319.8,530.4" stroke="#ff0000" stroke-width="3" stroke-dasharray="5.4 8"/>
</g>
<rect x="19.50" y="295.80" width="300.30" height="241.60" fill="none" stroke="#000" stroke-width="1.5"/>
<line x1="44.52" y1="537.40" x2="44.52" y2="542.80" stroke="#000" stroke-width="1.3"/>
<text x="44.52" y="553.20" class="tl" style="font-size:9.30px">2100</text>
<line x1="94.58" y1="537.40" x2="94.58" y2="542.80" stroke="#000" stroke-width="1.3"/>
<text x="94.58" y="553.20" class="tl" style="font-size:9.30px">2080</text>
<line x1="144.62" y1="537.40" x2="144.62" y2="542.80" stroke="#000" stroke-width="1.3"/>
<text x="144.62" y="553.20" class="tl" style="font-size:9.30px">2060</text>
<line x1="194.68" y1="537.40" x2="194.68" y2="542.80" stroke="#000" stroke-width="1.3"/>
<text x="194.68" y="553.20" class="tl" style="font-size:9.30px">2040</text>
<line x1="244.72" y1="537.40" x2="244.72" y2="542.80" stroke="#000" stroke-width="1.3"/>
<text x="244.72" y="553.20" class="tl" style="font-size:9.30px">2020</text>
<line x1="294.77" y1="537.40" x2="294.77" y2="542.80" stroke="#000" stroke-width="1.3"/>
<text x="294.77" y="553.20" class="tl" style="font-size:9.30px">2000</text>
<line x1="165.40" y1="383.30" x2="165.40" y2="392.50" stroke="#333" stroke-width="0.8"/>
<text x="165.40" y="400.00" class="pl" style="font-size:8.00px">2051</text>
<line x1="109.60" y1="471.60" x2="109.60" y2="490.90" stroke="#333" stroke-width="0.8"/>
<text x="109.60" y="499.00" class="pl" style="font-size:8.00px">2074</text>
<line x1="214.00" y1="481.30" x2="214.00" y2="489.10" stroke="#333" stroke-width="0.8"/>
<text x="214.00" y="498.00" class="pl" style="font-size:8.00px">2033</text>
<rect x="133.70" y="299.40" width="58.10" height="14.00" fill="#aef3ae"/>
<text x="162.75" y="309.50" class="tt" style="font-size:9.40px">NH<tspan style="font-size:6.30px" dy="2.4">4</tspan><tspan dy="-2.4">SCN 24%</tspan></text>
<line x1="234.90" y1="303.80" x2="255.60" y2="303.80" stroke="#222" stroke-width="1.2"/>
<text x="258.00" y="306.80" class="lg" style="font-size:9.00px">Experimental</text>
<line x1="234.90" y1="315.00" x2="255.60" y2="315.00" stroke="#c99400" stroke-width="3"/>
<text x="258.00" y="318.00" class="lg" style="font-size:9.00px">Ion Aggregates</text>
<line x1="234.90" y1="326.50" x2="255.60" y2="326.50" stroke="#00f800" stroke-width="3"/>
<text x="258.00" y="329.50" class="lg" style="font-size:9.00px">Contact Ions</text>
<line x1="234.90" y1="337.80" x2="255.60" y2="337.80" stroke="#0000f5" stroke-width="3"/>
<text x="258.00" y="340.80" class="lg" style="font-size:9.00px">Free Ions</text>
<line x1="234.90" y1="349.00" x2="255.60" y2="349.00" stroke="#ff0000" stroke-width="2.8" stroke-dasharray="5.1 9"/>
<text x="258.00" y="352.00" class="lg" style="font-size:9.00px">Fitting Curve</text>
<text transform="translate(10.50,417.00) rotate(-90)" class="al" style="font-size:10.20px">Intensity (a.u.)</text>
<text x="170.00" y="571.40" class="xl" style="font-size:10.40px">Wavenumber (cm<tspan style="font-size:6.50px" dy="-4">-1</tspan><tspan dy="4">)</tspan></text>
<line x1="19.50" y1="533.00" x2="19.50" y2="553.60" stroke="#ff1493" stroke-width="1.1"/>
<path d="M17.00,549.10 L19.50,551.10 L22.00,549.10 L19.50,558.20 Z" fill="#ff1493"/>
<circle cx="19.50" cy="533.00" r="1.9" fill="#ff1493"/>
<text x="21.00" y="570.50" class="tl" style="font-size:9.30px">2110</text>
<line x1="319.80" y1="531.30" x2="319.80" y2="552.80" stroke="#ff1493" stroke-width="1.1"/>
<path d="M317.30,548.30 L319.80,550.30 L322.30,548.30 L319.80,557.40 Z" fill="#ff1493"/>
<circle cx="319.80" cy="531.30" r="1.9" fill="#ff1493"/>
<text x="319.00" y="569.00" class="tl" style="font-size:9.30px">1990</text>
<g clip-path="url(#c32)" fill="none">
<path d="M353.7,531.1L354.7,530.8L355.7,530.5L356.7,530.2L357.7,529.8L358.7,529.4L359.7,529.0L360.7,528.6L361.7,528.2L362.7,527.7L363.7,527.2L364.7,526.8L365.7,526.2L366.7,525.7L367.7,525.1L368.7,524.6L369.7,524.0L370.7,523.3L371.7,522.7L372.7,522.0L373.7,521.3L374.7,520.6L375.7,519.9L376.7,519.1L377.7,518.3L378.7,517.5L379.7,516.6L380.7,515.8L381.7,514.9L382.7,514.0L383.8,513.0L384.8,512.1L385.8,511.1L386.8,510.1L387.8,509.1L388.8,508.0L389.8,507.0L390.8,505.9L391.8,504.8L392.8,503.6L393.8,502.5L394.8,501.3L395.8,500.2L396.8,499.0L397.8,497.8L398.8,496.6L399.8,495.4L400.8,494.1L401.8,492.9L402.8,491.6L403.8,490.4L404.8,489.2L405.8,487.9L406.8,486.7L407.8,485.4L408.8,484.2L409.8,482.9L410.8,481.7L411.8,480.5L412.8,479.3L413.8,478.1L414.8,476.9L415.8,475.8L416.8,474.6L417.8,473.5L418.8,472.4L419.8,471.4L420.8,470.3L421.8,469.3L422.8,468.3L423.8,467.4L424.8,466.5L425.8,465.6L426.8,464.8L427.8,464.0L428.8,463.2L429.8,462.5L430.8,461.9L431.8,461.3L432.8,460.7L433.8,460.2L434.8,459.7L435.8,459.3L436.8,458.9L437.8,458.6L438.8,458.3L439.8,458.1L440.8,458.0L441.8,457.9L442.8,457.8L443.9,457.8L444.9,457.9L445.9,458.0L446.9,458.2L447.9,458.4L448.9,458.7L449.9,459.0L450.9,459.4L451.9,459.8L452.9,460.3L453.9,460.8L454.9,461.4L455.9,462.0L456.9,462.7L457.9,463.4L458.9,464.2L459.9,465.0L460.9,465.8L461.9,466.7L462.9,467.6L463.9,468.5L464.9,469.5L465.9,470.5L466.9,471.6L467.9,472.7L468.9,473.8L469.9,474.9L470.9,476.0L471.9,477.2L472.9,478.4L473.9,479.5L474.9,480.8L475.9,482.0L476.9,483.2L477.9,484.4L478.9,485.7L479.9,486.9L480.9,488.2L481.9,489.4L482.9,490.7L483.9,491.9L484.9,493.2L485.9,494.4L486.9,495.6L487.9,496.8L488.9,498.1L489.9,499.2L490.9,500.4L491.9,501.6L492.9,502.8L493.9,503.9L494.9,505.0L495.9,506.1L496.9,507.2L497.9,508.3L498.9,509.3L499.9,510.3L500.9,511.3L501.9,512.3L503.0,513.3L504.0,514.2L505.0,515.1L506.0,516.0L507.0,516.8L508.0,517.7L509.0,518.5L510.0,519.3L511.0,520.0L512.0,520.8L513.0,521.5L514.0,522.2L515.0,522.8L516.0,523.5L517.0,524.1L518.0,524.7L519.0,525.3L520.0,525.8L521.0,526.4L522.0,526.9L523.0,527.4L524.0,527.8L525.0,528.3L526.0,528.7L527.0,529.1L528.0,529.5L529.0,529.9L530.0,530.2L531.0,530.6L532.0,530.9L533.0,531.2L534.0,531.5L535.0,531.8L536.0,532.0L537.0,532.3L538.0,532.5L539.0,532.7L540.0,532.9L541.0,533.1L542.0,533.3L543.0,533.5L544.0,533.7L545.0,533.8L546.0,534.0L547.0,534.1L548.0,534.3L549.0,534.4L550.0,534.5L551.0,534.6L552.0,534.7L553.0,534.8L554.0,534.9L555.0,535.0L556.0,535.0L557.0,535.1L558.0,535.2L559.0,535.2L560.0,535.3L561.0,535.4L562.0,535.4L563.1,535.5L564.1,535.5L565.1,535.5L566.1,535.6L567.1,535.6L568.1,535.6L569.1,535.7L570.1,535.7L571.1,535.7L572.1,535.8L573.1,535.8L574.1,535.8L575.1,535.8L576.1,535.8L577.1,535.8L578.1,535.9L579.1,535.9L580.1,535.9L581.1,535.9L582.1,535.9L583.1,535.9L584.1,535.9L585.1,535.9L586.1,535.9L587.1,535.9L588.1,535.9L589.1,536.0L590.1,536.0L591.1,536.0L592.1,536.0L593.1,536.0L594.1,536.0L595.1,536.0L596.1,536.0L597.1,536.0L598.1,536.0L599.1,536.0L600.1,536.0L601.1,536.0L602.1,536.0L603.1,536.0L604.1,536.0L605.1,536.0L606.1,536.0L607.1,536.0L608.1,536.0L609.1,536.0L610.1,536.0L611.1,536.0L612.1,536.0L613.1,536.0L614.1,536.0L615.1,536.0L616.1,536.0L617.1,536.0L618.1,536.0L619.1,536.0L620.1,536.0L621.1,536.0L622.1,536.0L623.2,536.0L624.2,536.0L625.2,536.0L626.2,536.0L627.2,536.0L628.2,536.0L629.2,536.0L630.2,536.0L631.2,536.0L632.2,536.0L633.2,536.0L634.2,536.0L635.2,536.0L636.2,536.0L637.2,536.0L638.2,536.0L639.2,536.0L640.2,536.0L641.2,536.0L642.2,536.0L643.2,536.0L644.2,536.0L645.2,536.0L646.2,536.0L647.2,536.0L648.2,536.0L649.2,536.0L650.2,536.0L651.2,536.0L652.2,536.0" stroke="#c99400" stroke-width="2.8"/>
<path d="M353.7,535.8L354.7,535.8L355.7,535.8L356.7,535.8L357.7,535.7L358.7,535.7L359.7,535.7L360.7,535.7L361.7,535.6L362.7,535.6L363.7,535.6L364.7,535.5L365.7,535.5L366.7,535.5L367.7,535.4L368.7,535.4L369.7,535.3L370.7,535.2L371.7,535.2L372.7,535.1L373.7,535.0L374.7,535.0L375.7,534.9L376.7,534.8L377.7,534.7L378.7,534.6L379.7,534.5L380.7,534.4L381.7,534.3L382.7,534.1L383.8,534.0L384.8,533.9L385.8,533.7L386.8,533.5L387.8,533.4L388.8,533.2L389.8,533.0L390.8,532.8L391.8,532.6L392.8,532.3L393.8,532.1L394.8,531.8L395.8,531.5L396.8,531.3L397.8,531.0L398.8,530.6L399.8,530.3L400.8,529.9L401.8,529.6L402.8,529.2L403.8,528.8L404.8,528.3L405.8,527.9L406.8,527.4L407.8,526.9L408.8,526.4L409.8,525.8L410.8,525.3L411.8,524.7L412.8,524.0L413.8,523.4L414.8,522.7L415.8,522.0L416.8,521.3L417.8,520.5L418.8,519.8L419.8,518.9L420.8,518.1L421.8,517.2L422.8,516.3L423.8,515.4L424.8,514.4L425.8,513.4L426.8,512.4L427.8,511.3L428.8,510.2L429.8,509.1L430.8,507.9L431.8,506.7L432.8,505.5L433.8,504.2L434.8,502.9L435.8,501.6L436.8,500.3L437.8,498.9L438.8,497.5L439.8,496.0L440.8,494.5L441.8,493.0L442.8,491.5L443.9,490.0L444.9,488.4L445.9,486.8L446.9,485.1L447.9,483.5L448.9,481.8L449.9,480.1L450.9,478.4L451.9,476.7L452.9,475.0L453.9,473.2L454.9,471.5L455.9,469.7L456.9,467.9L457.9,466.2L458.9,464.4L459.9,462.6L460.9,460.8L461.9,459.0L462.9,457.3L463.9,455.5L464.9,453.7L465.9,452.0L466.9,450.3L467.9,448.6L468.9,446.9L469.9,445.2L470.9,443.6L471.9,442.0L472.9,440.4L473.9,438.9L474.9,437.3L475.9,435.9L476.9,434.4L477.9,433.1L478.9,431.7L479.9,430.4L480.9,429.2L481.9,428.0L482.9,426.8L483.9,425.7L484.9,424.7L485.9,423.7L486.9,422.8L487.9,421.9L488.9,421.2L489.9,420.4L490.9,419.8L491.9,419.2L492.9,418.7L493.9,418.2L494.9,417.8L495.9,417.5L496.9,417.3L497.9,417.1L498.9,417.0L499.9,417.0L500.9,417.1L501.9,417.2L503.0,417.4L504.0,417.6L505.0,418.0L506.0,418.4L507.0,418.9L508.0,419.4L509.0,420.0L510.0,420.7L511.0,421.5L512.0,422.3L513.0,423.2L514.0,424.1L515.0,425.1L516.0,426.2L517.0,427.3L518.0,428.4L519.0,429.7L520.0,430.9L521.0,432.3L522.0,433.6L523.0,435.0L524.0,436.5L525.0,438.0L526.0,439.5L527.0,441.0L528.0,442.6L529.0,444.3L530.0,445.9L531.0,447.6L532.0,449.3L533.0,451.0L534.0,452.7L535.0,454.5L536.0,456.2L537.0,458.0L538.0,459.8L539.0,461.5L540.0,463.3L541.0,465.1L542.0,466.9L543.0,468.7L544.0,470.4L545.0,472.2L546.0,474.0L547.0,475.7L548.0,477.4L549.0,479.1L550.0,480.8L551.0,482.5L552.0,484.2L553.0,485.8L554.0,487.4L555.0,489.0L556.0,490.6L557.0,492.1L558.0,493.7L559.0,495.1L560.0,496.6L561.0,498.0L562.0,499.4L563.1,500.8L564.1,502.2L565.1,503.5L566.1,504.7L567.1,506.0L568.1,507.2L569.1,508.4L570.1,509.5L571.1,510.7L572.1,511.7L573.1,512.8L574.1,513.8L575.1,514.8L576.1,515.8L577.1,516.7L578.1,517.6L579.1,518.4L580.1,519.3L581.1,520.1L582.1,520.9L583.1,521.6L584.1,522.3L585.1,523.0L586.1,523.7L587.1,524.3L588.1,524.9L589.1,525.5L590.1,526.1L591.1,526.6L592.1,527.1L593.1,527.6L594.1,528.1L595.1,528.5L596.1,528.9L597.1,529.3L598.1,529.7L599.1,530.1L600.1,530.4L601.1,530.8L602.1,531.1L603.1,531.4L604.1,531.7L605.1,531.9L606.1,532.2L607.1,532.4L608.1,532.7L609.1,532.9L610.1,533.1L611.1,533.3L612.1,533.4L613.1,533.6L614.1,533.8L615.1,533.9L616.1,534.1L617.1,534.2L618.1,534.3L619.1,534.4L620.1,534.5L621.1,534.7L622.1,534.7L623.2,534.8L624.2,534.9L625.2,535.0L626.2,535.1L627.2,535.1L628.2,535.2L629.2,535.3L630.2,535.3L631.2,535.4L632.2,535.4L633.2,535.5L634.2,535.5L635.2,535.5L636.2,535.6L637.2,535.6L638.2,535.6L639.2,535.7L640.2,535.7L641.2,535.7L642.2,535.8L643.2,535.8L644.2,535.8L645.2,535.8L646.2,535.8L647.2,535.8L648.2,535.9L649.2,535.9L650.2,535.9L651.2,535.9L652.2,535.9" stroke="#00f800" stroke-width="2.8"/>
<path d="M353.7,535.7L354.7,535.7L355.7,535.6L356.7,535.6L357.7,535.6L358.7,535.6L359.7,535.6L360.7,535.5L361.7,535.5L362.7,535.5L363.7,535.4L364.7,535.4L365.7,535.4L366.7,535.3L367.7,535.3L368.7,535.2L369.7,535.2L370.7,535.2L371.7,535.1L372.7,535.1L373.7,535.0L374.7,534.9L375.7,534.9L376.7,534.8L377.7,534.8L378.7,534.7L379.7,534.6L380.7,534.5L381.7,534.5L382.7,534.4L383.8,534.3L384.8,534.2L385.8,534.1L386.8,534.0L387.8,533.9L388.8,533.8L389.8,533.7L390.8,533.6L391.8,533.5L392.8,533.4L393.8,533.2L394.8,533.1L395.8,532.9L396.8,532.8L397.8,532.6L398.8,532.5L399.8,532.3L400.8,532.1L401.8,532.0L402.8,531.8L403.8,531.6L404.8,531.4L405.8,531.2L406.8,531.0L407.8,530.8L408.8,530.5L409.8,530.3L410.8,530.0L411.8,529.8L412.8,529.5L413.8,529.3L414.8,529.0L415.8,528.7L416.8,528.4L417.8,528.1L418.8,527.8L419.8,527.4L420.8,527.1L421.8,526.8L422.8,526.4L423.8,526.0L424.8,525.7L425.8,525.3L426.8,524.9L427.8,524.5L428.8,524.0L429.8,523.6L430.8,523.2L431.8,522.7L432.8,522.2L433.8,521.8L434.8,521.3L435.8,520.8L436.8,520.3L437.8,519.7L438.8,519.2L439.8,518.6L440.8,518.1L441.8,517.5L442.8,516.9L443.9,516.3L444.9,515.7L445.9,515.1L446.9,514.5L447.9,513.9L448.9,513.2L449.9,512.5L450.9,511.9L451.9,511.2L452.9,510.5L453.9,509.8L454.9,509.1L455.9,508.4L456.9,507.6L457.9,506.9L458.9,506.1L459.9,505.4L460.9,504.6L461.9,503.8L462.9,503.0L463.9,502.2L464.9,501.4L465.9,500.6L466.9,499.8L467.9,499.0L468.9,498.2L469.9,497.4L470.9,496.5L471.9,495.7L472.9,494.8L473.9,494.0L474.9,493.2L475.9,492.3L476.9,491.5L477.9,490.6L478.9,489.8L479.9,488.9L480.9,488.0L481.9,487.2L482.9,486.4L483.9,485.5L484.9,484.7L485.9,483.8L486.9,483.0L487.9,482.2L488.9,481.4L489.9,480.5L490.9,479.7L491.9,478.9L492.9,478.1L493.9,477.4L494.9,476.6L495.9,475.8L496.9,475.1L497.9,474.4L498.9,473.6L499.9,472.9L500.9,472.2L501.9,471.5L503.0,470.9L504.0,470.2L505.0,469.6L506.0,469.0L507.0,468.4L508.0,467.8L509.0,467.2L510.0,466.7L511.0,466.2L512.0,465.7L513.0,465.2L514.0,464.7L515.0,464.3L516.0,463.9L517.0,463.5L518.0,463.1L519.0,462.7L520.0,462.4L521.0,462.1L522.0,461.8L523.0,461.6L524.0,461.4L525.0,461.2L526.0,461.0L527.0,460.8L528.0,460.7L529.0,460.6L530.0,460.5L531.0,460.5L532.0,460.5L533.0,460.5L534.0,460.5L535.0,460.6L536.0,460.6L537.0,460.8L538.0,460.9L539.0,461.1L540.0,461.2L541.0,461.5L542.0,461.7L543.0,461.9L544.0,462.2L545.0,462.5L546.0,462.9L547.0,463.2L548.0,463.6L549.0,464.0L550.0,464.4L551.0,464.9L552.0,465.4L553.0,465.9L554.0,466.4L555.0,466.9L556.0,467.4L557.0,468.0L558.0,468.6L559.0,469.2L560.0,469.8L561.0,470.5L562.0,471.1L563.1,471.8L564.1,472.5L565.1,473.2L566.1,473.9L567.1,474.6L568.1,475.4L569.1,476.1L570.1,476.9L571.1,477.7L572.1,478.5L573.1,479.3L574.1,480.1L575.1,480.9L576.1,481.7L577.1,482.5L578.1,483.3L579.1,484.2L580.1,485.0L581.1,485.8L582.1,486.7L583.1,487.5L584.1,488.4L585.1,489.2L586.1,490.1L587.1,490.9L588.1,491.8L589.1,492.6L590.1,493.5L591.1,494.3L592.1,495.2L593.1,496.0L594.1,496.9L595.1,497.7L596.1,498.5L597.1,499.3L598.1,500.1L599.1,501.0L600.1,501.8L601.1,502.6L602.1,503.4L603.1,504.1L604.1,504.9L605.1,505.7L606.1,506.4L607.1,507.2L608.1,507.9L609.1,508.6L610.1,509.4L611.1,510.1L612.1,510.8L613.1,511.5L614.1,512.1L615.1,512.8L616.1,513.5L617.1,514.1L618.1,514.7L619.1,515.4L620.1,516.0L621.1,516.6L622.1,517.2L623.2,517.7L624.2,518.3L625.2,518.9L626.2,519.4L627.2,519.9L628.2,520.5L629.2,521.0L630.2,521.5L631.2,521.9L632.2,522.4L633.2,522.9L634.2,523.3L635.2,523.8L636.2,524.2L637.2,524.6L638.2,525.0L639.2,525.4L640.2,525.8L641.2,526.2L642.2,526.5L643.2,526.9L644.2,527.2L645.2,527.6L646.2,527.9L647.2,528.2L648.2,528.5L649.2,528.8L650.2,529.1L651.2,529.4L652.2,529.6" stroke="#0000f5" stroke-width="2.8"/>
<path d="M353.7,529.4L354.7,529.0L355.7,528.6L356.7,528.3L357.7,527.9L358.7,527.4L359.7,527.0L360.7,526.5L361.7,526.0L362.7,525.5L363.7,525.0L364.7,524.5L365.7,523.9L366.7,523.3L367.7,522.7L368.7,522.0L369.7,521.4L370.7,520.7L371.7,519.9L372.7,519.2L373.7,518.4L374.7,517.6L375.7,516.7L376.7,515.8L377.7,514.9L378.7,514.0L379.7,513.0L380.7,512.0L381.7,511.0L382.7,509.9L383.8,508.8L384.8,507.6L385.8,506.4L386.8,505.2L387.8,504.0L388.8,502.7L389.8,501.3L390.8,500.0L391.8,498.5L392.8,497.1L393.8,495.6L394.8,494.1L395.8,492.5L396.8,490.9L397.8,489.3L398.8,487.6L399.8,485.9L400.8,484.2L401.8,482.4L402.8,480.6L403.8,478.7L404.8,476.8L405.8,474.9L406.8,472.9L407.8,470.9L408.8,468.9L409.8,466.8L410.8,464.8L411.8,462.6L412.8,460.5L413.8,458.3L414.8,456.1L415.8,453.9L416.8,451.7L417.8,449.4L418.8,447.1L419.8,444.8L420.8,442.5L421.8,440.2L422.8,437.8L423.8,435.5L424.8,433.1L425.8,430.7L426.8,428.3L427.8,426.0L428.8,423.6L429.8,421.2L430.8,418.8L431.8,416.4L432.8,414.0L433.8,411.7L434.8,409.3L435.8,406.9L436.8,404.6L437.8,402.3L438.8,399.9L439.8,397.6L440.8,395.4L441.8,393.1L442.8,390.9L443.9,388.7L444.9,386.5L445.9,384.3L446.9,382.2L447.9,380.1L448.9,378.0L449.9,376.0L450.9,374.0L451.9,372.0L452.9,370.0L453.9,368.1L454.9,366.3L455.9,364.5L456.9,362.7L457.9,360.9L458.9,359.2L459.9,357.5L460.9,355.9L461.9,354.3L462.9,352.8L463.9,351.3L464.9,349.9L465.9,348.4L466.9,347.1L467.9,345.8L468.9,344.5L469.9,343.3L470.9,342.1L471.9,341.0L472.9,339.9L473.9,338.8L474.9,337.8L475.9,336.9L476.9,336.0L477.9,335.1L478.9,334.3L479.9,333.6L480.9,332.9L481.9,332.2L482.9,331.6L483.9,331.0L484.9,330.5L485.9,330.1L486.9,329.7L487.9,329.3L488.9,329.0L489.9,328.7L490.9,328.5L491.9,328.4L492.9,328.3L493.9,328.2L494.9,328.2L495.9,328.3L496.9,328.4L497.9,328.6L498.9,328.8L499.9,329.1L500.9,329.4L501.9,329.8L503.0,330.3L504.0,330.8L505.0,331.3L506.0,332.0L507.0,332.6L508.0,333.4L509.0,334.2L510.0,335.0L511.0,335.9L512.0,336.9L513.0,337.9L514.0,339.0L515.0,340.1L516.0,341.3L517.0,342.5L518.0,343.8L519.0,345.2L520.0,346.6L521.0,348.0L522.0,349.5L523.0,351.0L524.0,352.6L525.0,354.3L526.0,356.0L527.0,357.7L528.0,359.5L529.0,361.3L530.0,363.1L531.0,365.0L532.0,366.9L533.0,368.9L534.0,370.9L535.0,372.9L536.0,374.9L537.0,377.0L538.0,379.1L539.0,381.2L540.0,383.3L541.0,385.5L542.0,387.7L543.0,389.8L544.0,392.0L545.0,394.2L546.0,396.5L547.0,398.7L548.0,400.9L549.0,403.1L550.0,405.4L551.0,407.6L552.0,409.8L553.0,412.0L554.0,414.3L555.0,416.5L556.0,418.7L557.0,420.9L558.0,423.0L559.0,425.2L560.0,427.3L561.0,429.5L562.0,431.6L563.1,433.7L564.1,435.8L565.1,437.8L566.1,439.9L567.1,441.9L568.1,443.9L569.1,445.9L570.1,447.8L571.1,449.8L572.1,451.7L573.1,453.5L574.1,455.4L575.1,457.2L576.1,459.0L577.1,460.8L578.1,462.6L579.1,464.3L580.1,466.0L581.1,467.6L582.1,469.3L583.1,470.9L584.1,472.5L585.1,474.0L586.1,475.6L587.1,477.1L588.1,478.6L589.1,480.0L590.1,481.5L591.1,482.9L592.1,484.2L593.1,485.6L594.1,486.9L595.1,488.2L596.1,489.5L597.1,490.7L598.1,492.0L599.1,493.2L600.1,494.3L601.1,495.5L602.1,496.6L603.1,497.7L604.1,498.8L605.1,499.9L606.1,500.9L607.1,501.9L608.1,502.9L609.1,503.9L610.1,504.8L611.1,505.8L612.1,506.7L613.1,507.6L614.1,508.4L615.1,509.3L616.1,510.1L617.1,510.9L618.1,511.7L619.1,512.5L620.1,513.2L621.1,513.9L622.1,514.7L623.2,515.3L624.2,516.0L625.2,516.7L626.2,517.3L627.2,518.0L628.2,518.6L629.2,519.2L630.2,519.7L631.2,520.3L632.2,520.8L633.2,521.4L634.2,521.9L635.2,522.4L636.2,522.9L637.2,523.4L638.2,523.8L639.2,524.3L640.2,524.7L641.2,525.1L642.2,525.5L643.2,525.9L644.2,526.3L645.2,526.7L646.2,527.0L647.2,527.4L648.2,527.7L649.2,528.0L650.2,528.4L651.2,528.7L652.2,529.0" stroke="#111" stroke-width="1.25"/>
<path d="M353.7,529.4L354.7,529.0L355.7,528.6L356.7,528.3L357.7,527.9L358.7,527.4L359.7,527.0L360.7,526.5L361.7,526.0L362.7,525.5L363.7,525.0L364.7,524.5L365.7,523.9L366.7,523.3L367.7,522.7L368.7,522.0L369.7,521.4L370.7,520.7L371.7,519.9L372.7,519.2L373.7,518.4L374.7,517.6L375.7,516.7L376.7,515.8L377.7,514.9L378.7,514.0L379.7,513.0L380.7,512.0L381.7,511.0L382.7,509.9L383.8,508.8L384.8,507.6L385.8,506.4L386.8,505.2L387.8,504.0L388.8,502.7L389.8,501.3L390.8,500.0L391.8,498.5L392.8,497.1L393.8,495.6L394.8,494.1L395.8,492.5L396.8,490.9L397.8,489.3L398.8,487.6L399.8,485.9L400.8,484.2L401.8,482.4L402.8,480.6L403.8,478.7L404.8,476.8L405.8,474.9L406.8,472.9L407.8,470.9L408.8,468.9L409.8,466.8L410.8,464.8L411.8,462.6L412.8,460.5L413.8,458.3L414.8,456.1L415.8,453.9L416.8,451.7L417.8,449.4L418.8,447.1L419.8,444.8L420.8,442.5L421.8,440.2L422.8,437.8L423.8,435.5L424.8,433.1L425.8,430.7L426.8,428.3L427.8,426.0L428.8,423.6L429.8,421.2L430.8,418.8L431.8,416.4L432.8,414.0L433.8,411.7L434.8,409.3L435.8,406.9L436.8,404.6L437.8,402.3L438.8,399.9L439.8,397.6L440.8,395.4L441.8,393.1L442.8,390.9L443.9,388.7L444.9,386.5L445.9,384.3L446.9,382.2L447.9,380.1L448.9,378.0L449.9,376.0L450.9,374.0L451.9,372.0L452.9,370.0L453.9,368.1L454.9,366.3L455.9,364.5L456.9,362.7L457.9,360.9L458.9,359.2L459.9,357.5L460.9,355.9L461.9,354.3L462.9,352.8L463.9,351.3L464.9,349.9L465.9,348.4L466.9,347.1L467.9,345.8L468.9,344.5L469.9,343.3L470.9,342.1L471.9,341.0L472.9,339.9L473.9,338.8L474.9,337.8L475.9,336.9L476.9,336.0L477.9,335.1L478.9,334.3L479.9,333.6L480.9,332.9L481.9,332.2L482.9,331.6L483.9,331.0L484.9,330.5L485.9,330.1L486.9,329.7L487.9,329.3L488.9,329.0L489.9,328.7L490.9,328.5L491.9,328.4L492.9,328.3L493.9,328.2L494.9,328.2L495.9,328.3L496.9,328.4L497.9,328.6L498.9,328.8L499.9,329.1L500.9,329.4L501.9,329.8L503.0,330.3L504.0,330.8L505.0,331.3L506.0,332.0L507.0,332.6L508.0,333.4L509.0,334.2L510.0,335.0L511.0,335.9L512.0,336.9L513.0,337.9L514.0,339.0L515.0,340.1L516.0,341.3L517.0,342.5L518.0,343.8L519.0,345.2L520.0,346.6L521.0,348.0L522.0,349.5L523.0,351.0L524.0,352.6L525.0,354.3L526.0,356.0L527.0,357.7L528.0,359.5L529.0,361.3L530.0,363.1L531.0,365.0L532.0,366.9L533.0,368.9L534.0,370.9L535.0,372.9L536.0,374.9L537.0,377.0L538.0,379.1L539.0,381.2L540.0,383.3L541.0,385.5L542.0,387.7L543.0,389.8L544.0,392.0L545.0,394.2L546.0,396.5L547.0,398.7L548.0,400.9L549.0,403.1L550.0,405.4L551.0,407.6L552.0,409.8L553.0,412.0L554.0,414.3L555.0,416.5L556.0,418.7L557.0,420.9L558.0,423.0L559.0,425.2L560.0,427.3L561.0,429.5L562.0,431.6L563.1,433.7L564.1,435.8L565.1,437.8L566.1,439.9L567.1,441.9L568.1,443.9L569.1,445.9L570.1,447.8L571.1,449.8L572.1,451.7L573.1,453.5L574.1,455.4L575.1,457.2L576.1,459.0L577.1,460.8L578.1,462.6L579.1,464.3L580.1,466.0L581.1,467.6L582.1,469.3L583.1,470.9L584.1,472.5L585.1,474.0L586.1,475.6L587.1,477.1L588.1,478.6L589.1,480.0L590.1,481.5L591.1,482.9L592.1,484.2L593.1,485.6L594.1,486.9L595.1,488.2L596.1,489.5L597.1,490.7L598.1,492.0L599.1,493.2L600.1,494.3L601.1,495.5L602.1,496.6L603.1,497.7L604.1,498.8L605.1,499.9L606.1,500.9L607.1,501.9L608.1,502.9L609.1,503.9L610.1,504.8L611.1,505.8L612.1,506.7L613.1,507.6L614.1,508.4L615.1,509.3L616.1,510.1L617.1,510.9L618.1,511.7L619.1,512.5L620.1,513.2L621.1,513.9L622.1,514.7L623.2,515.3L624.2,516.0L625.2,516.7L626.2,517.3L627.2,518.0L628.2,518.6L629.2,519.2L630.2,519.7L631.2,520.3L632.2,520.8L633.2,521.4L634.2,521.9L635.2,522.4L636.2,522.9L637.2,523.4L638.2,523.8L639.2,524.3L640.2,524.7L641.2,525.1L642.2,525.5L643.2,525.9L644.2,526.3L645.2,526.7L646.2,527.0L647.2,527.4L648.2,527.7L649.2,528.0L650.2,528.4L651.2,528.7L652.2,529.0" stroke="#ff0000" stroke-width="3" stroke-dasharray="5.4 8"/>
</g>
<rect x="353.70" y="297.60" width="298.50" height="240.00" fill="none" stroke="#000" stroke-width="1.5"/>
<line x1="378.57" y1="537.60" x2="378.57" y2="543.00" stroke="#000" stroke-width="1.3"/>
<text x="378.57" y="554.00" class="tl" style="font-size:9.30px">2100</text>
<line x1="428.32" y1="537.60" x2="428.32" y2="543.00" stroke="#000" stroke-width="1.3"/>
<text x="428.32" y="554.00" class="tl" style="font-size:9.30px">2080</text>
<line x1="478.08" y1="537.60" x2="478.08" y2="543.00" stroke="#000" stroke-width="1.3"/>
<text x="478.08" y="554.00" class="tl" style="font-size:9.30px">2060</text>
<line x1="527.83" y1="537.60" x2="527.83" y2="543.00" stroke="#000" stroke-width="1.3"/>
<text x="527.83" y="554.00" class="tl" style="font-size:9.30px">2040</text>
<line x1="577.58" y1="537.60" x2="577.58" y2="543.00" stroke="#000" stroke-width="1.3"/>
<text x="577.58" y="554.00" class="tl" style="font-size:9.30px">2020</text>
<line x1="627.33" y1="537.60" x2="627.33" y2="543.00" stroke="#000" stroke-width="1.3"/>
<text x="627.33" y="554.00" class="tl" style="font-size:9.30px">2000</text>
<line x1="498.70" y1="420.40" x2="498.70" y2="429.20" stroke="#333" stroke-width="0.8"/>
<text x="498.70" y="437.80" class="pl" style="font-size:8.00px">2051</text>
<line x1="443.80" y1="461.30" x2="443.80" y2="470.00" stroke="#333" stroke-width="0.8"/>
<text x="443.80" y="479.30" class="pl" style="font-size:8.00px">2074</text>
<line x1="532.30" y1="464.20" x2="532.30" y2="473.00" stroke="#333" stroke-width="0.8"/>
<text x="532.30" y="481.60" class="pl" style="font-size:8.00px">2036</text>
<rect x="466.60" y="302.70" width="57.80" height="14.30" fill="#aef3ae"/>
<text x="495.50" y="312.95" class="tt" style="font-size:9.40px">NH<tspan style="font-size:6.30px" dy="2.4">4</tspan><tspan dy="-2.4">SCN 32%</tspan></text>
<line x1="568.50" y1="308.40" x2="588.70" y2="308.40" stroke="#222" stroke-width="1.2"/>
<text x="591.50" y="311.40" class="lg" style="font-size:9.00px">Experimental</text>
<line x1="568.50" y1="319.60" x2="588.70" y2="319.60" stroke="#c99400" stroke-width="3"/>
<text x="591.50" y="322.60" class="lg" style="font-size:9.00px">Ion Aggregates</text>
<line x1="568.50" y1="330.90" x2="588.70" y2="330.90" stroke="#00f800" stroke-width="3"/>
<text x="591.50" y="333.90" class="lg" style="font-size:9.00px">Contact Ions</text>
<line x1="568.50" y1="342.40" x2="588.70" y2="342.40" stroke="#0000f5" stroke-width="3"/>
<text x="591.50" y="345.40" class="lg" style="font-size:9.00px">Free Ions</text>
<line x1="568.50" y1="353.30" x2="588.70" y2="353.30" stroke="#ff0000" stroke-width="2.8" stroke-dasharray="5.1 9"/>
<text x="591.50" y="356.30" class="lg" style="font-size:9.00px">Fitting Curve</text>
<text transform="translate(344.90,418.00) rotate(-90)" class="al" style="font-size:10.20px">Intensity (a.u.)</text>
<text x="503.00" y="571.40" class="xl" style="font-size:10.40px">Wavenumber (cm<tspan style="font-size:6.50px" dy="-4">-1</tspan><tspan dy="4">)</tspan></text>
<line x1="353.70" y1="531.10" x2="353.70" y2="553.20" stroke="#ff1493" stroke-width="1.1"/>
<path d="M351.20,548.70 L353.70,550.70 L356.20,548.70 L353.70,557.80 Z" fill="#ff1493"/>
<circle cx="353.70" cy="531.10" r="1.9" fill="#ff1493"/>
<text x="355.90" y="570.20" class="tl" style="font-size:9.30px">2110</text>
<line x1="652.20" y1="530.60" x2="652.20" y2="553.40" stroke="#ff1493" stroke-width="1.1"/>
<path d="M649.70,548.90 L652.20,550.90 L654.70,548.90 L652.20,558.00 Z" fill="#ff1493"/>
<circle cx="652.20" cy="530.60" r="1.9" fill="#ff1493"/>
<text x="654.80" y="571.10" class="tl" style="font-size:9.30px">1990</text>
<g clip-path="url(#c40)" fill="none">
<path d="M19.4,836.8L20.4,836.5L21.4,836.1L22.4,835.7L23.4,835.2L24.4,834.7L25.4,834.1L26.4,833.5L27.4,832.7L28.4,831.9L29.4,831.1L30.4,830.1L31.4,829.1L32.4,827.9L33.4,826.7L34.4,825.3L35.4,823.8L36.4,822.2L37.4,820.5L38.4,818.6L39.4,816.7L40.4,814.5L41.4,812.3L42.4,809.9L43.4,807.3L44.4,804.6L45.4,801.8L46.4,798.8L47.4,795.6L48.4,792.4L49.4,789.0L50.4,785.4L51.4,781.8L52.4,778.0L53.4,774.1L54.4,770.1L55.4,766.0L56.4,761.9L57.4,757.7L58.4,753.4L59.4,749.2L60.4,744.9L61.4,740.6L62.4,736.4L63.4,732.1L64.4,728.0L65.4,723.9L66.4,720.0L67.4,716.2L68.4,712.5L69.4,708.9L70.4,705.6L71.5,702.4L72.5,699.5L73.5,696.7L74.5,694.3L75.5,692.0L76.5,690.1L77.5,688.4L78.5,686.9L79.5,685.8L80.5,684.9L81.5,684.4L82.5,684.1L83.5,684.0L84.5,684.2L85.5,684.7L86.5,685.4L87.5,686.5L88.5,687.8L89.5,689.4L90.5,691.2L91.5,693.4L92.5,695.8L93.5,698.4L94.5,701.3L95.5,704.4L96.5,707.6L97.5,711.1L98.5,714.7L99.5,718.5L100.5,722.4L101.5,726.5L102.5,730.6L103.5,734.8L104.5,739.0L105.5,743.3L106.5,747.6L107.5,751.8L108.5,756.1L109.5,760.3L110.5,764.5L111.5,768.6L112.5,772.6L113.5,776.5L114.5,780.3L115.5,784.1L116.5,787.6L117.5,791.1L118.5,794.4L119.5,797.6L120.5,800.7L121.5,803.6L122.5,806.3L123.5,808.9L124.5,811.4L125.5,813.7L126.5,815.9L127.5,817.9L128.5,819.8L129.5,821.6L130.5,823.2L131.5,824.8L132.5,826.2L133.5,827.5L134.5,828.6L135.5,829.7L136.5,830.7L137.5,831.6L138.5,832.4L139.5,833.2L140.5,833.9L141.5,834.5L142.5,835.0L143.5,835.5L144.5,835.9L145.5,836.3L146.5,836.7L147.5,837.0L148.5,837.3L149.5,837.5L150.5,837.7L151.5,837.9L152.5,838.1L153.5,838.2L154.5,838.3L155.5,838.4L156.5,838.5L157.5,838.6L158.5,838.7L159.5,838.8L160.5,838.8L161.5,838.8L162.5,838.9L163.5,838.9L164.5,838.9L165.5,839.0L166.5,839.0L167.5,839.0L168.5,839.0L169.5,839.0L170.5,839.0L171.5,839.0L172.5,839.1L173.6,839.1L174.6,839.1L175.6,839.1L176.6,839.1L177.6,839.1L178.6,839.1L179.6,839.1L180.6,839.1L181.6,839.1L182.6,839.1L183.6,839.1L184.6,839.1L185.6,839.1L186.6,839.1L187.6,839.1L188.6,839.1L189.6,839.1L190.6,839.1L191.6,839.1L192.6,839.1L193.6,839.1L194.6,839.1L195.6,839.1L196.6,839.1L197.6,839.1L198.6,839.1L199.6,839.1L200.6,839.1L201.6,839.1L202.6,839.1L203.6,839.1L204.6,839.1L205.6,839.1L206.6,839.1L207.6,839.1L208.6,839.1L209.6,839.1L210.6,839.1L211.6,839.1L212.6,839.1L213.6,839.1L214.6,839.1L215.6,839.1L216.6,839.1L217.6,839.1L218.6,839.1L219.6,839.1L220.6,839.1L221.6,839.1L222.6,839.1L223.6,839.1L224.6,839.1L225.6,839.1L226.6,839.1L227.6,839.1L228.6,839.1L229.6,839.1L230.6,839.1L231.6,839.1L232.6,839.1L233.6,839.1L234.6,839.1L235.6,839.1L236.6,839.1L237.6,839.1L238.6,839.1L239.6,839.1L240.6,839.1L241.6,839.1L242.6,839.1L243.6,839.1L244.6,839.1L245.6,839.1L246.6,839.1L247.6,839.1L248.6,839.1L249.6,839.1L250.6,839.1L251.6,839.1L252.6,839.1L253.6,839.1L254.6,839.1L255.6,839.1L256.6,839.1L257.6,839.1L258.6,839.1L259.6,839.1L260.6,839.1L261.6,839.1L262.6,839.1L263.6,839.1L264.6,839.1L265.6,839.1L266.6,839.1L267.6,839.1L268.6,839.1L269.6,839.1L270.6,839.1L271.6,839.1L272.6,839.1L273.6,839.1L274.6,839.1L275.6,839.1L276.7,839.1L277.7,839.1L278.7,839.1L279.7,839.1L280.7,839.1L281.7,839.1L282.7,839.1L283.7,839.1L284.7,839.1L285.7,839.1L286.7,839.1L287.7,839.1L288.7,839.1L289.7,839.1L290.7,839.1L291.7,839.1L292.7,839.1L293.7,839.1L294.7,839.1L295.7,839.1L296.7,839.1L297.7,839.1L298.7,839.1L299.7,839.1L300.7,839.1L301.7,839.1L302.7,839.1L303.7,839.1L304.7,839.1L305.7,839.1L306.7,839.1L307.7,839.1L308.7,839.1L309.7,839.1L310.7,839.1L311.7,839.1L312.7,839.1L313.7,839.1L314.7,839.1L315.7,839.1L316.7,839.1L317.7,839.1L318.7,839.1L319.7,839.1L320.7,839.1L321.7,839.1L322.7,839.1L323.7,839.1L324.7,839.1L325.7,839.1L326.7,839.1L327.7,839.1" stroke="#cf8a00" stroke-width="2.8"/>
<path d="M19.4,836.3L20.4,836.2L21.4,836.1L22.4,836.0L23.4,835.9L24.4,835.8L25.4,835.7L26.4,835.5L27.4,835.4L28.4,835.3L29.4,835.2L30.4,835.1L31.4,834.9L32.4,834.8L33.4,834.7L34.4,834.5L35.4,834.4L36.4,834.2L37.4,834.1L38.4,833.9L39.4,833.8L40.4,833.6L41.4,833.4L42.4,833.3L43.4,833.1L44.4,832.9L45.4,832.8L46.4,832.6L47.4,832.4L48.4,832.2L49.4,832.0L50.4,831.8L51.4,831.6L52.4,831.4L53.4,831.2L54.4,831.0L55.4,830.8L56.4,830.6L57.4,830.4L58.4,830.1L59.4,829.9L60.4,829.7L61.4,829.4L62.4,829.2L63.4,828.9L64.4,828.7L65.4,828.4L66.4,828.2L67.4,827.9L68.4,827.7L69.4,827.4L70.4,827.1L71.5,826.8L72.5,826.6L73.5,826.3L74.5,826.0L75.5,825.7L76.5,825.4L77.5,825.1L78.5,824.8L79.5,824.5L80.5,824.2L81.5,823.8L82.5,823.5L83.5,823.2L84.5,822.9L85.5,822.5L86.5,822.2L87.5,821.8L88.5,821.5L89.5,821.2L90.5,820.8L91.5,820.4L92.5,820.1L93.5,819.7L94.5,819.4L95.5,819.0L96.5,818.6L97.5,818.2L98.5,817.9L99.5,817.5L100.5,817.1L101.5,816.7L102.5,816.3L103.5,815.9L104.5,815.5L105.5,815.1L106.5,814.7L107.5,814.3L108.5,813.9L109.5,813.5L110.5,813.1L111.5,812.7L112.5,812.3L113.5,811.9L114.5,811.5L115.5,811.0L116.5,810.6L117.5,810.2L118.5,809.8L119.5,809.4L120.5,809.0L121.5,808.5L122.5,808.1L123.5,807.7L124.5,807.3L125.5,806.8L126.5,806.4L127.5,806.0L128.5,805.6L129.5,805.1L130.5,804.7L131.5,804.3L132.5,803.9L133.5,803.5L134.5,803.1L135.5,802.6L136.5,802.2L137.5,801.8L138.5,801.4L139.5,801.0L140.5,800.6L141.5,800.2L142.5,799.8L143.5,799.4L144.5,799.0L145.5,798.6L146.5,798.2L147.5,797.9L148.5,797.5L149.5,797.1L150.5,796.7L151.5,796.4L152.5,796.0L153.5,795.6L154.5,795.3L155.5,795.0L156.5,794.6L157.5,794.3L158.5,793.9L159.5,793.6L160.5,793.3L161.5,793.0L162.5,792.7L163.5,792.4L164.5,792.1L165.5,791.8L166.5,791.5L167.5,791.3L168.5,791.0L169.5,790.7L170.5,790.5L171.5,790.2L172.5,790.0L173.6,789.8L174.6,789.6L175.6,789.3L176.6,789.1L177.6,788.9L178.6,788.8L179.6,788.6L180.6,788.4L181.6,788.3L182.6,788.1L183.6,788.0L184.6,787.8L185.6,787.7L186.6,787.6L187.6,787.5L188.6,787.4L189.6,787.3L190.6,787.2L191.6,787.2L192.6,787.1L193.6,787.1L194.6,787.0L195.6,787.0L196.6,787.0L197.6,787.0L198.6,787.0L199.6,787.0L200.6,787.0L201.6,787.1L202.6,787.1L203.6,787.2L204.6,787.2L205.6,787.3L206.6,787.4L207.6,787.5L208.6,787.6L209.6,787.7L210.6,787.8L211.6,787.9L212.6,788.0L213.6,788.2L214.6,788.3L215.6,788.5L216.6,788.7L217.6,788.9L218.6,789.1L219.6,789.3L220.6,789.5L221.6,789.7L222.6,789.9L223.6,790.1L224.6,790.4L225.6,790.6L226.6,790.9L227.6,791.1L228.6,791.4L229.6,791.7L230.6,792.0L231.6,792.3L232.6,792.6L233.6,792.9L234.6,793.2L235.6,793.5L236.6,793.8L237.6,794.1L238.6,794.5L239.6,794.8L240.6,795.1L241.6,795.5L242.6,795.9L243.6,796.2L244.6,796.6L245.6,796.9L246.6,797.3L247.6,797.7L248.6,798.1L249.6,798.5L250.6,798.8L251.6,799.2L252.6,799.6L253.6,800.0L254.6,800.4L255.6,800.8L256.6,801.2L257.6,801.6L258.6,802.1L259.6,802.5L260.6,802.9L261.6,803.3L262.6,803.7L263.6,804.1L264.6,804.5L265.6,805.0L266.6,805.4L267.6,805.8L268.6,806.2L269.6,806.7L270.6,807.1L271.6,807.5L272.6,807.9L273.6,808.3L274.6,808.8L275.6,809.2L276.7,809.6L277.7,810.0L278.7,810.4L279.7,810.9L280.7,811.3L281.7,811.7L282.7,812.1L283.7,812.5L284.7,812.9L285.7,813.3L286.7,813.8L287.7,814.2L288.7,814.6L289.7,815.0L290.7,815.4L291.7,815.8L292.7,816.2L293.7,816.5L294.7,816.9L295.7,817.3L296.7,817.7L297.7,818.1L298.7,818.5L299.7,818.8L300.7,819.2L301.7,819.6L302.7,819.9L303.7,820.3L304.7,820.6L305.7,821.0L306.7,821.4L307.7,821.7L308.7,822.0L309.7,822.4L310.7,822.7L311.7,823.0L312.7,823.4L313.7,823.7L314.7,824.0L315.7,824.3L316.7,824.6L317.7,825.0L318.7,825.3L319.7,825.6L320.7,825.9L321.7,826.1L322.7,826.4L323.7,826.7L324.7,827.0L325.7,827.3L326.7,827.5L327.7,827.8" stroke="#00f800" stroke-width="2.8"/>
<path d="M19.4,837.9L20.4,837.8L21.4,837.6L22.4,837.5L23.4,837.4L24.4,837.2L25.4,837.1L26.4,836.9L27.4,836.7L28.4,836.5L29.4,836.3L30.4,836.1L31.4,835.9L32.4,835.6L33.4,835.4L34.4,835.1L35.4,834.8L36.4,834.5L37.4,834.2L38.4,833.9L39.4,833.5L40.4,833.1L41.4,832.7L42.4,832.3L43.4,831.9L44.4,831.5L45.4,831.0L46.4,830.5L47.4,830.0L48.4,829.5L49.4,828.9L50.4,828.3L51.4,827.7L52.4,827.1L53.4,826.4L54.4,825.7L55.4,825.0L56.4,824.3L57.4,823.5L58.4,822.7L59.4,821.9L60.4,821.1L61.4,820.2L62.4,819.3L63.4,818.4L64.4,817.4L65.4,816.4L66.4,815.4L67.4,814.4L68.4,813.4L69.4,812.3L70.4,811.2L71.5,810.0L72.5,808.9L73.5,807.7L74.5,806.5L75.5,805.3L76.5,804.0L77.5,802.8L78.5,801.5L79.5,800.2L80.5,798.9L81.5,797.6L82.5,796.2L83.5,794.9L84.5,793.5L85.5,792.2L86.5,790.8L87.5,789.4L88.5,788.1L89.5,786.7L90.5,785.3L91.5,784.0L92.5,782.6L93.5,781.3L94.5,779.9L95.5,778.6L96.5,777.3L97.5,776.0L98.5,774.8L99.5,773.5L100.5,772.3L101.5,771.2L102.5,770.0L103.5,768.9L104.5,767.8L105.5,766.8L106.5,765.8L107.5,764.8L108.5,763.9L109.5,763.0L110.5,762.2L111.5,761.5L112.5,760.8L113.5,760.1L114.5,759.5L115.5,759.0L116.5,758.5L117.5,758.0L118.5,757.7L119.5,757.4L120.5,757.2L121.5,757.0L122.5,756.9L123.5,756.8L124.5,756.9L125.5,757.0L126.5,757.1L127.5,757.3L128.5,757.6L129.5,758.0L130.5,758.4L131.5,758.8L132.5,759.4L133.5,759.9L134.5,760.6L135.5,761.3L136.5,762.0L137.5,762.8L138.5,763.7L139.5,764.6L140.5,765.5L141.5,766.5L142.5,767.5L143.5,768.6L144.5,769.7L145.5,770.9L146.5,772.0L147.5,773.2L148.5,774.5L149.5,775.7L150.5,777.0L151.5,778.3L152.5,779.6L153.5,780.9L154.5,782.3L155.5,783.6L156.5,785.0L157.5,786.3L158.5,787.7L159.5,789.1L160.5,790.4L161.5,791.8L162.5,793.2L163.5,794.5L164.5,795.9L165.5,797.2L166.5,798.5L167.5,799.9L168.5,801.2L169.5,802.4L170.5,803.7L171.5,805.0L172.5,806.2L173.6,807.4L174.6,808.6L175.6,809.7L176.6,810.9L177.6,812.0L178.6,813.1L179.6,814.1L180.6,815.2L181.6,816.2L182.6,817.2L183.6,818.1L184.6,819.1L185.6,820.0L186.6,820.9L187.6,821.7L188.6,822.5L189.6,823.3L190.6,824.1L191.6,824.8L192.6,825.6L193.6,826.2L194.6,826.9L195.6,827.5L196.6,828.2L197.6,828.7L198.6,829.3L199.6,829.9L200.6,830.4L201.6,830.9L202.6,831.3L203.6,831.8L204.6,832.2L205.6,832.6L206.6,833.0L207.6,833.4L208.6,833.8L209.6,834.1L210.6,834.4L211.6,834.7L212.6,835.0L213.6,835.3L214.6,835.6L215.6,835.8L216.6,836.0L217.6,836.3L218.6,836.5L219.6,836.7L220.6,836.8L221.6,837.0L222.6,837.2L223.6,837.3L224.6,837.5L225.6,837.6L226.6,837.7L227.6,837.9L228.6,838.0L229.6,838.1L230.6,838.2L231.6,838.3L232.6,838.4L233.6,838.4L234.6,838.5L235.6,838.6L236.6,838.6L237.6,838.7L238.6,838.8L239.6,838.8L240.6,838.9L241.6,838.9L242.6,839.0L243.6,839.0L244.6,839.0L245.6,839.1L246.6,839.1L247.6,839.1L248.6,839.2L249.6,839.2L250.6,839.2L251.6,839.3L252.6,839.3L253.6,839.3L254.6,839.3L255.6,839.3L256.6,839.4L257.6,839.4L258.6,839.4L259.6,839.4L260.6,839.4L261.6,839.4L262.6,839.4L263.6,839.5L264.6,839.5L265.6,839.5L266.6,839.5L267.6,839.5L268.6,839.5L269.6,839.5L270.6,839.5L271.6,839.5L272.6,839.5L273.6,839.5L274.6,839.6L275.6,839.6L276.7,839.6L277.7,839.6L278.7,839.6L279.7,839.6L280.7,839.6L281.7,839.6L282.7,839.6L283.7,839.6L284.7,839.6L285.7,839.6L286.7,839.6L287.7,839.6L288.7,839.6L289.7,839.6L290.7,839.6L291.7,839.6L292.7,839.6L293.7,839.7L294.7,839.7L295.7,839.7L296.7,839.7L297.7,839.7L298.7,839.7L299.7,839.7L300.7,839.7L301.7,839.7L302.7,839.7L303.7,839.7L304.7,839.7L305.7,839.7L306.7,839.7L307.7,839.7L308.7,839.7L309.7,839.7L310.7,839.7L311.7,839.7L312.7,839.7L313.7,839.7L314.7,839.7L315.7,839.7L316.7,839.7L317.7,839.7L318.7,839.7L319.7,839.7L320.7,839.7L321.7,839.7L322.7,839.7L323.7,839.7L324.7,839.7L325.7,839.7L326.7,839.8L327.7,839.8" stroke="#0000f5" stroke-width="2.8"/>
<path d="M19.4,828.0L20.4,827.1L21.4,826.7L22.4,826.8L23.4,827.0L24.4,827.1L25.4,826.9L26.4,826.4L27.4,825.5L28.4,824.4L29.4,823.2L30.4,821.9L31.4,820.4L32.4,818.9L33.4,817.2L34.4,815.4L35.4,813.5L36.4,811.4L37.4,809.2L38.4,806.9L39.4,804.4L40.4,801.7L41.4,798.9L42.4,795.9L43.4,792.8L44.4,789.5L45.4,786.1L46.4,782.4L47.4,778.6L48.4,774.7L49.4,770.6L50.4,766.3L51.4,761.8L52.4,757.2L53.4,752.5L54.4,747.6L55.4,742.6L56.4,737.5L57.4,732.3L58.4,727.0L59.4,721.6L60.4,716.2L61.4,710.7L62.4,705.2L63.4,699.7L64.4,694.2L65.4,688.7L66.4,683.4L67.4,678.1L68.4,672.9L69.4,667.9L70.4,663.0L71.5,658.3L72.5,653.9L73.5,649.6L74.5,645.7L75.5,642.0L76.5,638.6L77.5,635.6L78.5,632.8L79.5,630.4L80.5,628.3L81.5,626.5L82.5,624.9L83.5,623.7L84.5,622.7L85.5,622.0L86.5,621.5L87.5,621.1L88.5,621.0L89.5,621.1L90.5,621.3L91.5,621.6L92.5,622.2L93.5,622.8L94.5,623.7L95.5,624.7L96.5,625.8L97.5,627.2L98.5,628.7L99.5,630.4L100.5,632.2L101.5,634.3L102.5,636.5L103.5,638.9L104.5,641.4L105.5,644.0L106.5,646.7L107.5,649.6L108.5,652.5L109.5,655.4L110.5,658.4L111.5,661.4L112.5,664.4L113.5,667.4L114.5,670.4L115.5,673.3L116.5,676.1L117.5,678.9L118.5,681.6L119.5,684.2L120.5,686.8L121.5,689.2L122.5,691.6L123.5,693.9L124.5,696.1L125.5,698.2L126.5,700.2L127.5,702.1L128.5,704.0L129.5,705.8L130.5,707.5L131.5,709.1L132.5,710.7L133.5,712.2L134.5,713.7L135.5,715.1L136.5,716.5L137.5,717.8L138.5,719.1L139.5,720.4L140.5,721.7L141.5,722.9L142.5,724.1L143.5,725.4L144.5,726.6L145.5,727.8L146.5,729.0L147.5,730.1L148.5,731.3L149.5,732.5L150.5,733.7L151.5,734.8L152.5,736.0L153.5,737.1L154.5,738.2L155.5,739.2L156.5,740.3L157.5,741.3L158.5,742.3L159.5,743.3L160.5,744.3L161.5,745.3L162.5,746.3L163.5,747.2L164.5,748.2L165.5,749.1L166.5,750.1L167.5,751.0L168.5,752.0L169.5,752.9L170.5,753.9L171.5,754.8L172.5,755.8L173.6,756.7L174.6,757.6L175.6,758.6L176.6,759.5L177.6,760.4L178.6,761.3L179.6,762.1L180.6,763.0L181.6,763.8L182.6,764.7L183.6,765.5L184.6,766.3L185.6,767.1L186.6,767.8L187.6,768.6L188.6,769.3L189.6,770.0L190.6,770.7L191.6,771.4L192.6,772.1L193.6,772.8L194.6,773.4L195.6,774.0L196.6,774.6L197.6,775.2L198.6,775.8L199.6,776.4L200.6,777.0L201.6,777.5L202.6,778.1L203.6,778.6L204.6,779.1L205.6,779.7L206.6,780.2L207.6,780.7L208.6,781.2L209.6,781.7L210.6,782.1L211.6,782.6L212.6,783.1L213.6,783.6L214.6,784.0L215.6,784.5L216.6,785.0L217.6,785.4L218.6,785.9L219.6,786.4L220.6,786.8L221.6,787.3L222.6,787.7L223.6,788.2L224.6,788.7L225.6,789.1L226.6,789.6L227.6,790.1L228.6,790.6L229.6,791.0L230.6,791.5L231.6,792.0L232.6,792.5L233.6,792.9L234.6,793.4L235.6,793.9L236.6,794.4L237.6,794.9L238.6,795.4L239.6,795.9L240.6,796.4L241.6,796.9L242.6,797.4L243.6,797.8L244.6,798.3L245.6,798.8L246.6,799.3L247.6,799.8L248.6,800.3L249.6,800.7L250.6,801.2L251.6,801.7L252.6,802.1L253.6,802.6L254.6,803.1L255.6,803.5L256.6,804.0L257.6,804.4L258.6,804.8L259.6,805.2L260.6,805.7L261.6,806.1L262.6,806.5L263.6,806.9L264.6,807.3L265.6,807.6L266.6,808.0L267.6,808.4L268.6,808.8L269.6,809.1L270.6,809.5L271.6,809.8L272.6,810.2L273.6,810.5L274.6,810.9L275.6,811.2L276.7,811.5L277.7,811.8L278.7,812.2L279.7,812.5L280.7,812.8L281.7,813.1L282.7,813.4L283.7,813.7L284.7,814.0L285.7,814.3L286.7,814.6L287.7,814.9L288.7,815.2L289.7,815.5L290.7,815.7L291.7,816.0L292.7,816.2L293.7,816.5L294.7,816.7L295.7,816.9L296.7,817.1L297.7,817.3L298.7,817.5L299.7,817.6L300.7,817.8L301.7,818.0L302.7,818.1L303.7,818.3L304.7,818.5L305.7,818.6L306.7,818.8L307.7,819.0L308.7,819.2L309.7,819.4L310.7,819.7L311.7,820.0L312.7,820.3L313.7,820.6L314.7,820.9L315.7,821.3L316.7,821.7L317.7,822.1L318.7,822.5L319.7,822.9L320.7,823.4L321.7,823.8L322.7,824.3L323.7,824.8L324.7,825.2L325.7,825.6L326.7,826.1L327.7,826.5" stroke="#111" stroke-width="1.25"/>
<path d="M19.4,832.2L20.4,831.6L21.4,830.9L22.4,830.2L23.4,829.4L24.4,828.6L25.4,827.7L26.4,826.7L27.4,825.6L28.4,824.5L29.4,823.2L30.4,821.9L31.4,820.5L32.4,818.9L33.4,817.2L34.4,815.4L35.4,813.5L36.4,811.5L37.4,809.3L38.4,807.0L39.4,804.5L40.4,801.9L41.4,799.1L42.4,796.2L43.4,793.1L44.4,789.8L45.4,786.4L46.4,782.8L47.4,779.1L48.4,775.2L49.4,771.1L50.4,766.9L51.4,762.6L52.4,758.1L53.4,753.4L54.4,748.7L55.4,743.8L56.4,738.8L57.4,733.7L58.4,728.5L59.4,723.3L60.4,718.0L61.4,712.7L62.4,707.4L63.4,702.0L64.4,696.7L65.4,691.4L66.4,686.1L67.4,681.0L68.4,675.9L69.4,670.9L70.4,666.1L71.5,661.4L72.5,656.9L73.5,652.5L74.5,648.4L75.5,644.5L76.5,640.8L77.5,637.4L78.5,634.2L79.5,631.3L80.5,628.7L81.5,626.3L82.5,624.3L83.5,622.5L84.5,621.0L85.5,619.9L86.5,619.0L87.5,618.5L88.5,618.2L89.5,618.2L90.5,618.5L91.5,619.1L92.5,619.9L93.5,621.0L94.5,622.3L95.5,623.8L96.5,625.5L97.5,627.4L98.5,629.5L99.5,631.8L100.5,634.2L101.5,636.7L102.5,639.3L103.5,642.0L104.5,644.8L105.5,647.6L106.5,650.5L107.5,653.4L108.5,656.3L109.5,659.3L110.5,662.2L111.5,665.1L112.5,667.9L113.5,670.8L114.5,673.5L115.5,676.3L116.5,678.9L117.5,681.5L118.5,684.0L119.5,686.5L120.5,688.8L121.5,691.1L122.5,693.3L123.5,695.4L124.5,697.5L125.5,699.4L126.5,701.3L127.5,703.2L128.5,704.9L129.5,706.6L130.5,708.2L131.5,709.8L132.5,711.3L133.5,712.7L134.5,714.1L135.5,715.5L136.5,716.8L137.5,718.1L138.5,719.3L139.5,720.6L140.5,721.8L141.5,722.9L142.5,724.1L143.5,725.2L144.5,726.3L145.5,727.5L146.5,728.6L147.5,729.7L148.5,730.8L149.5,731.8L150.5,732.9L151.5,734.0L152.5,735.1L153.5,736.2L154.5,737.2L155.5,738.3L156.5,739.4L157.5,740.5L158.5,741.6L159.5,742.6L160.5,743.7L161.5,744.8L162.5,745.9L163.5,746.9L164.5,748.0L165.5,749.0L166.5,750.1L167.5,751.1L168.5,752.2L169.5,753.2L170.5,754.2L171.5,755.2L172.5,756.2L173.6,757.2L174.6,758.2L175.6,759.2L176.6,760.1L177.6,761.0L178.6,762.0L179.6,762.9L180.6,763.8L181.6,764.6L182.6,765.5L183.6,766.3L184.6,767.2L185.6,768.0L186.6,768.8L187.6,769.5L188.6,770.3L189.6,771.0L190.6,771.8L191.6,772.5L192.6,773.2L193.6,773.8L194.6,774.5L195.6,775.1L196.6,775.7L197.6,776.4L198.6,777.0L199.6,777.5L200.6,778.1L201.6,778.7L202.6,779.2L203.6,779.7L204.6,780.2L205.6,780.7L206.6,781.2L207.6,781.7L208.6,782.2L209.6,782.6L210.6,783.1L211.6,783.5L212.6,784.0L213.6,784.4L214.6,784.8L215.6,785.2L216.6,785.6L217.6,786.0L218.6,786.4L219.6,786.8L220.6,787.2L221.6,787.6L222.6,788.0L223.6,788.4L224.6,788.7L225.6,789.1L226.6,789.5L227.6,789.9L228.6,790.2L229.6,790.6L230.6,791.0L231.6,791.3L232.6,791.7L233.6,792.1L234.6,792.4L235.6,792.8L236.6,793.2L237.6,793.5L238.6,793.9L239.6,794.3L240.6,794.7L241.6,795.0L242.6,795.4L243.6,795.8L244.6,796.2L245.6,796.5L246.6,796.9L247.6,797.3L248.6,797.7L249.6,798.1L250.6,798.5L251.6,798.9L252.6,799.3L253.6,799.6L254.6,800.0L255.6,800.4L256.6,800.8L257.6,801.2L258.6,801.6L259.6,802.1L260.6,802.5L261.6,802.9L262.6,803.3L263.6,803.7L264.6,804.1L265.6,804.5L266.6,804.9L267.6,805.3L268.6,805.7L269.6,806.2L270.6,806.6L271.6,807.0L272.6,807.4L273.6,807.8L274.6,808.2L275.6,808.6L276.7,809.1L277.7,809.5L278.7,809.9L279.7,810.3L280.7,810.7L281.7,811.1L282.7,811.5L283.7,811.9L284.7,812.3L285.7,812.7L286.7,813.2L287.7,813.6L288.7,814.0L289.7,814.4L290.7,814.8L291.7,815.2L292.7,815.5L293.7,815.9L294.7,816.3L295.7,816.7L296.7,817.1L297.7,817.5L298.7,817.9L299.7,818.2L300.7,818.6L301.7,819.0L302.7,819.3L303.7,819.7L304.7,820.1L305.7,820.4L306.7,820.8L307.7,821.1L308.7,821.5L309.7,821.8L310.7,822.2L311.7,822.5L312.7,822.9L313.7,823.2L314.7,823.5L315.7,823.8L316.7,824.2L317.7,824.5L318.7,824.8L319.7,825.1L320.7,825.4L321.7,825.7L322.7,826.0L323.7,826.3L324.7,826.6L325.7,826.9L326.7,827.2L327.7,827.4" stroke="#ff0000" stroke-width="3" stroke-dasharray="5.4 8"/>
</g>
<rect x="19.40" y="593.30" width="308.30" height="248.50" fill="none" stroke="#000" stroke-width="1.5"/>
<line x1="34.08" y1="841.80" x2="34.08" y2="847.20" stroke="#000" stroke-width="1.3"/>
<text x="34.08" y="858.30" class="tl" style="font-size:9.58px">2100</text>
<line x1="107.49" y1="841.80" x2="107.49" y2="847.20" stroke="#000" stroke-width="1.3"/>
<text x="107.49" y="858.30" class="tl" style="font-size:9.58px">2050</text>
<line x1="180.89" y1="841.80" x2="180.89" y2="847.20" stroke="#000" stroke-width="1.3"/>
<text x="180.89" y="858.30" class="tl" style="font-size:9.58px">2000</text>
<line x1="254.30" y1="841.80" x2="254.30" y2="847.20" stroke="#000" stroke-width="1.3"/>
<text x="254.30" y="858.30" class="tl" style="font-size:9.58px">1950</text>
<line x1="327.70" y1="841.80" x2="327.70" y2="847.20" stroke="#000" stroke-width="1.3"/>
<text x="327.70" y="858.30" class="tl" style="font-size:9.58px">1900</text>
<line x1="83.00" y1="687.50" x2="83.00" y2="700.10" stroke="#333" stroke-width="0.8"/>
<text x="83.00" y="708.78" class="pl" style="font-size:8.24px">2070</text>
<line x1="125.30" y1="760.70" x2="125.30" y2="770.00" stroke="#333" stroke-width="0.8"/>
<text x="125.30" y="778.78" class="pl" style="font-size:8.24px">2036</text>
<line x1="195.40" y1="790.40" x2="195.40" y2="800.90" stroke="#333" stroke-width="0.8"/>
<text x="195.40" y="808.38" class="pl" style="font-size:8.24px">1990</text>
<rect x="63.70" y="599.40" width="59.90" height="14.90" fill="#aef3ae"/>
<text x="93.65" y="610.04" class="tt" style="font-size:9.68px">NH<tspan style="font-size:6.49px" dy="2.4">4</tspan><tspan dy="-2.4">SCN 40%</tspan></text>
<line x1="241.90" y1="602.70" x2="263.50" y2="602.70" stroke="#222" stroke-width="1.2"/>
<text x="266.00" y="605.79" class="lg" style="font-size:9.27px">Experimental</text>
<line x1="241.90" y1="614.40" x2="263.50" y2="614.40" stroke="#cf8a00" stroke-width="3"/>
<text x="266.00" y="617.49" class="lg" style="font-size:9.27px">Ion Aggregates</text>
<line x1="241.90" y1="626.30" x2="263.50" y2="626.30" stroke="#00f800" stroke-width="3"/>
<text x="266.00" y="629.39" class="lg" style="font-size:9.27px">Contact Ions</text>
<line x1="241.90" y1="637.70" x2="263.50" y2="637.70" stroke="#0000f5" stroke-width="3"/>
<text x="266.00" y="640.79" class="lg" style="font-size:9.27px">Free Ions</text>
<line x1="241.90" y1="649.60" x2="263.50" y2="649.60" stroke="#ff0000" stroke-width="2.8" stroke-dasharray="5.1 9"/>
<text x="266.00" y="652.69" class="lg" style="font-size:9.27px">Fitting Curve</text>
<text transform="translate(9.30,731.20) rotate(-90)" class="al" style="font-size:10.51px">Intensity (a.u.)</text>
<text x="159.40" y="875.70" class="xl" style="font-size:10.71px">Wavenumber (cm<tspan style="font-size:6.70px" dy="-4">-1</tspan><tspan dy="4">)</tspan></text>
<line x1="19.40" y1="842.00" x2="19.40" y2="864.30" stroke="#ff1493" stroke-width="1.1"/>
<path d="M16.90,859.80 L19.40,861.80 L21.90,859.80 L19.40,868.90 Z" fill="#ff1493"/>
<circle cx="19.40" cy="842.00" r="1.9" fill="#ff1493"/>
<text x="21.90" y="880.80" class="tl" style="font-size:9.58px">2110</text>
<g clip-path="url(#c48)" fill="none">
<path d="M367.5,834.4L368.5,834.1L369.5,833.7L370.5,833.3L371.5,832.9L372.5,832.4L373.5,831.8L374.5,831.2L375.5,830.5L376.5,829.8L377.5,829.0L378.5,828.1L379.5,827.1L380.5,826.0L381.5,824.8L382.5,823.6L383.5,822.2L384.5,820.7L385.5,819.0L386.5,817.3L387.6,815.4L388.6,813.4L389.6,811.3L390.6,809.0L391.6,806.5L392.6,804.0L393.6,801.2L394.6,798.4L395.6,795.4L396.6,792.2L397.6,788.9L398.6,785.4L399.6,781.9L400.6,778.1L401.6,774.3L402.6,770.4L403.6,766.3L404.6,762.2L405.6,758.0L406.6,753.8L407.6,749.4L408.6,745.1L409.6,740.8L410.6,736.4L411.6,732.1L412.6,727.8L413.6,723.6L414.6,719.5L415.6,715.5L416.6,711.6L417.6,707.9L418.6,704.3L419.6,701.0L420.6,697.9L421.6,695.0L422.6,692.3L423.6,690.0L424.6,687.9L425.7,686.1L426.7,684.7L427.7,683.6L428.7,682.8L429.7,682.3L430.7,682.2L431.7,682.5L432.7,683.1L433.7,684.0L434.7,685.3L435.7,686.9L436.7,688.8L437.7,691.0L438.7,693.4L439.7,696.2L440.7,699.2L441.7,702.4L442.7,705.8L443.7,709.5L444.7,713.3L445.7,717.2L446.7,721.2L447.7,725.4L448.7,729.6L449.7,733.9L450.7,738.3L451.7,742.6L452.7,747.0L453.7,751.3L454.7,755.6L455.7,759.8L456.7,764.0L457.7,768.1L458.7,772.1L459.7,776.0L460.7,779.8L461.7,783.4L462.7,786.9L463.8,790.3L464.8,793.6L465.8,796.7L466.8,799.6L467.8,802.4L468.8,805.1L469.8,807.6L470.8,810.0L471.8,812.2L472.8,814.3L473.8,816.2L474.8,818.1L475.8,819.8L476.8,821.3L477.8,822.8L478.8,824.1L479.8,825.3L480.8,826.5L481.8,827.5L482.8,828.5L483.8,829.3L484.8,830.1L485.8,830.8L486.8,831.5L487.8,832.1L488.8,832.6L489.8,833.1L490.8,833.5L491.8,833.9L492.8,834.2L493.8,834.5L494.8,834.8L495.8,835.1L496.8,835.3L497.8,835.5L498.8,835.6L499.8,835.8L500.8,835.9L501.9,836.0L502.9,836.2L503.9,836.2L504.9,836.3L505.9,836.4L506.9,836.5L507.9,836.5L508.9,836.6L509.9,836.6L510.9,836.7L511.9,836.7L512.9,836.7L513.9,836.8L514.9,836.8L515.9,836.8L516.9,836.8L517.9,836.9L518.9,836.9L519.9,836.9L520.9,836.9L521.9,836.9L522.9,836.9L523.9,837.0L524.9,837.0L525.9,837.0L526.9,837.0L527.9,837.0L528.9,837.0L529.9,837.0L530.9,837.0L531.9,837.0L532.9,837.1L533.9,837.1L534.9,837.1L535.9,837.1L536.9,837.1L537.9,837.1L538.9,837.1L539.9,837.1L541.0,837.1L542.0,837.1L543.0,837.1L544.0,837.1L545.0,837.1L546.0,837.1L547.0,837.2L548.0,837.2L549.0,837.2L550.0,837.2L551.0,837.2L552.0,837.2L553.0,837.2L554.0,837.2L555.0,837.2L556.0,837.2L557.0,837.2L558.0,837.2L559.0,837.2L560.0,837.2L561.0,837.2L562.0,837.2L563.0,837.2L564.0,837.2L565.0,837.2L566.0,837.2L567.0,837.2L568.0,837.2L569.0,837.2L570.0,837.3L571.0,837.3L572.0,837.3L573.0,837.3L574.0,837.3L575.0,837.3L576.0,837.3L577.0,837.3L578.0,837.3L579.1,837.3L580.1,837.3L581.1,837.3L582.1,837.3L583.1,837.3L584.1,837.3L585.1,837.3L586.1,837.3L587.1,837.3L588.1,837.3L589.1,837.3L590.1,837.3L591.1,837.3L592.1,837.3L593.1,837.3L594.1,837.3L595.1,837.3L596.1,837.3L597.1,837.3L598.1,837.3L599.1,837.3L600.1,837.3L601.1,837.3L602.1,837.3L603.1,837.3L604.1,837.3L605.1,837.3L606.1,837.3L607.1,837.3L608.1,837.3L609.1,837.3L610.1,837.3L611.1,837.4L612.1,837.4L613.1,837.4L614.1,837.4L615.1,837.4L616.1,837.4L617.2,837.4L618.2,837.4L619.2,837.4L620.2,837.4L621.2,837.4L622.2,837.4L623.2,837.4L624.2,837.4L625.2,837.4L626.2,837.4L627.2,837.4L628.2,837.4L629.2,837.4L630.2,837.4L631.2,837.4L632.2,837.4L633.2,837.4L634.2,837.4L635.2,837.4L636.2,837.4L637.2,837.4L638.2,837.4L639.2,837.4L640.2,837.4L641.2,837.4L642.2,837.4L643.2,837.4L644.2,837.4L645.2,837.4L646.2,837.4L647.2,837.4L648.2,837.4L649.2,837.4L650.2,837.4L651.2,837.4L652.2,837.4L653.2,837.4L654.2,837.4L655.3,837.4L656.3,837.4L657.3,837.4L658.3,837.4L659.3,837.4L660.3,837.4L661.3,837.4L662.3,837.4L663.3,837.4L664.3,837.4L665.3,837.4L666.3,837.4L667.3,837.4L668.3,837.4L669.3,837.4L670.3,837.4L671.3,837.4L672.3,837.4L673.3,837.4L674.3,837.4" stroke="#cf8a00" stroke-width="2.8"/>
<path d="M367.5,835.0L368.5,834.9L369.5,834.9L370.5,834.8L371.5,834.7L372.5,834.6L373.5,834.5L374.5,834.4L375.5,834.3L376.5,834.2L377.5,834.1L378.5,834.0L379.5,833.8L380.5,833.7L381.5,833.6L382.5,833.5L383.5,833.3L384.5,833.2L385.5,833.1L386.5,832.9L387.6,832.8L388.6,832.6L389.6,832.5L390.6,832.3L391.6,832.2L392.6,832.0L393.6,831.8L394.6,831.7L395.6,831.5L396.6,831.3L397.6,831.1L398.6,830.9L399.6,830.7L400.6,830.5L401.6,830.3L402.6,830.1L403.6,829.9L404.6,829.7L405.6,829.5L406.6,829.3L407.6,829.0L408.6,828.8L409.6,828.6L410.6,828.3L411.6,828.1L412.6,827.8L413.6,827.6L414.6,827.3L415.6,827.0L416.6,826.7L417.6,826.5L418.6,826.2L419.6,825.9L420.6,825.6L421.6,825.3L422.6,825.0L423.6,824.7L424.6,824.4L425.7,824.0L426.7,823.7L427.7,823.4L428.7,823.1L429.7,822.7L430.7,822.4L431.7,822.0L432.7,821.7L433.7,821.3L434.7,820.9L435.7,820.6L436.7,820.2L437.7,819.8L438.7,819.4L439.7,819.1L440.7,818.7L441.7,818.3L442.7,817.9L443.7,817.5L444.7,817.1L445.7,816.7L446.7,816.3L447.7,815.8L448.7,815.4L449.7,815.0L450.7,814.6L451.7,814.1L452.7,813.7L453.7,813.3L454.7,812.8L455.7,812.4L456.7,812.0L457.7,811.5L458.7,811.1L459.7,810.6L460.7,810.2L461.7,809.7L462.7,809.3L463.8,808.8L464.8,808.4L465.8,807.9L466.8,807.5L467.8,807.0L468.8,806.6L469.8,806.1L470.8,805.7L471.8,805.2L472.8,804.8L473.8,804.3L474.8,803.9L475.8,803.4L476.8,803.0L477.8,802.5L478.8,802.1L479.8,801.7L480.8,801.2L481.8,800.8L482.8,800.4L483.8,799.9L484.8,799.5L485.8,799.1L486.8,798.7L487.8,798.3L488.8,797.9L489.8,797.5L490.8,797.1L491.8,796.7L492.8,796.3L493.8,795.9L494.8,795.6L495.8,795.2L496.8,794.8L497.8,794.5L498.8,794.2L499.8,793.8L500.8,793.5L501.9,793.2L502.9,792.9L503.9,792.5L504.9,792.3L505.9,792.0L506.9,791.7L507.9,791.4L508.9,791.2L509.9,790.9L510.9,790.7L511.9,790.4L512.9,790.2L513.9,790.0L514.9,789.8L515.9,789.6L516.9,789.4L517.9,789.3L518.9,789.1L519.9,788.9L520.9,788.8L521.9,788.7L522.9,788.6L523.9,788.5L524.9,788.4L525.9,788.3L526.9,788.2L527.9,788.2L528.9,788.1L529.9,788.1L530.9,788.1L531.9,788.1L532.9,788.1L533.9,788.1L534.9,788.1L535.9,788.1L536.9,788.2L537.9,788.2L538.9,788.3L539.9,788.4L541.0,788.5L542.0,788.6L543.0,788.7L544.0,788.8L545.0,789.0L546.0,789.1L547.0,789.3L548.0,789.5L549.0,789.7L550.0,789.9L551.0,790.1L552.0,790.3L553.0,790.5L554.0,790.7L555.0,791.0L556.0,791.2L557.0,791.5L558.0,791.8L559.0,792.0L560.0,792.3L561.0,792.6L562.0,792.9L563.0,793.3L564.0,793.6L565.0,793.9L566.0,794.2L567.0,794.6L568.0,794.9L569.0,795.3L570.0,795.7L571.0,796.0L572.0,796.4L573.0,796.8L574.0,797.2L575.0,797.6L576.0,798.0L577.0,798.4L578.0,798.8L579.1,799.2L580.1,799.6L581.1,800.1L582.1,800.5L583.1,800.9L584.1,801.3L585.1,801.8L586.1,802.2L587.1,802.7L588.1,803.1L589.1,803.5L590.1,804.0L591.1,804.4L592.1,804.9L593.1,805.3L594.1,805.8L595.1,806.2L596.1,806.7L597.1,807.2L598.1,807.6L599.1,808.1L600.1,808.5L601.1,809.0L602.1,809.4L603.1,809.9L604.1,810.3L605.1,810.8L606.1,811.2L607.1,811.6L608.1,812.1L609.1,812.5L610.1,813.0L611.1,813.4L612.1,813.8L613.1,814.3L614.1,814.7L615.1,815.1L616.1,815.5L617.2,816.0L618.2,816.4L619.2,816.8L620.2,817.2L621.2,817.6L622.2,818.0L623.2,818.4L624.2,818.8L625.2,819.2L626.2,819.6L627.2,819.9L628.2,820.3L629.2,820.7L630.2,821.0L631.2,821.4L632.2,821.8L633.2,822.1L634.2,822.5L635.2,822.8L636.2,823.1L637.2,823.5L638.2,823.8L639.2,824.1L640.2,824.5L641.2,824.8L642.2,825.1L643.2,825.4L644.2,825.7L645.2,826.0L646.2,826.3L647.2,826.5L648.2,826.8L649.2,827.1L650.2,827.4L651.2,827.6L652.2,827.9L653.2,828.1L654.2,828.4L655.3,828.6L656.3,828.9L657.3,829.1L658.3,829.3L659.3,829.6L660.3,829.8L661.3,830.0L662.3,830.2L663.3,830.4L664.3,830.6L665.3,830.8L666.3,831.0L667.3,831.2L668.3,831.4L669.3,831.5L670.3,831.7L671.3,831.9L672.3,832.1L673.3,832.2L674.3,832.4" stroke="#00f800" stroke-width="2.8"/>
<path d="M367.5,836.2L368.5,836.1L369.5,836.0L370.5,835.9L371.5,835.8L372.5,835.6L373.5,835.4L374.5,835.3L375.5,835.1L376.5,834.9L377.5,834.7L378.5,834.5L379.5,834.2L380.5,834.0L381.5,833.7L382.5,833.4L383.5,833.1L384.5,832.8L385.5,832.5L386.5,832.1L387.6,831.7L388.6,831.3L389.6,830.9L390.6,830.4L391.6,830.0L392.6,829.5L393.6,828.9L394.6,828.4L395.6,827.8L396.6,827.2L397.6,826.6L398.6,825.9L399.6,825.2L400.6,824.5L401.6,823.8L402.6,823.0L403.6,822.2L404.6,821.3L405.6,820.4L406.6,819.5L407.6,818.6L408.6,817.6L409.6,816.6L410.6,815.6L411.6,814.5L412.6,813.4L413.6,812.3L414.6,811.1L415.6,809.9L416.6,808.7L417.6,807.5L418.6,806.2L419.6,804.9L420.6,803.6L421.6,802.2L422.6,800.8L423.6,799.4L424.6,798.0L425.7,796.6L426.7,795.2L427.7,793.7L428.7,792.2L429.7,790.8L430.7,789.3L431.7,787.8L432.7,786.3L433.7,784.8L434.7,783.3L435.7,781.8L436.7,780.4L437.7,778.9L438.7,777.5L439.7,776.0L440.7,774.6L441.7,773.3L442.7,771.9L443.7,770.6L444.7,769.3L445.7,768.0L446.7,766.8L447.7,765.6L448.7,764.5L449.7,763.4L450.7,762.3L451.7,761.3L452.7,760.4L453.7,759.5L454.7,758.7L455.7,757.9L456.7,757.2L457.7,756.5L458.7,756.0L459.7,755.5L460.7,755.0L461.7,754.6L462.7,754.3L463.8,754.1L464.8,753.9L465.8,753.8L466.8,753.8L467.8,753.9L468.8,754.0L469.8,754.2L470.8,754.4L471.8,754.8L472.8,755.2L473.8,755.7L474.8,756.2L475.8,756.8L476.8,757.5L477.8,758.2L478.8,759.0L479.8,759.9L480.8,760.8L481.8,761.8L482.8,762.8L483.8,763.8L484.8,765.0L485.8,766.1L486.8,767.3L487.8,768.6L488.8,769.8L489.8,771.1L490.8,772.5L491.8,773.9L492.8,775.2L493.8,776.7L494.8,778.1L495.8,779.5L496.8,781.0L497.8,782.5L498.8,784.0L499.8,785.5L500.8,786.9L501.9,788.4L502.9,789.9L503.9,791.4L504.9,792.9L505.9,794.3L506.9,795.8L507.9,797.2L508.9,798.6L509.9,800.1L510.9,801.4L511.9,802.8L512.9,804.1L513.9,805.5L514.9,806.7L515.9,808.0L516.9,809.2L517.9,810.4L518.9,811.6L519.9,812.8L520.9,813.9L521.9,815.0L522.9,816.0L523.9,817.1L524.9,818.0L525.9,819.0L526.9,819.9L527.9,820.8L528.9,821.7L529.9,822.5L530.9,823.3L531.9,824.1L532.9,824.8L533.9,825.5L534.9,826.2L535.9,826.9L536.9,827.5L537.9,828.1L538.9,828.6L539.9,829.2L541.0,829.7L542.0,830.2L543.0,830.6L544.0,831.1L545.0,831.5L546.0,831.9L547.0,832.3L548.0,832.6L549.0,832.9L550.0,833.3L551.0,833.6L552.0,833.8L553.0,834.1L554.0,834.3L555.0,834.6L556.0,834.8L557.0,835.0L558.0,835.2L559.0,835.3L560.0,835.5L561.0,835.7L562.0,835.8L563.0,835.9L564.0,836.1L565.0,836.2L566.0,836.3L567.0,836.4L568.0,836.5L569.0,836.6L570.0,836.6L571.0,836.7L572.0,836.8L573.0,836.8L574.0,836.9L575.0,837.0L576.0,837.0L577.0,837.1L578.0,837.1L579.1,837.1L580.1,837.2L581.1,837.2L582.1,837.2L583.1,837.3L584.1,837.3L585.1,837.3L586.1,837.3L587.1,837.3L588.1,837.4L589.1,837.4L590.1,837.4L591.1,837.4L592.1,837.4L593.1,837.4L594.1,837.4L595.1,837.4L596.1,837.4L597.1,837.4L598.1,837.4L599.1,837.5L600.1,837.5L601.1,837.5L602.1,837.5L603.1,837.5L604.1,837.5L605.1,837.5L606.1,837.5L607.1,837.5L608.1,837.5L609.1,837.5L610.1,837.5L611.1,837.5L612.1,837.5L613.1,837.5L614.1,837.5L615.1,837.5L616.1,837.5L617.2,837.5L618.2,837.5L619.2,837.5L620.2,837.5L621.2,837.5L622.2,837.5L623.2,837.5L624.2,837.5L625.2,837.5L626.2,837.5L627.2,837.5L628.2,837.5L629.2,837.5L630.2,837.5L631.2,837.5L632.2,837.5L633.2,837.5L634.2,837.5L635.2,837.5L636.2,837.5L637.2,837.5L638.2,837.5L639.2,837.5L640.2,837.5L641.2,837.5L642.2,837.5L643.2,837.5L644.2,837.5L645.2,837.5L646.2,837.5L647.2,837.5L648.2,837.5L649.2,837.5L650.2,837.5L651.2,837.5L652.2,837.5L653.2,837.5L654.2,837.5L655.3,837.5L656.3,837.5L657.3,837.5L658.3,837.5L659.3,837.5L660.3,837.5L661.3,837.5L662.3,837.5L663.3,837.5L664.3,837.5L665.3,837.5L666.3,837.5L667.3,837.5L668.3,837.5L669.3,837.5L670.3,837.5L671.3,837.5L672.3,837.5L673.3,837.5L674.3,837.5" stroke="#0000f5" stroke-width="2.8"/>
<path d="M367.5,832.3L368.5,831.9L369.5,831.5L370.5,831.2L371.5,830.8L372.5,830.5L373.5,830.2L374.5,829.7L375.5,829.2L376.5,828.4L377.5,827.4L378.5,826.1L379.5,824.4L380.5,822.6L381.5,820.4L382.5,818.1L383.5,815.7L384.5,813.2L385.5,810.6L386.5,808.0L387.6,805.3L388.6,802.4L389.6,799.5L390.6,796.4L391.6,793.2L392.6,789.8L393.6,786.2L394.6,782.4L395.6,778.5L396.6,774.4L397.6,770.2L398.6,765.7L399.6,761.1L400.6,756.4L401.6,751.4L402.6,746.4L403.6,741.2L404.6,735.9L405.6,730.6L406.6,725.1L407.6,719.6L408.6,714.0L409.6,708.4L410.6,702.7L411.6,697.1L412.6,691.5L413.6,686.0L414.6,680.5L415.6,675.1L416.6,669.8L417.6,664.7L418.6,659.8L419.6,655.0L420.6,650.4L421.6,646.1L422.6,642.0L423.6,638.3L424.6,634.8L425.7,631.7L426.7,628.9L427.7,626.5L428.7,624.5L429.7,622.8L430.7,621.4L431.7,620.3L432.7,619.5L433.7,618.9L434.7,618.5L435.7,618.2L436.7,618.1L437.7,618.2L438.7,618.5L439.7,618.9L440.7,619.6L441.7,620.6L442.7,621.8L443.7,623.2L444.7,624.8L445.7,626.7L446.7,628.7L447.7,630.8L448.7,633.1L449.7,635.5L450.7,637.9L451.7,640.4L452.7,643.0L453.7,645.7L454.7,648.4L455.7,651.1L456.7,653.9L457.7,656.8L458.7,659.8L459.7,662.8L460.7,665.8L461.7,668.9L462.7,671.9L463.8,675.0L464.8,678.0L465.8,681.0L466.8,684.0L467.8,686.8L468.8,689.6L469.8,692.3L470.8,694.9L471.8,697.3L472.8,699.7L473.8,701.9L474.8,704.1L475.8,706.1L476.8,708.1L477.8,710.0L478.8,711.8L479.8,713.6L480.8,715.3L481.8,717.0L482.8,718.6L483.8,720.2L484.8,721.8L485.8,723.3L486.8,724.8L487.8,726.3L488.8,727.7L489.8,729.2L490.8,730.6L491.8,732.0L492.8,733.4L493.8,734.8L494.8,736.2L495.8,737.5L496.8,738.9L497.8,740.2L498.8,741.6L499.8,742.9L500.8,744.2L501.9,745.5L502.9,746.8L503.9,748.0L504.9,749.3L505.9,750.5L506.9,751.7L507.9,752.9L508.9,754.0L509.9,755.1L510.9,756.3L511.9,757.3L512.9,758.4L513.9,759.5L514.9,760.5L515.9,761.5L516.9,762.5L517.9,763.5L518.9,764.4L519.9,765.4L520.9,766.3L521.9,767.2L522.9,768.2L523.9,769.1L524.9,770.0L525.9,770.9L526.9,771.8L527.9,772.6L528.9,773.5L529.9,774.3L530.9,775.1L531.9,775.9L532.9,776.7L533.9,777.5L534.9,778.2L535.9,778.9L536.9,779.6L537.9,780.2L538.9,780.9L539.9,781.5L541.0,782.1L542.0,782.7L543.0,783.2L544.0,783.8L545.0,784.3L546.0,784.8L547.0,785.3L548.0,785.8L549.0,786.3L550.0,786.8L551.0,787.2L552.0,787.7L553.0,788.1L554.0,788.5L555.0,789.0L556.0,789.4L557.0,789.8L558.0,790.3L559.0,790.7L560.0,791.1L561.0,791.5L562.0,791.9L563.0,792.3L564.0,792.7L565.0,793.2L566.0,793.6L567.0,794.0L568.0,794.4L569.0,794.8L570.0,795.2L571.0,795.6L572.0,796.1L573.0,796.5L574.0,796.9L575.0,797.3L576.0,797.7L577.0,798.2L578.0,798.6L579.1,799.0L580.1,799.5L581.1,799.9L582.1,800.3L583.1,800.8L584.1,801.2L585.1,801.7L586.1,802.1L587.1,802.6L588.1,803.0L589.1,803.5L590.1,803.9L591.1,804.4L592.1,804.8L593.1,805.3L594.1,805.7L595.1,806.2L596.1,806.6L597.1,807.1L598.1,807.5L599.1,808.0L600.1,808.5L601.1,808.9L602.1,809.4L603.1,809.8L604.1,810.3L605.1,810.7L606.1,811.2L607.1,811.6L608.1,812.1L609.1,812.5L610.1,813.0L611.1,813.4L612.1,813.9L613.1,814.3L614.1,814.7L615.1,815.2L616.1,815.6L617.2,816.0L618.2,816.4L619.2,816.8L620.2,817.3L621.2,817.7L622.2,818.1L623.2,818.5L624.2,818.9L625.2,819.2L626.2,819.6L627.2,820.0L628.2,820.3L629.2,820.7L630.2,821.0L631.2,821.4L632.2,821.7L633.2,822.0L634.2,822.3L635.2,822.6L636.2,822.8L637.2,823.1L638.2,823.3L639.2,823.5L640.2,823.8L641.2,824.0L642.2,824.1L643.2,824.3L644.2,824.5L645.2,824.6L646.2,824.8L647.2,824.9L648.2,825.0L649.2,825.2L650.2,825.3L651.2,825.4L652.2,825.6L653.2,825.7L654.2,825.8L655.3,826.0L656.3,826.2L657.3,826.3L658.3,826.5L659.3,826.7L660.3,827.0L661.3,827.2L662.3,827.4L663.3,827.7L664.3,828.0L665.3,828.3L666.3,828.6L667.3,828.9L668.3,829.2L669.3,829.5L670.3,829.8L671.3,830.1L672.3,830.5L673.3,830.8L674.3,831.1" stroke="#111" stroke-width="1.25"/>
<path d="M367.5,832.1L368.5,831.6L369.5,831.0L370.5,830.3L371.5,829.6L372.5,828.8L373.5,828.0L374.5,827.1L375.5,826.1L376.5,825.0L377.5,823.8L378.5,822.4L379.5,821.0L380.5,819.5L381.5,817.8L382.5,816.1L383.5,814.1L384.5,812.1L385.5,809.8L386.5,807.5L387.6,804.9L388.6,802.3L389.6,799.4L390.6,796.4L391.6,793.1L392.6,789.8L393.6,786.2L394.6,782.4L395.6,778.5L396.6,774.4L397.6,770.2L398.6,765.7L399.6,761.1L400.6,756.4L401.6,751.4L402.6,746.4L403.6,741.2L404.6,735.9L405.6,730.6L406.6,725.1L407.6,719.6L408.6,714.0L409.6,708.4L410.6,702.7L411.6,697.1L412.6,691.5L413.6,686.0L414.6,680.5L415.6,675.1L416.6,669.8L417.6,664.7L418.6,659.7L419.6,655.0L420.6,650.4L421.6,646.0L422.6,641.8L423.6,638.0L424.6,634.3L425.7,631.0L426.7,627.9L427.7,625.2L428.7,622.8L429.7,620.7L430.7,618.9L431.7,617.4L432.7,616.2L433.7,615.4L434.7,614.9L435.7,614.7L436.7,614.8L437.7,615.2L438.7,615.9L439.7,616.8L440.7,618.0L441.7,619.5L442.7,621.2L443.7,623.1L444.7,625.2L445.7,627.4L446.7,629.8L447.7,632.4L448.7,635.1L449.7,637.8L450.7,640.7L451.7,643.6L452.7,646.6L453.7,649.6L454.7,652.7L455.7,655.7L456.7,658.8L457.7,661.8L458.7,664.8L459.7,667.8L460.7,670.7L461.7,673.6L462.7,676.4L463.8,679.1L464.8,681.8L465.8,684.4L466.8,686.9L467.8,689.4L468.8,691.8L469.8,694.1L470.8,696.4L471.8,698.5L472.8,700.6L473.8,702.7L474.8,704.7L475.8,706.6L476.8,708.4L477.8,710.3L478.8,712.0L479.8,713.7L480.8,715.4L481.8,717.1L482.8,718.7L483.8,720.2L484.8,721.8L485.8,723.3L486.8,724.8L487.8,726.3L488.8,727.7L489.8,729.2L490.8,730.6L491.8,732.0L492.8,733.4L493.8,734.8L494.8,736.2L495.8,737.6L496.8,738.9L497.8,740.3L498.8,741.6L499.8,743.0L500.8,744.3L501.9,745.6L502.9,746.9L503.9,748.2L504.9,749.4L505.9,750.7L506.9,752.0L507.9,753.2L508.9,754.4L509.9,755.6L510.9,756.8L511.9,757.9L512.9,759.1L513.9,760.2L514.9,761.3L515.9,762.4L516.9,763.4L517.9,764.5L518.9,765.5L519.9,766.5L520.9,767.5L521.9,768.4L522.9,769.3L523.9,770.2L524.9,771.1L525.9,772.0L526.9,772.8L527.9,773.6L528.9,774.4L529.9,775.2L530.9,775.9L531.9,776.7L532.9,777.4L533.9,778.0L534.9,778.7L535.9,779.4L536.9,780.0L537.9,780.6L538.9,781.2L539.9,781.8L541.0,782.3L542.0,782.9L543.0,783.4L544.0,784.0L545.0,784.5L546.0,785.0L547.0,785.5L548.0,786.0L549.0,786.4L550.0,786.9L551.0,787.4L552.0,787.8L553.0,788.3L554.0,788.7L555.0,789.1L556.0,789.6L557.0,790.0L558.0,790.4L559.0,790.8L560.0,791.2L561.0,791.7L562.0,792.1L563.0,792.5L564.0,792.9L565.0,793.3L566.0,793.7L567.0,794.1L568.0,794.6L569.0,795.0L570.0,795.4L571.0,795.8L572.0,796.2L573.0,796.6L574.0,797.1L575.0,797.5L576.0,797.9L577.0,798.3L578.0,798.8L579.1,799.2L580.1,799.6L581.1,800.1L582.1,800.5L583.1,800.9L584.1,801.4L585.1,801.8L586.1,802.3L587.1,802.7L588.1,803.2L589.1,803.6L590.1,804.1L591.1,804.5L592.1,805.0L593.1,805.4L594.1,805.9L595.1,806.3L596.1,806.8L597.1,807.2L598.1,807.7L599.1,808.1L600.1,808.6L601.1,809.1L602.1,809.5L603.1,810.0L604.1,810.4L605.1,810.9L606.1,811.3L607.1,811.8L608.1,812.2L609.1,812.7L610.1,813.1L611.1,813.5L612.1,814.0L613.1,814.4L614.1,814.8L615.1,815.3L616.1,815.7L617.2,816.1L618.2,816.5L619.2,817.0L620.2,817.4L621.2,817.8L622.2,818.2L623.2,818.6L624.2,819.0L625.2,819.4L626.2,819.8L627.2,820.2L628.2,820.6L629.2,820.9L630.2,821.3L631.2,821.7L632.2,822.0L633.2,822.4L634.2,822.8L635.2,823.1L636.2,823.4L637.2,823.8L638.2,824.1L639.2,824.5L640.2,824.8L641.2,825.1L642.2,825.4L643.2,825.7L644.2,826.0L645.2,826.3L646.2,826.6L647.2,826.9L648.2,827.2L649.2,827.5L650.2,827.8L651.2,828.0L652.2,828.3L653.2,828.5L654.2,828.8L655.3,829.0L656.3,829.3L657.3,829.5L658.3,829.8L659.3,830.0L660.3,830.2L661.3,830.4L662.3,830.6L663.3,830.8L664.3,831.1L665.3,831.3L666.3,831.4L667.3,831.6L668.3,831.8L669.3,832.0L670.3,832.2L671.3,832.4L672.3,832.5L673.3,832.7L674.3,832.8" stroke="#ff0000" stroke-width="3" stroke-dasharray="5.4 8"/>
</g>
<rect x="367.50" y="592.70" width="306.80" height="247.10" fill="none" stroke="#000" stroke-width="1.5"/>
<line x1="382.11" y1="839.80" x2="382.11" y2="845.20" stroke="#000" stroke-width="1.3"/>
<text x="382.11" y="856.30" class="tl" style="font-size:9.58px">2100</text>
<line x1="455.16" y1="839.80" x2="455.16" y2="845.20" stroke="#000" stroke-width="1.3"/>
<text x="455.16" y="856.30" class="tl" style="font-size:9.58px">2050</text>
<line x1="528.20" y1="839.80" x2="528.20" y2="845.20" stroke="#000" stroke-width="1.3"/>
<text x="528.20" y="856.30" class="tl" style="font-size:9.58px">2000</text>
<line x1="601.25" y1="839.80" x2="601.25" y2="845.20" stroke="#000" stroke-width="1.3"/>
<text x="601.25" y="856.30" class="tl" style="font-size:9.58px">1950</text>
<line x1="674.30" y1="839.80" x2="674.30" y2="845.20" stroke="#000" stroke-width="1.3"/>
<text x="674.30" y="856.30" class="tl" style="font-size:9.58px">1900</text>
<line x1="429.70" y1="686.60" x2="429.70" y2="701.50" stroke="#333" stroke-width="0.8"/>
<text x="429.70" y="709.68" class="pl" style="font-size:8.24px">2070</text>
<line x1="467.40" y1="757.20" x2="467.40" y2="766.10" stroke="#333" stroke-width="0.8"/>
<text x="467.40" y="773.68" class="pl" style="font-size:8.24px">2036</text>
<line x1="538.90" y1="792.20" x2="538.90" y2="801.60" stroke="#333" stroke-width="0.8"/>
<text x="538.90" y="809.58" class="pl" style="font-size:8.24px">1990</text>
<rect x="406.40" y="595.90" width="59.20" height="14.50" fill="#aef3ae"/>
<text x="436.00" y="606.34" class="tt" style="font-size:9.68px">NH<tspan style="font-size:6.49px" dy="2.4">4</tspan><tspan dy="-2.4">SCN 48%</tspan></text>
<line x1="590.60" y1="601.90" x2="611.40" y2="601.90" stroke="#222" stroke-width="1.2"/>
<text x="614.60" y="604.99" class="lg" style="font-size:9.27px">Experimental</text>
<line x1="590.60" y1="613.90" x2="611.40" y2="613.90" stroke="#cf8a00" stroke-width="3"/>
<text x="614.60" y="616.99" class="lg" style="font-size:9.27px">Ion Aggregates</text>
<line x1="590.60" y1="625.50" x2="611.40" y2="625.50" stroke="#00f800" stroke-width="3"/>
<text x="614.60" y="628.59" class="lg" style="font-size:9.27px">Contact Ions</text>
<line x1="590.60" y1="636.70" x2="611.40" y2="636.70" stroke="#0000f5" stroke-width="3"/>
<text x="614.60" y="639.79" class="lg" style="font-size:9.27px">Free Ions</text>
<line x1="590.60" y1="648.40" x2="611.40" y2="648.40" stroke="#ff0000" stroke-width="2.8" stroke-dasharray="5.1 9"/>
<text x="614.60" y="651.49" class="lg" style="font-size:9.27px">Fitting Curve</text>
<text transform="translate(356.60,717.00) rotate(-90)" class="al" style="font-size:10.51px">Intensity (a.u.)</text>
<text x="513.10" y="870.80" class="xl" style="font-size:10.71px">Wavenumber (cm<tspan style="font-size:6.70px" dy="-4">-1</tspan><tspan dy="4">)</tspan></text>
<line x1="367.50" y1="840.00" x2="367.50" y2="860.80" stroke="#ff1493" stroke-width="1.1"/>
<path d="M365.00,856.30 L367.50,858.30 L370.00,856.30 L367.50,865.40 Z" fill="#ff1493"/>
<circle cx="367.50" cy="840.00" r="1.9" fill="#ff1493"/>
<text x="368.90" y="879.00" class="tl" style="font-size:9.58px">2110</text></svg>
</body></html>
